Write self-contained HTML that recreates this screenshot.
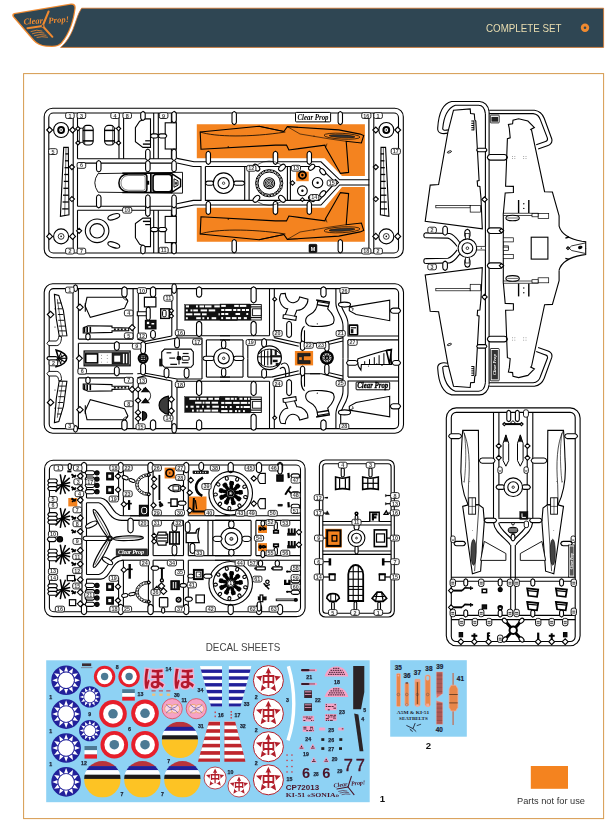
<!DOCTYPE html>
<html lang="en"><head><meta charset="utf-8"><title>Complete set</title>
<style>
html,body{margin:0;padding:0;background:#fff}
body{width:611px;height:834px;overflow:hidden}
svg{display:block;font-family:"Liberation Sans","Noto Sans CJK JP",sans-serif}
</style></head><body>
<svg width="611" height="834" viewBox="0 0 611 834">
<g opacity="0.999">
<g id="base">
<path d="M81.6 8.2 L603.6 8.2 L603.6 47.4 L60.6 47.4 C66.5 42.6 70.2 36 72.9 29.6 C75.6 23 77.6 14 81.6 8.2 Z" fill="#2f4653" stroke="#d9762a" stroke-width="0.8"/>
<path d="M14.2 13 L71 3.5 Q76 3 75.7 8 C74.2 20 70.4 33 62 43.2 Q58.6 47 52 47 L46 46.8 Q38 46.2 33 40.6 L12.8 17 Q11.2 13.8 14.2 13 Z" fill="#f08a30"/>
<path d="M15.4 14 L70.6 4.8 Q74.8 4.5 74.4 8.4 C73 19.6 69.4 32.4 61.2 42.2 Q58 45.8 52 45.7 L46.2 45.5 Q38.8 45 34.2 39.8 L14.2 16.4 Q13.2 14.5 15.4 14 Z" fill="#2f4653"/>
<g stroke="#f08a30" stroke-linecap="round" fill="none"><path d="M48.6 11.5 L42.6 26" stroke-width="2"/><path d="M42.6 26 L52.4 36.8" stroke-width="2"/><path d="M42.6 26 L27.4 28.2" stroke-width="1.9"/><circle cx="42.6" cy="26" r="1.4" fill="#2f4653" stroke-width="0.7"/><path d="M31 31.5 Q37 29 42 31 M32.5 33.6 Q38 31.2 44 33 M34.5 35.6 Q39.5 33.6 46 35.2 M37 37.4 Q41.5 36 47.5 37.2" stroke-width="0.8"/></g>
<text x="23.6" y="24.6" font-size="8.6" font-style="italic" font-weight="bold" fill="#f08a30" transform="rotate(-4 24 24)" font-family="'Liberation Serif',serif">Clear</text>
<text x="48.6" y="23.4" font-size="8.6" font-style="italic" font-weight="bold" fill="#f08a30" transform="rotate(-4 49 23)" font-family="'Liberation Serif',serif">Prop!</text>
<text x="561.5" y="31.6" font-size="11.2" text-anchor="end" fill="#e9ddb0" textLength="75.5" lengthAdjust="spacingAndGlyphs">COMPLETE SET</text>
<circle cx="585" cy="27.8" r="4.2" fill="#f08a30"/><circle cx="585" cy="27.8" r="1.3" fill="#2f4653"/>
<rect x="23.6" y="73.6" width="580" height="745" fill="none" stroke="#d69a4e" stroke-width="1"/>
<text x="243" y="651.4" font-size="11.4" text-anchor="middle" fill="#444" textLength="74.5" lengthAdjust="spacingAndGlyphs">DECAL SHEETS</text>
<rect x="530.8" y="766" width="37.2" height="22.8" fill="#f4831f"/>
<text x="551" y="803.5" font-size="9.4" text-anchor="middle" fill="#333" textLength="68" lengthAdjust="spacingAndGlyphs">Parts not for use</text>
<text x="382.5" y="802" font-size="9.6" text-anchor="middle" font-weight="bold" fill="#111">1</text>
<text x="428.5" y="749.4" font-size="9.6" text-anchor="middle" font-weight="bold" fill="#111">2</text>
</g>
<g id="decal1">
<rect x="46.2" y="660.3" width="323.5" height="141.9" fill="#8ed2f4"/>
<circle cx="66.1" cy="680.2" r="14.8" fill="#21209a" stroke="#000" stroke-width="0"/>
<polygon points="66.1,666.4 64.1,671.5 68.1,671.5" fill="#fff" stroke="#000" stroke-width="0"/>
<polygon points="73,668.3 68.7,671.7 72.2,673.7" fill="#fff" stroke="#000" stroke-width="0"/>
<polygon points="78,673.3 72.6,674.1 74.6,677.6" fill="#fff" stroke="#000" stroke-width="0"/>
<polygon points="79.9,680.2 74.8,678.2 74.8,682.2" fill="#fff" stroke="#000" stroke-width="0"/>
<polygon points="78,687.1 74.6,682.8 72.6,686.3" fill="#fff" stroke="#000" stroke-width="0"/>
<polygon points="73,692.1 72.2,686.7 68.7,688.7" fill="#fff" stroke="#000" stroke-width="0"/>
<polygon points="66.1,694 68.1,688.9 64.1,688.9" fill="#fff" stroke="#000" stroke-width="0"/>
<polygon points="59.2,692.1 63.5,688.7 60,686.7" fill="#fff" stroke="#000" stroke-width="0"/>
<polygon points="54.2,687.1 59.6,686.3 57.6,682.8" fill="#fff" stroke="#000" stroke-width="0"/>
<polygon points="52.3,680.2 57.4,682.2 57.4,678.2" fill="#fff" stroke="#000" stroke-width="0"/>
<polygon points="54.2,673.3 57.6,677.6 59.6,674.1" fill="#fff" stroke="#000" stroke-width="0"/>
<polygon points="59.2,668.3 60,673.7 63.5,671.7" fill="#fff" stroke="#000" stroke-width="0"/>
<circle cx="66.1" cy="680.2" r="7.8" fill="#fff" stroke="#000" stroke-width="0"/>
<circle cx="66.1" cy="714.1" r="14.8" fill="#21209a" stroke="#000" stroke-width="0"/>
<polygon points="66.1,700.3 64.1,705.4 68.1,705.4" fill="#fff" stroke="#000" stroke-width="0"/>
<polygon points="73,702.2 68.7,705.6 72.2,707.6" fill="#fff" stroke="#000" stroke-width="0"/>
<polygon points="78,707.2 72.6,708 74.6,711.5" fill="#fff" stroke="#000" stroke-width="0"/>
<polygon points="79.9,714.1 74.8,712.1 74.8,716.1" fill="#fff" stroke="#000" stroke-width="0"/>
<polygon points="78,721 74.6,716.7 72.6,720.2" fill="#fff" stroke="#000" stroke-width="0"/>
<polygon points="73,726 72.2,720.6 68.7,722.6" fill="#fff" stroke="#000" stroke-width="0"/>
<polygon points="66.1,727.9 68.1,722.8 64.1,722.8" fill="#fff" stroke="#000" stroke-width="0"/>
<polygon points="59.2,726 63.5,722.6 60,720.6" fill="#fff" stroke="#000" stroke-width="0"/>
<polygon points="54.2,721 59.6,720.2 57.6,716.7" fill="#fff" stroke="#000" stroke-width="0"/>
<polygon points="52.3,714.1 57.4,716.1 57.4,712.1" fill="#fff" stroke="#000" stroke-width="0"/>
<polygon points="54.2,707.2 57.6,711.5 59.6,708" fill="#fff" stroke="#000" stroke-width="0"/>
<polygon points="59.2,702.2 60,707.6 63.5,705.6" fill="#fff" stroke="#000" stroke-width="0"/>
<circle cx="66.1" cy="714.1" r="7.8" fill="#fff" stroke="#000" stroke-width="0"/>
<circle cx="66.1" cy="748" r="14.8" fill="#21209a" stroke="#000" stroke-width="0"/>
<polygon points="66.1,734.2 64.1,739.3 68.1,739.3" fill="#fff" stroke="#000" stroke-width="0"/>
<polygon points="73,736.1 68.7,739.5 72.2,741.5" fill="#fff" stroke="#000" stroke-width="0"/>
<polygon points="78,741.1 72.6,741.9 74.6,745.4" fill="#fff" stroke="#000" stroke-width="0"/>
<polygon points="79.9,748 74.8,746 74.8,750" fill="#fff" stroke="#000" stroke-width="0"/>
<polygon points="78,754.9 74.6,750.6 72.6,754.1" fill="#fff" stroke="#000" stroke-width="0"/>
<polygon points="73,759.9 72.2,754.5 68.7,756.5" fill="#fff" stroke="#000" stroke-width="0"/>
<polygon points="66.1,761.8 68.1,756.7 64.1,756.7" fill="#fff" stroke="#000" stroke-width="0"/>
<polygon points="59.2,759.9 63.5,756.5 60,754.5" fill="#fff" stroke="#000" stroke-width="0"/>
<polygon points="54.2,754.9 59.6,754.1 57.6,750.6" fill="#fff" stroke="#000" stroke-width="0"/>
<polygon points="52.3,748 57.4,750 57.4,746" fill="#fff" stroke="#000" stroke-width="0"/>
<polygon points="54.2,741.1 57.6,745.4 59.6,741.9" fill="#fff" stroke="#000" stroke-width="0"/>
<polygon points="59.2,736.1 60,741.5 63.5,739.5" fill="#fff" stroke="#000" stroke-width="0"/>
<circle cx="66.1" cy="748" r="7.8" fill="#fff" stroke="#000" stroke-width="0"/>
<circle cx="66.1" cy="781.9" r="14.8" fill="#21209a" stroke="#000" stroke-width="0"/>
<polygon points="66.1,768.1 64.1,773.2 68.1,773.2" fill="#fff" stroke="#000" stroke-width="0"/>
<polygon points="73,770 68.7,773.4 72.2,775.4" fill="#fff" stroke="#000" stroke-width="0"/>
<polygon points="78,775 72.6,775.8 74.6,779.3" fill="#fff" stroke="#000" stroke-width="0"/>
<polygon points="79.9,781.9 74.8,779.9 74.8,783.9" fill="#fff" stroke="#000" stroke-width="0"/>
<polygon points="78,788.8 74.6,784.5 72.6,788" fill="#fff" stroke="#000" stroke-width="0"/>
<polygon points="73,793.8 72.2,788.4 68.7,790.4" fill="#fff" stroke="#000" stroke-width="0"/>
<polygon points="66.1,795.7 68.1,790.6 64.1,790.6" fill="#fff" stroke="#000" stroke-width="0"/>
<polygon points="59.2,793.8 63.5,790.4 60,788.4" fill="#fff" stroke="#000" stroke-width="0"/>
<polygon points="54.2,788.8 59.6,788 57.6,784.5" fill="#fff" stroke="#000" stroke-width="0"/>
<polygon points="52.3,781.9 57.4,783.9 57.4,779.9" fill="#fff" stroke="#000" stroke-width="0"/>
<polygon points="54.2,775 57.6,779.3 59.6,775.8" fill="#fff" stroke="#000" stroke-width="0"/>
<polygon points="59.2,770 60,775.4 63.5,773.4" fill="#fff" stroke="#000" stroke-width="0"/>
<circle cx="66.1" cy="781.9" r="7.8" fill="#fff" stroke="#000" stroke-width="0"/>
<circle cx="89.8" cy="696.9" r="10.7" fill="#21209a" stroke="#000" stroke-width="0"/>
<polygon points="89.8,686.9 88.4,690.6 91.2,690.6" fill="#fff" stroke="#000" stroke-width="0"/>
<polygon points="94.8,688.3 91.7,690.8 94.2,692.2" fill="#fff" stroke="#000" stroke-width="0"/>
<polygon points="98.4,691.9 94.5,692.5 95.9,695" fill="#fff" stroke="#000" stroke-width="0"/>
<polygon points="99.8,696.9 96.1,695.5 96.1,698.3" fill="#fff" stroke="#000" stroke-width="0"/>
<polygon points="98.4,701.9 95.9,698.8 94.5,701.3" fill="#fff" stroke="#000" stroke-width="0"/>
<polygon points="94.8,705.5 94.2,701.6 91.7,703" fill="#fff" stroke="#000" stroke-width="0"/>
<polygon points="89.8,706.9 91.2,703.2 88.4,703.2" fill="#fff" stroke="#000" stroke-width="0"/>
<polygon points="84.8,705.5 87.9,703 85.4,701.6" fill="#fff" stroke="#000" stroke-width="0"/>
<polygon points="81.2,701.9 85.1,701.3 83.7,698.8" fill="#fff" stroke="#000" stroke-width="0"/>
<polygon points="79.8,696.9 83.5,698.3 83.5,695.5" fill="#fff" stroke="#000" stroke-width="0"/>
<polygon points="81.2,691.9 83.7,695 85.1,692.5" fill="#fff" stroke="#000" stroke-width="0"/>
<polygon points="84.8,688.3 85.4,692.2 87.9,690.8" fill="#fff" stroke="#000" stroke-width="0"/>
<circle cx="89.8" cy="696.9" r="5.6" fill="#fff" stroke="#000" stroke-width="0"/>
<circle cx="89.8" cy="730.6" r="10.7" fill="#21209a" stroke="#000" stroke-width="0"/>
<polygon points="89.8,720.6 88.4,724.3 91.2,724.3" fill="#fff" stroke="#000" stroke-width="0"/>
<polygon points="94.8,722 91.7,724.5 94.2,725.9" fill="#fff" stroke="#000" stroke-width="0"/>
<polygon points="98.4,725.6 94.5,726.2 95.9,728.7" fill="#fff" stroke="#000" stroke-width="0"/>
<polygon points="99.8,730.6 96.1,729.2 96.1,732" fill="#fff" stroke="#000" stroke-width="0"/>
<polygon points="98.4,735.6 95.9,732.5 94.5,735" fill="#fff" stroke="#000" stroke-width="0"/>
<polygon points="94.8,739.2 94.2,735.3 91.7,736.7" fill="#fff" stroke="#000" stroke-width="0"/>
<polygon points="89.8,740.6 91.2,736.9 88.4,736.9" fill="#fff" stroke="#000" stroke-width="0"/>
<polygon points="84.8,739.2 87.9,736.7 85.4,735.3" fill="#fff" stroke="#000" stroke-width="0"/>
<polygon points="81.2,735.6 85.1,735 83.7,732.5" fill="#fff" stroke="#000" stroke-width="0"/>
<polygon points="79.8,730.6 83.5,732 83.5,729.2" fill="#fff" stroke="#000" stroke-width="0"/>
<polygon points="81.2,725.6 83.7,728.7 85.1,726.2" fill="#fff" stroke="#000" stroke-width="0"/>
<polygon points="84.8,722 85.4,725.9 87.9,724.5" fill="#fff" stroke="#000" stroke-width="0"/>
<circle cx="89.8" cy="730.6" r="5.6" fill="#fff" stroke="#000" stroke-width="0"/>
<text x="50.6" y="699.1" font-size="5.2" text-anchor="middle" font-weight="bold" fill="#1c2233" stroke="#1c2233" stroke-width="0.25">1</text>
<text x="50.6" y="732.9" font-size="5.2" text-anchor="middle" font-weight="bold" fill="#1c2233" stroke="#1c2233" stroke-width="0.25">1</text>
<text x="50.6" y="766.4" font-size="5.2" text-anchor="middle" font-weight="bold" fill="#1c2233" stroke="#1c2233" stroke-width="0.25">1</text>
<text x="89.8" y="716.2" font-size="5.2" text-anchor="middle" font-weight="bold" fill="#1c2233" stroke="#1c2233" stroke-width="0.25">9</text>
<text x="84" y="765.2" font-size="5.2" text-anchor="middle" font-weight="bold" fill="#1c2233" stroke="#1c2233" stroke-width="0.25">12</text>
<rect x="82" y="663.4" width="9.2" height="2.7" fill="#3a2a30"/>
<rect x="81" y="667.4" width="11.4" height="0.7" fill="#7a6a78"/>
<circle cx="104.6" cy="676.5" r="10.7" fill="#e61f2b" stroke="#000" stroke-width="0"/>
<circle cx="104.6" cy="676.5" r="7.7" fill="#fff" stroke="#000" stroke-width="0"/>
<circle cx="104.6" cy="676.5" r="3.7" fill="#4c7a94" stroke="#000" stroke-width="0"/>
<circle cx="129.1" cy="676.5" r="10.7" fill="#e61f2b" stroke="#000" stroke-width="0"/>
<circle cx="129.1" cy="676.5" r="7.7" fill="#fff" stroke="#000" stroke-width="0"/>
<circle cx="129.1" cy="676.5" r="3.7" fill="#4c7a94" stroke="#000" stroke-width="0"/>
<circle cx="113" cy="713.8" r="13.8" fill="#e61f2b" stroke="#000" stroke-width="0"/>
<circle cx="113" cy="713.8" r="9.9" fill="#fff" stroke="#000" stroke-width="0"/>
<circle cx="113" cy="713.8" r="4.8" fill="#4c7a94" stroke="#000" stroke-width="0"/>
<circle cx="145" cy="713.3" r="13.8" fill="#e61f2b" stroke="#000" stroke-width="0"/>
<circle cx="145" cy="713.3" r="9.9" fill="#fff" stroke="#000" stroke-width="0"/>
<circle cx="145" cy="713.3" r="4.8" fill="#4c7a94" stroke="#000" stroke-width="0"/>
<circle cx="114.3" cy="744.7" r="13.8" fill="#e61f2b" stroke="#000" stroke-width="0"/>
<circle cx="114.3" cy="744.7" r="9.9" fill="#fff" stroke="#000" stroke-width="0"/>
<circle cx="114.3" cy="744.7" r="4.8" fill="#4c7a94" stroke="#000" stroke-width="0"/>
<circle cx="145" cy="744.7" r="13.8" fill="#e61f2b" stroke="#000" stroke-width="0"/>
<circle cx="145" cy="744.7" r="9.9" fill="#fff" stroke="#000" stroke-width="0"/>
<circle cx="145" cy="744.7" r="4.8" fill="#4c7a94" stroke="#000" stroke-width="0"/>
<text x="117.2" y="669.1" font-size="5.2" text-anchor="middle" font-weight="bold" fill="#1c2233" stroke="#1c2233" stroke-width="0.25">8</text>
<text x="129.4" y="731.2" font-size="5.4" text-anchor="middle" font-weight="bold" fill="#1c2233" stroke="#1c2233" stroke-width="0.25">6</text>
<text x="140.4" y="695.9" font-size="5.2" text-anchor="middle" font-weight="bold" fill="#1c2233" stroke="#1c2233" stroke-width="0.25">13</text>
<rect x="122.2" y="689.2" width="12.6" height="3.8" fill="#4c7a94"/>
<rect x="122.2" y="693" width="12.6" height="3.8" fill="#fff"/>
<rect x="122.2" y="696.8" width="12.6" height="3.8" fill="#e61f2b"/>
<rect x="84.5" y="746" width="12.5" height="4.2" fill="#4c7a94"/>
<rect x="84.5" y="750.2" width="12.5" height="4.2" fill="#fff"/>
<rect x="84.5" y="754.4" width="12.5" height="4.2" fill="#e61f2b"/>
<text x="153.8" y="686.6" font-size="22.4" text-anchor="middle" font-weight="bold" fill="#b3182c" stroke="#f7b2d0" stroke-width="2.6" paint-order="stroke" font-family="'Noto Sans CJK JP',sans-serif">ほ</text>
<text x="183.6" y="686.6" font-size="22.4" text-anchor="middle" font-weight="bold" fill="#b3182c" stroke="#f7b2d0" stroke-width="2.6" paint-order="stroke" font-family="'Noto Sans CJK JP',sans-serif">ほ</text>
<text x="168.5" y="671.1" font-size="5.2" text-anchor="middle" font-weight="bold" fill="#1c2233" stroke="#1c2233" stroke-width="0.25">14</text>
<text x="176.8" y="696.5" font-size="5.2" text-anchor="middle" font-weight="bold" fill="#1c2233" stroke="#1c2233" stroke-width="0.25">30</text>
<text x="184.2" y="701.9" font-size="5.2" text-anchor="middle" font-weight="bold" fill="#1c2233" stroke="#1c2233" stroke-width="0.25">11</text>
<text x="200.4" y="692.4" font-size="5.2" text-anchor="middle" font-weight="bold" fill="#1c2233" stroke="#1c2233" stroke-width="0.25">34</text>
<text x="200.8" y="727.6" font-size="5.2" text-anchor="middle" font-weight="bold" fill="#1c2233" stroke="#1c2233" stroke-width="0.25">31</text>
<rect x="151.5" y="690.4" width="4.2" height="1" fill="#c8343e"/>
<rect x="152.1" y="693.6" width="3.2" height="2.2" fill="#f1c07a"/>
<rect x="158.8" y="690.4" width="4.2" height="1" fill="#c8343e"/>
<rect x="159.4" y="693.6" width="3.2" height="2.2" fill="#f1c07a"/>
<rect x="166.2" y="690.4" width="4.2" height="1" fill="#c8343e"/>
<rect x="166.8" y="693.6" width="3.2" height="2.2" fill="#f1c07a"/>
<circle cx="172.2" cy="708.7" r="10.1" fill="#f5a3c6" stroke="#d93a45" stroke-width="0.7"/>
<circle cx="169" cy="708.7" r="4.3" fill="#fbd3e4" stroke="#e8a24a" stroke-width="0.7"/>
<circle cx="175.4" cy="708.7" r="4.3" fill="#fbd3e4" stroke="#e8a24a" stroke-width="0.7"/>
<path d="M 166.2 704.5 Q 172.2 712 178.2 704.5" fill="none" stroke="#3b3ba0" stroke-width="0.6"/>
<path d="M 166.2 713 Q 172.2 705.5 178.2 713" fill="none" stroke="#3b3ba0" stroke-width="0.6"/>
<circle cx="196.3" cy="708.7" r="10.1" fill="#f5a3c6" stroke="#d93a45" stroke-width="0.7"/>
<circle cx="193.1" cy="708.7" r="4.3" fill="#fbd3e4" stroke="#e8a24a" stroke-width="0.7"/>
<circle cx="199.5" cy="708.7" r="4.3" fill="#fbd3e4" stroke="#e8a24a" stroke-width="0.7"/>
<path d="M 190.3 704.5 Q 196.3 712 202.3 704.5" fill="none" stroke="#3b3ba0" stroke-width="0.6"/>
<path d="M 190.3 713 Q 196.3 705.5 202.3 713" fill="none" stroke="#3b3ba0" stroke-width="0.6"/>
<clipPath id="mc1"><circle cx="179.9" cy="739.9" r="18.2"/></clipPath>
<g clip-path="url(#mc1)">
<rect x="161.7" y="721.7" width="36.4" height="5.5" fill="#b9343c"/>
<rect x="161.7" y="726.8" width="36.4" height="4.4" fill="#21209a"/>
<rect x="161.7" y="730.8" width="36.4" height="4.7" fill="#fff"/>
<rect x="161.7" y="735.3" width="36.4" height="4.4" fill="#1d1a1a"/>
<rect x="161.7" y="739.5" width="36.4" height="18.6" fill="#fdc324"/>
</g>
<clipPath id="mc2"><circle cx="102.4" cy="779.3" r="18.3"/></clipPath>
<g clip-path="url(#mc2)">
<rect x="84.1" y="761" width="36.6" height="5.5" fill="#b9343c"/>
<rect x="84.1" y="766.1" width="36.6" height="4.4" fill="#21209a"/>
<rect x="84.1" y="770.1" width="36.6" height="4.8" fill="#fff"/>
<rect x="84.1" y="774.7" width="36.6" height="4.4" fill="#1d1a1a"/>
<rect x="84.1" y="778.9" width="36.6" height="18.7" fill="#fdc324"/>
</g>
<clipPath id="mc3"><circle cx="142.4" cy="779.3" r="18.3"/></clipPath>
<g clip-path="url(#mc3)">
<rect x="124.1" y="761" width="36.6" height="5.5" fill="#b9343c"/>
<rect x="124.1" y="766.1" width="36.6" height="4.4" fill="#21209a"/>
<rect x="124.1" y="770.1" width="36.6" height="4.8" fill="#fff"/>
<rect x="124.1" y="774.7" width="36.6" height="4.4" fill="#1d1a1a"/>
<rect x="124.1" y="778.9" width="36.6" height="18.7" fill="#fdc324"/>
</g>
<clipPath id="mc4"><circle cx="182.4" cy="779.3" r="18.3"/></clipPath>
<g clip-path="url(#mc4)">
<rect x="164.1" y="761" width="36.6" height="5.5" fill="#b9343c"/>
<rect x="164.1" y="766.1" width="36.6" height="4.4" fill="#21209a"/>
<rect x="164.1" y="770.1" width="36.6" height="4.8" fill="#fff"/>
<rect x="164.1" y="774.7" width="36.6" height="4.4" fill="#1d1a1a"/>
<rect x="164.1" y="778.9" width="36.6" height="18.7" fill="#fdc324"/>
</g>
<text x="168.6" y="762.7" font-size="5.2" text-anchor="middle" font-weight="bold" fill="#1c2233" stroke="#1c2233" stroke-width="0.25">7</text>
<text x="122" y="795.5" font-size="5.2" text-anchor="middle" font-weight="bold" fill="#1c2233" stroke="#1c2233" stroke-width="0.25">7</text>
<text x="162.4" y="795.5" font-size="5.2" text-anchor="middle" font-weight="bold" fill="#1c2233" stroke="#1c2233" stroke-width="0.25">7</text>
<clipPath id="st1"><polygon points="199.9,666.1 222,666.1 222,706.6 210.9,706.6"/></clipPath>
<g clip-path="url(#st1)">
<rect x="199.9" y="666.1" width="22.1" height="40.8" fill="#fff"/>
<rect x="199.9" y="669.5" width="22.1" height="3.4" fill="#21209a"/>
<rect x="199.9" y="676.3" width="22.1" height="3.4" fill="#21209a"/>
<rect x="199.9" y="683.1" width="22.1" height="3.4" fill="#21209a"/>
<rect x="199.9" y="689.9" width="22.1" height="3.4" fill="#21209a"/>
<rect x="199.9" y="696.7" width="22.1" height="3.4" fill="#21209a"/>
<rect x="199.9" y="703.5" width="22.1" height="3.4" fill="#21209a"/>
</g>
<clipPath id="st2"><polygon points="228.6,666.1 251.5,666.1 240.6,706.6 228.6,706.6"/></clipPath>
<g clip-path="url(#st2)">
<rect x="228.6" y="666.1" width="22.9" height="40.8" fill="#fff"/>
<rect x="228.6" y="669.5" width="22.9" height="3.4" fill="#21209a"/>
<rect x="228.6" y="676.3" width="22.9" height="3.4" fill="#21209a"/>
<rect x="228.6" y="683.1" width="22.9" height="3.4" fill="#21209a"/>
<rect x="228.6" y="689.9" width="22.9" height="3.4" fill="#21209a"/>
<rect x="228.6" y="696.7" width="22.9" height="3.4" fill="#21209a"/>
<rect x="228.6" y="703.5" width="22.9" height="3.4" fill="#21209a"/>
</g>
<clipPath id="st3"><polygon points="208.9,721.5 220,721.5 220,761.8 198,761.8"/></clipPath>
<g clip-path="url(#st3)">
<rect x="198" y="718.2" width="22" height="43.9" fill="#bf262d"/>
<rect x="198" y="718.2" width="22" height="3.7" fill="#fff"/>
<rect x="198" y="725.5" width="22" height="3.7" fill="#fff"/>
<rect x="198" y="732.8" width="22" height="3.7" fill="#fff"/>
<rect x="198" y="740.1" width="22" height="3.7" fill="#fff"/>
<rect x="198" y="747.4" width="22" height="3.7" fill="#fff"/>
<rect x="198" y="754.8" width="22" height="3.7" fill="#fff"/>
</g>
<clipPath id="st4"><polygon points="224.2,721.5 235.1,721.5 245.6,761.8 224.2,761.8"/></clipPath>
<g clip-path="url(#st4)">
<rect x="224.2" y="718.2" width="21.4" height="43.9" fill="#bf262d"/>
<rect x="224.2" y="718.2" width="21.4" height="3.7" fill="#fff"/>
<rect x="224.2" y="725.5" width="21.4" height="3.7" fill="#fff"/>
<rect x="224.2" y="732.8" width="21.4" height="3.7" fill="#fff"/>
<rect x="224.2" y="740.1" width="21.4" height="3.7" fill="#fff"/>
<rect x="224.2" y="747.4" width="21.4" height="3.7" fill="#fff"/>
<rect x="224.2" y="754.8" width="21.4" height="3.7" fill="#fff"/>
</g>
<text x="246.6" y="706.3" font-size="5.2" text-anchor="middle" font-weight="bold" fill="#1c2233" stroke="#1c2233" stroke-width="0.25">33</text>
<text x="220.8" y="716.5" font-size="5.2" text-anchor="middle" font-weight="bold" fill="#1c2233" stroke="#1c2233" stroke-width="0.25">16</text>
<text x="237.4" y="716.5" font-size="5.2" text-anchor="middle" font-weight="bold" fill="#1c2233" stroke="#1c2233" stroke-width="0.25">17</text>
<text x="242.8" y="727.9" font-size="5.2" text-anchor="middle" font-weight="bold" fill="#1c2233" stroke="#1c2233" stroke-width="0.25">32</text>
<rect x="214.6" y="711.5" width="1.2" height="1.6" fill="#d12a34"/>
<rect x="214.6" y="715.6" width="1.2" height="1.6" fill="#d12a34"/>
<rect x="230.6" y="711" width="1.2" height="1.6" fill="#d12a34"/>
<rect x="230.6" y="714" width="1.2" height="1.6" fill="#d12a34"/>
<rect x="230.6" y="717" width="1.2" height="1.6" fill="#d12a34"/>
<circle cx="268.4" cy="680.6" r="15" fill="#fff" stroke="#b21f2b" stroke-width="1"/>
<polygon points="268.4,667.6 272.1,675.5 280.8,676.6 274.4,682.5 276.1,691.2 268.4,686.9 260.7,691.2 262.4,682.5 256,676.6 264.7,675.5" fill="#b21f2b" stroke="#000" stroke-width="0"/>
<circle cx="268.4" cy="680.6" r="7.5" fill="#fff" stroke="#000" stroke-width="0"/>
<text x="0" y="0" font-size="16.2" text-anchor="middle" font-weight="bold" fill="#b21f2b" transform="translate(268.4 686.4) scale(0.86 1)" font-family="'Noto Sans CJK SC','Noto Sans CJK JP',sans-serif">中</text>
<circle cx="268.4" cy="713.7" r="15" fill="#fff" stroke="#b21f2b" stroke-width="1"/>
<polygon points="268.4,700.7 272.1,708.6 280.8,709.7 274.4,715.6 276.1,724.3 268.4,720 260.7,724.3 262.4,715.6 256,709.7 264.7,708.6" fill="#b21f2b" stroke="#000" stroke-width="0"/>
<circle cx="268.4" cy="713.7" r="7.5" fill="#fff" stroke="#000" stroke-width="0"/>
<text x="0" y="0" font-size="16.2" text-anchor="middle" font-weight="bold" fill="#b21f2b" transform="translate(268.4 719.5) scale(0.86 1)" font-family="'Noto Sans CJK SC','Noto Sans CJK JP',sans-serif">中</text>
<circle cx="268.4" cy="746.7" r="15" fill="#fff" stroke="#b21f2b" stroke-width="1"/>
<polygon points="268.4,733.7 272.1,741.6 280.8,742.7 274.4,748.6 276.1,757.3 268.4,753 260.7,757.3 262.4,748.6 256,742.7 264.7,741.6" fill="#b21f2b" stroke="#000" stroke-width="0"/>
<circle cx="268.4" cy="746.7" r="7.5" fill="#fff" stroke="#000" stroke-width="0"/>
<text x="0" y="0" font-size="16.2" text-anchor="middle" font-weight="bold" fill="#b21f2b" transform="translate(268.4 752.5) scale(0.86 1)" font-family="'Noto Sans CJK SC','Noto Sans CJK JP',sans-serif">中</text>
<circle cx="268.4" cy="779.8" r="15" fill="#fff" stroke="#b21f2b" stroke-width="1"/>
<polygon points="268.4,766.8 272.1,774.7 280.8,775.8 274.4,781.7 276.1,790.4 268.4,786.1 260.7,790.4 262.4,781.7 256,775.8 264.7,774.7" fill="#b21f2b" stroke="#000" stroke-width="0"/>
<circle cx="268.4" cy="779.8" r="7.5" fill="#fff" stroke="#000" stroke-width="0"/>
<text x="0" y="0" font-size="16.2" text-anchor="middle" font-weight="bold" fill="#b21f2b" transform="translate(268.4 785.6) scale(0.86 1)" font-family="'Noto Sans CJK SC','Noto Sans CJK JP',sans-serif">中</text>
<circle cx="215.1" cy="778" r="11" fill="#fff" stroke="#b21f2b" stroke-width="0.8"/>
<polygon points="215.1,768.4 217.8,774.3 224.2,775 219.5,779.4 220.7,785.7 215.1,782.6 209.5,785.7 210.7,779.4 206,775 212.4,774.3" fill="#b21f2b" stroke="#000" stroke-width="0"/>
<circle cx="215.1" cy="778" r="5.5" fill="#fff" stroke="#000" stroke-width="0"/>
<text x="0" y="0" font-size="11.9" text-anchor="middle" font-weight="bold" fill="#b21f2b" transform="translate(215.1 782.3) scale(0.86 1)" font-family="'Noto Sans CJK SC','Noto Sans CJK JP',sans-serif">中</text>
<circle cx="239" cy="786" r="11" fill="#fff" stroke="#b21f2b" stroke-width="0.8"/>
<polygon points="239,776.4 241.7,782.3 248.1,783 243.4,787.4 244.6,793.7 239,790.6 233.4,793.7 234.6,787.4 229.9,783 236.3,782.3" fill="#b21f2b" stroke="#000" stroke-width="0"/>
<circle cx="239" cy="786" r="5.5" fill="#fff" stroke="#000" stroke-width="0"/>
<text x="0" y="0" font-size="11.9" text-anchor="middle" font-weight="bold" fill="#b21f2b" transform="translate(239 790.3) scale(0.86 1)" font-family="'Noto Sans CJK SC','Noto Sans CJK JP',sans-serif">中</text>
<text x="256.2" y="698.9" font-size="5.2" text-anchor="middle" font-weight="bold" fill="#1c2233" stroke="#1c2233" stroke-width="0.25">2</text>
<text x="256.2" y="732.1" font-size="5.2" text-anchor="middle" font-weight="bold" fill="#1c2233" stroke="#1c2233" stroke-width="0.25">2</text>
<text x="256.2" y="765.3" font-size="5.2" text-anchor="middle" font-weight="bold" fill="#1c2233" stroke="#1c2233" stroke-width="0.25">2</text>
<text x="230.4" y="773.9" font-size="5.2" text-anchor="middle" font-weight="bold" fill="#1c2233" stroke="#1c2233" stroke-width="0.25">10</text>
<text x="289.5" y="780.7" font-size="5.2" text-anchor="middle" font-weight="bold" fill="#1c2233" stroke="#1c2233" stroke-width="0.25">15</text>
<text x="287.4" y="701.9" font-size="5.2" text-anchor="middle" font-weight="bold" fill="#1c2233" stroke="#1c2233" stroke-width="0.25">3</text>
<path d="M 288.4 666.2 C 295.5 690 295.8 718 288 740.4" fill="none" stroke="#fff" stroke-width="3.4"/>
<rect x="286.4" y="754.4" width="1.3" height="1.3" fill="#d12a34"/>
<rect x="291.3" y="754.4" width="1.3" height="1.3" fill="#d12a34"/>
<rect x="286.4" y="759.8" width="1.3" height="1.3" fill="#d12a34"/>
<rect x="291.3" y="759.8" width="1.3" height="1.3" fill="#d12a34"/>
<rect x="286.4" y="765.9" width="1.3" height="1.3" fill="#d12a34"/>
<rect x="291.3" y="765.9" width="1.3" height="1.3" fill="#d12a34"/>
<rect x="286.4" y="771.3" width="1.3" height="1.3" fill="#d12a34"/>
<rect x="291.3" y="771.3" width="1.3" height="1.3" fill="#d12a34"/>
<polygon points="353.2,666.1 364.3,666.1 364.3,692 361,709.2 353.2,709.2" fill="#2a2326" stroke="#000" stroke-width="0"/>
<polygon points="354.2,713.4 358.4,714.6 363.4,751.2 359.6,751.2" fill="#2a2326" stroke="#000" stroke-width="0"/>
<text x="364.6" y="712.1" font-size="5.2" text-anchor="middle" font-weight="bold" fill="#1c2233" stroke="#1c2233" stroke-width="0.25">5</text>
<text x="362.8" y="721.1" font-size="5.2" text-anchor="middle" font-weight="bold" fill="#1c2233" stroke="#1c2233" stroke-width="0.25">4</text>
<rect x="301" y="669" width="16" height="2.4" rx="1.2" fill="#f5a3c6" stroke="#000" stroke-width="0"/>
<rect x="301" y="669.1" width="8.5" height="2.2" rx="1.1" fill="#3a1a28" stroke="#000" stroke-width="0"/>
<rect x="309" y="669.8" width="6" height="0.7" fill="#5a2a3a"/>
<rect x="301" y="682.8" width="16" height="2.4" rx="1.2" fill="#f5a3c6" stroke="#000" stroke-width="0"/>
<rect x="301" y="682.9" width="8.5" height="2.2" rx="1.1" fill="#3a1a28" stroke="#000" stroke-width="0"/>
<rect x="309" y="683.6" width="6" height="0.7" fill="#5a2a3a"/>
<text x="309.2" y="678.9" font-size="5.2" text-anchor="middle" font-weight="bold" fill="#1c2233" stroke="#1c2233" stroke-width="0.25">21</text>
<path d="M 324.6 676.4 C 328 662.9 345 662.9 348.4 676.4 Z" fill="#f5a3c6" stroke="#000" stroke-width="0"/>
<rect x="333" y="667.8" width="1.6" height="1" fill="#3a1a28"/>
<rect x="335.3" y="667.8" width="1.6" height="1" fill="#3a1a28"/>
<rect x="337.6" y="667.8" width="1.6" height="1" fill="#3a1a28"/>
<rect x="339.9" y="667.8" width="0.1" height="1" fill="#3a1a28"/>
<rect x="330.5" y="669.8" width="1.6" height="1" fill="#3a1a28"/>
<rect x="332.8" y="669.8" width="1.6" height="1" fill="#3a1a28"/>
<rect x="335.1" y="669.8" width="1.6" height="1" fill="#3a1a28"/>
<rect x="337.4" y="669.8" width="1.6" height="1" fill="#3a1a28"/>
<rect x="339.7" y="669.8" width="1.6" height="1" fill="#3a1a28"/>
<rect x="342" y="669.8" width="0.5" height="1" fill="#3a1a28"/>
<rect x="329" y="671.8" width="1.6" height="1" fill="#3a1a28"/>
<rect x="331.3" y="671.8" width="1.6" height="1" fill="#3a1a28"/>
<rect x="333.6" y="671.8" width="1.6" height="1" fill="#3a1a28"/>
<rect x="335.9" y="671.8" width="1.6" height="1" fill="#3a1a28"/>
<rect x="338.2" y="671.8" width="1.6" height="1" fill="#3a1a28"/>
<rect x="340.5" y="671.8" width="1.6" height="1" fill="#3a1a28"/>
<rect x="342.8" y="671.8" width="1.2" height="1" fill="#3a1a28"/>
<rect x="328" y="673.8" width="1.6" height="1" fill="#3a1a28"/>
<rect x="330.3" y="673.8" width="1.6" height="1" fill="#3a1a28"/>
<rect x="332.6" y="673.8" width="1.6" height="1" fill="#3a1a28"/>
<rect x="334.9" y="673.8" width="1.6" height="1" fill="#3a1a28"/>
<rect x="337.2" y="673.8" width="1.6" height="1" fill="#3a1a28"/>
<rect x="339.5" y="673.8" width="1.6" height="1" fill="#3a1a28"/>
<rect x="341.8" y="673.8" width="1.6" height="1" fill="#3a1a28"/>
<rect x="344.1" y="673.8" width="0.9" height="1" fill="#3a1a28"/>
<path d="M 324.6 697 C 328 683.5 345 683.5 348.4 697 Z" fill="#f5a3c6" stroke="#000" stroke-width="0"/>
<rect x="333" y="688.4" width="1.6" height="1" fill="#3a1a28"/>
<rect x="335.3" y="688.4" width="1.6" height="1" fill="#3a1a28"/>
<rect x="337.6" y="688.4" width="1.6" height="1" fill="#3a1a28"/>
<rect x="339.9" y="688.4" width="0.1" height="1" fill="#3a1a28"/>
<rect x="330.5" y="690.4" width="1.6" height="1" fill="#3a1a28"/>
<rect x="332.8" y="690.4" width="1.6" height="1" fill="#3a1a28"/>
<rect x="335.1" y="690.4" width="1.6" height="1" fill="#3a1a28"/>
<rect x="337.4" y="690.4" width="1.6" height="1" fill="#3a1a28"/>
<rect x="339.7" y="690.4" width="1.6" height="1" fill="#3a1a28"/>
<rect x="342" y="690.4" width="0.5" height="1" fill="#3a1a28"/>
<rect x="329" y="692.4" width="1.6" height="1" fill="#3a1a28"/>
<rect x="331.3" y="692.4" width="1.6" height="1" fill="#3a1a28"/>
<rect x="333.6" y="692.4" width="1.6" height="1" fill="#3a1a28"/>
<rect x="335.9" y="692.4" width="1.6" height="1" fill="#3a1a28"/>
<rect x="338.2" y="692.4" width="1.6" height="1" fill="#3a1a28"/>
<rect x="340.5" y="692.4" width="1.6" height="1" fill="#3a1a28"/>
<rect x="342.8" y="692.4" width="1.2" height="1" fill="#3a1a28"/>
<rect x="328" y="694.4" width="1.6" height="1" fill="#3a1a28"/>
<rect x="330.3" y="694.4" width="1.6" height="1" fill="#3a1a28"/>
<rect x="332.6" y="694.4" width="1.6" height="1" fill="#3a1a28"/>
<rect x="334.9" y="694.4" width="1.6" height="1" fill="#3a1a28"/>
<rect x="337.2" y="694.4" width="1.6" height="1" fill="#3a1a28"/>
<rect x="339.5" y="694.4" width="1.6" height="1" fill="#3a1a28"/>
<rect x="341.8" y="694.4" width="1.6" height="1" fill="#3a1a28"/>
<rect x="344.1" y="694.4" width="0.9" height="1" fill="#3a1a28"/>
<text x="337" y="683.9" font-size="5.2" text-anchor="middle" font-weight="bold" fill="#1c2233" stroke="#1c2233" stroke-width="0.25">18</text>
<rect x="304.2" y="690.4" width="7.8" height="7.6" fill="#3a2430"/>
<rect x="304.8" y="691.4" width="6.6" height="0.9" fill="#f5a3c6"/>
<rect x="304.8" y="694" width="6.6" height="0.8" fill="#f5a3c6"/>
<rect x="304.2" y="703.4" width="7.8" height="7.6" fill="#3a2430"/>
<rect x="304.8" y="704.4" width="6.6" height="0.9" fill="#f5a3c6"/>
<rect x="304.8" y="707" width="6.6" height="0.8" fill="#f5a3c6"/>
<text x="317.8" y="702.1" font-size="5.2" text-anchor="middle" font-weight="bold" fill="#1c2233" stroke="#1c2233" stroke-width="0.25">22</text>
<rect x="325" y="703.5" width="11.6" height="6.7" rx="0.6" fill="#f5a3c6" stroke="#000" stroke-width="0"/>
<rect x="325.8" y="704.3" width="1.2" height="0.9" fill="#3a1a28"/>
<rect x="334.4" y="704.3" width="1.6" height="0.9" fill="#3a1a28"/>
<rect x="325.8" y="706" width="1.2" height="0.9" fill="#3a1a28"/>
<rect x="327.8" y="706" width="3" height="0.9" fill="#3a1a28"/>
<rect x="331.6" y="706" width="2" height="0.9" fill="#3a1a28"/>
<rect x="333.4" y="707.7" width="2.6" height="0.9" fill="#3a1a28"/>
<rect x="327.8" y="709.4" width="2" height="0.9" fill="#3a1a28"/>
<rect x="325" y="714" width="11.6" height="6.8" rx="0.6" fill="#f5a3c6" stroke="#000" stroke-width="0"/>
<rect x="325.8" y="714.8" width="1.2" height="0.9" fill="#3a1a28"/>
<rect x="327.8" y="714.8" width="1.2" height="0.9" fill="#3a1a28"/>
<rect x="329.8" y="714.8" width="3" height="0.9" fill="#3a1a28"/>
<rect x="333.6" y="714.8" width="2.4" height="0.9" fill="#3a1a28"/>
<rect x="327.8" y="716.5" width="2" height="0.9" fill="#3a1a28"/>
<rect x="330.6" y="716.5" width="1.2" height="0.9" fill="#3a1a28"/>
<rect x="332.6" y="716.5" width="3" height="0.9" fill="#3a1a28"/>
<rect x="325.8" y="718.2" width="3" height="0.9" fill="#3a1a28"/>
<rect x="333.4" y="718.2" width="1.2" height="0.9" fill="#3a1a28"/>
<rect x="335.4" y="718.2" width="0.6" height="0.9" fill="#3a1a28"/>
<rect x="325.8" y="719.9" width="1.2" height="0.9" fill="#3a1a28"/>
<rect x="327.8" y="719.9" width="1.2" height="0.9" fill="#3a1a28"/>
<rect x="329.8" y="719.9" width="3" height="0.9" fill="#3a1a28"/>
<text x="342" y="713.5" font-size="5.2" text-anchor="middle" font-weight="bold" fill="#1c2233" stroke="#1c2233" stroke-width="0.25">23</text>
<rect x="302.6" y="715.8" width="11.6" height="5.8" rx="0.6" fill="#f5a3c6" stroke="#000" stroke-width="0"/>
<rect x="303.4" y="716.6" width="1.2" height="0.9" fill="#3a1a28"/>
<rect x="305.4" y="716.6" width="3" height="0.9" fill="#3a1a28"/>
<rect x="309.2" y="716.6" width="1.2" height="0.9" fill="#3a1a28"/>
<rect x="311.2" y="716.6" width="1.2" height="0.9" fill="#3a1a28"/>
<rect x="306.2" y="718.3" width="1.2" height="0.9" fill="#3a1a28"/>
<rect x="308.2" y="718.3" width="3" height="0.9" fill="#3a1a28"/>
<rect x="303.4" y="720" width="2" height="0.9" fill="#3a1a28"/>
<rect x="311" y="720" width="1.2" height="0.9" fill="#3a1a28"/>
<rect x="313" y="720" width="0.6" height="0.9" fill="#3a1a28"/>
<rect x="302.6" y="726" width="11.6" height="5.8" rx="0.6" fill="#f5a3c6" stroke="#000" stroke-width="0"/>
<rect x="303.4" y="726.8" width="3" height="0.9" fill="#3a1a28"/>
<rect x="310" y="726.8" width="3" height="0.9" fill="#3a1a28"/>
<rect x="303.4" y="728.5" width="3" height="0.9" fill="#3a1a28"/>
<rect x="310" y="728.5" width="1.2" height="0.9" fill="#3a1a28"/>
<rect x="312" y="728.5" width="1.2" height="0.9" fill="#3a1a28"/>
<rect x="306.2" y="730.2" width="2" height="0.9" fill="#3a1a28"/>
<rect x="309" y="730.2" width="3" height="0.9" fill="#3a1a28"/>
<rect x="312.8" y="730.2" width="0.8" height="0.9" fill="#3a1a28"/>
<text x="308.2" y="740.5" font-size="5.2" text-anchor="middle" font-weight="bold" fill="#1c2233" stroke="#1c2233" stroke-width="0.25">24</text>
<rect x="319.2" y="727.6" width="6" height="3" rx="0.6" fill="#f5a3c6" stroke="#000" stroke-width="0"/>
<rect x="338.2" y="727.6" width="5.8" height="3" rx="0.6" fill="#f5a3c6" stroke="#000" stroke-width="0"/>
<rect x="341.8" y="728.4" width="1.6" height="0.9" fill="#3a1a28"/>
<text x="331.2" y="731.7" font-size="5.2" text-anchor="middle" font-weight="bold" fill="#1c2233" stroke="#1c2233" stroke-width="0.25">25</text>
<text x="331.2" y="742.1" font-size="5.2" text-anchor="middle" font-weight="bold" fill="#1c2233" stroke="#1c2233" stroke-width="0.25">26</text>
<text x="331.2" y="751.1" font-size="5.2" text-anchor="middle" font-weight="bold" fill="#1c2233" stroke="#1c2233" stroke-width="0.25">27</text>
<rect x="321.3" y="738.2" width="3" height="2.7" fill="#231f20"/>
<rect x="339.3" y="738.2" width="3" height="2.7" fill="#231f20"/>
<rect x="321.3" y="747.2" width="3" height="2.7" fill="#231f20"/>
<rect x="339" y="747.2" width="3" height="2.7" fill="#231f20"/>
<polygon points="301.5,743.6 304.7,749.2 298.3,749.2" fill="#f5a3c6" stroke="#000" stroke-width="0"/>
<rect x="300.9" y="745.8" width="1.2" height="1.4" fill="#3a1a28"/>
<rect x="299.7" y="747.7" width="3.6" height="0.8" fill="#3a1a28"/>
<polygon points="312.8,743.6 316,749.2 309.6,749.2" fill="#f5a3c6" stroke="#000" stroke-width="0"/>
<rect x="312.2" y="745.8" width="1.2" height="1.4" fill="#3a1a28"/>
<rect x="311" y="747.7" width="3.6" height="0.8" fill="#3a1a28"/>
<polygon points="313.8,757 317,762.6 310.6,762.6" fill="#f5a3c6" stroke="#000" stroke-width="0"/>
<rect x="313.2" y="759.2" width="1.2" height="1.4" fill="#3a1a28"/>
<rect x="312" y="761.1" width="3.6" height="0.8" fill="#3a1a28"/>
<polygon points="326.2,756.7 329.4,762.3 323,762.3" fill="#f5a3c6" stroke="#000" stroke-width="0"/>
<rect x="325.6" y="758.9" width="1.2" height="1.4" fill="#3a1a28"/>
<rect x="324.4" y="760.8" width="3.6" height="0.8" fill="#3a1a28"/>
<text x="306" y="755.9" font-size="5.2" text-anchor="middle" font-weight="bold" fill="#1c2233" stroke="#1c2233" stroke-width="0.25">19</text>
<text x="334.6" y="761.3" font-size="5.2" text-anchor="middle" font-weight="bold" fill="#1c2233" stroke="#1c2233" stroke-width="0.25">20</text>
<text x="306" y="778.4" font-size="14.6" text-anchor="middle" font-weight="bold" fill="#4a1428">6</text>
<text x="326.2" y="778.4" font-size="14.6" text-anchor="middle" font-weight="bold" fill="#4a1428">6</text>
<text x="348.4" y="771.4" font-size="16.4" text-anchor="middle" fill="#4a1428" stroke="#4a1428" stroke-width="0.4">7</text>
<text x="360.4" y="771.4" font-size="16.4" text-anchor="middle" fill="#4a1428" stroke="#4a1428" stroke-width="0.4">7</text>
<text x="316" y="775.5" font-size="4.6" text-anchor="middle" font-weight="bold" fill="#1c2233" stroke="#1c2233" stroke-width="0.25">28</text>
<text x="339.8" y="773.1" font-size="4.6" text-anchor="middle" font-weight="bold" fill="#1c2233" stroke="#1c2233" stroke-width="0.25">29</text>
<text x="285.8" y="789.6" font-size="7.6" font-weight="bold" fill="#4a1428" textLength="33.4" lengthAdjust="spacingAndGlyphs">CP72013</text>
<text x="285.8" y="797" font-size="6.2" font-weight="bold" fill="#4a1428" font-family="'Liberation Serif',serif" textLength="53.6" lengthAdjust="spacingAndGlyphs">KI-51 «SONIA»</text>
<g transform="rotate(-6 348 788)"><text x="334" y="786" font-size="6" font-style="italic" font-weight="bold" fill="#4a1428" font-family="'Liberation Serif',serif">Clear</text><text x="351.4" y="786" font-size="6" font-style="italic" font-weight="bold" fill="#4a1428" font-family="'Liberation Serif',serif">Prop!</text></g>
<g stroke="#4a1428" stroke-linecap="round" fill="none"><path d="M351.4 776.4 L348 787" stroke-width="1.1"/><path d="M348 787 L354 794.6" stroke-width="1.1"/><path d="M348 787 L337 789" stroke-width="1"/><path d="M338.6 791.4 Q343 789.6 347 791 M340 793 Q344 791.4 348.6 792.6 M342 794.6 Q345.6 793.4 350 794.2" stroke-width="0.6"/></g>
</g>
<g id="decal2">
<rect x="390.2" y="660.2" width="76.6" height="76.5" fill="#8ed2f4"/>
<rect x="396.5" y="673.4" width="4" height="33.1" rx="1.2" fill="#e8874a" stroke="#f3ab9c" stroke-width="0.7"/>
<circle cx="398.4" cy="694.5" r="1.3" fill="#e8874a" stroke="#7a5a50" stroke-width="0.6"/>
<circle cx="398.4" cy="675.6" r="0.9" fill="#f3ab9c" stroke="#000" stroke-width="0"/>
<rect x="404.9" y="683" width="4" height="22.8" rx="0.9" fill="#e8874a" stroke="#f3ab9c" stroke-width="0.7"/>
<circle cx="406.8" cy="694.5" r="1.3" fill="#e8874a" stroke="#7a5a50" stroke-width="0.6"/>
<rect x="405.6" y="682.2" width="2.5" height="1.6" fill="#6a4a40"/>
<circle cx="406.8" cy="704.8" r="1.2" fill="#f3ab9c" stroke="#7a5a50" stroke-width="0.5"/>
<rect x="414.9" y="679.3" width="5.2" height="26.5" rx="0.7" fill="#e8874a" stroke="#f3ab9c" stroke-width="0.7"/>
<rect x="415.2" y="680.3" width="4.6" height="1.2" fill="#f3ab9c"/>
<circle cx="417.4" cy="694.5" r="1.2" fill="#e8874a" stroke="#7a5a50" stroke-width="0.6"/>
<polyline points="417.4,682.2 417.4,704.3" fill="none" stroke="#000" stroke-width="0.5"/>
<rect x="416.2" y="704.5" width="2.4" height="2.4" fill="#f3ab9c"/>
<rect x="425.1" y="674.9" width="5.3" height="31.7" rx="2.1" fill="#e8874a" stroke="#f3ab9c" stroke-width="0.7"/>
<rect x="426.2" y="675.9" width="2.9" height="4.4" rx="1.3" fill="#8ed2f4" stroke="#f3ab9c" stroke-width="0.6"/>
<circle cx="427.7" cy="694.5" r="1.3" fill="#e8874a" stroke="#7a5a50" stroke-width="0.6"/>
<rect x="426.2" y="703.6" width="2.9" height="3.2" fill="#f3ab9c"/>
<polygon points="436.3,671.9 442.7,671.9 442.7,693.6 436.8,698 436.3,694.8" fill="#d8706a" stroke="#f3ab9c" stroke-width="0.5"/>
<polygon points="436.3,700.7 442.7,702.4 442.7,724.2 436.3,724.2" fill="#d8706a" stroke="#f3ab9c" stroke-width="0.5"/>
<polyline points="436.6,673 442.4,673" fill="none" stroke="#000" stroke-width="0.3"/>
<polyline points="436.6,674.3 442.4,674.3" fill="none" stroke="#000" stroke-width="0.3"/>
<polyline points="436.6,675.6 442.4,675.6" fill="none" stroke="#000" stroke-width="0.3"/>
<polyline points="436.6,676.9 442.4,676.9" fill="none" stroke="#000" stroke-width="0.3"/>
<polyline points="436.6,678.3 442.4,678.3" fill="none" stroke="#000" stroke-width="0.3"/>
<polyline points="436.6,679.6 442.4,679.6" fill="none" stroke="#000" stroke-width="0.3"/>
<polyline points="436.6,680.9 442.4,680.9" fill="none" stroke="#000" stroke-width="0.3"/>
<polyline points="436.6,682.2 442.4,682.2" fill="none" stroke="#000" stroke-width="0.3"/>
<polyline points="436.6,683.6 442.4,683.6" fill="none" stroke="#000" stroke-width="0.3"/>
<polyline points="436.6,684.9 442.4,684.9" fill="none" stroke="#000" stroke-width="0.3"/>
<polyline points="436.6,686.2 442.4,686.2" fill="none" stroke="#000" stroke-width="0.3"/>
<polyline points="436.6,687.6 442.4,687.6" fill="none" stroke="#000" stroke-width="0.3"/>
<polyline points="436.6,688.9 442.4,688.9" fill="none" stroke="#000" stroke-width="0.3"/>
<polyline points="436.6,690.2 442.4,690.2" fill="none" stroke="#000" stroke-width="0.3"/>
<polyline points="436.6,691.5 442.4,691.5" fill="none" stroke="#000" stroke-width="0.3"/>
<polyline points="436.6,692.9 442.4,692.9" fill="none" stroke="#000" stroke-width="0.3"/>
<polyline points="436.6,703.3 442.4,703.3" fill="none" stroke="#000" stroke-width="0.3"/>
<polyline points="436.6,704.6 442.4,704.6" fill="none" stroke="#000" stroke-width="0.3"/>
<polyline points="436.6,706 442.4,706" fill="none" stroke="#000" stroke-width="0.3"/>
<polyline points="436.6,707.3 442.4,707.3" fill="none" stroke="#000" stroke-width="0.3"/>
<polyline points="436.6,708.6 442.4,708.6" fill="none" stroke="#000" stroke-width="0.3"/>
<polyline points="436.6,709.9 442.4,709.9" fill="none" stroke="#000" stroke-width="0.3"/>
<polyline points="436.6,711.3 442.4,711.3" fill="none" stroke="#000" stroke-width="0.3"/>
<polyline points="436.6,712.6 442.4,712.6" fill="none" stroke="#000" stroke-width="0.3"/>
<polyline points="436.6,713.9 442.4,713.9" fill="none" stroke="#000" stroke-width="0.3"/>
<polyline points="436.6,715.2 442.4,715.2" fill="none" stroke="#000" stroke-width="0.3"/>
<polyline points="436.6,716.6 442.4,716.6" fill="none" stroke="#000" stroke-width="0.3"/>
<polyline points="436.6,717.9 442.4,717.9" fill="none" stroke="#000" stroke-width="0.3"/>
<polyline points="436.6,719.2 442.4,719.2" fill="none" stroke="#000" stroke-width="0.3"/>
<polyline points="436.6,720.5 442.4,720.5" fill="none" stroke="#000" stroke-width="0.3"/>
<polyline points="436.6,721.9 442.4,721.9" fill="none" stroke="#000" stroke-width="0.3"/>
<polyline points="436.6,723.2 442.4,723.2" fill="none" stroke="#000" stroke-width="0.3"/>
<polyline points="453.1,673 453.1,685.9" fill="none" stroke="#c0705a" stroke-width="1.3"/>
<polyline points="453.1,710.2 453.1,725" fill="none" stroke="#c0705a" stroke-width="1.3"/>
<polygon points="451,685.2 455.7,685.2 457.9,688.9 457.9,707.3 455.7,711 451,711 449.1,707.3 449.1,688.9" fill="#e8874a" stroke="#f3ab9c" stroke-width="0.7"/>
<polyline points="449.2,694.5 457.8,694.5" fill="none" stroke="#000" stroke-width="0.5"/>
<polyline points="449.2,702.9 457.8,702.9" fill="none" stroke="#000" stroke-width="0.5"/>
<text x="398.3" y="670" font-size="6.4" text-anchor="middle" font-weight="bold" fill="#1c2233" stroke="#1c2233" stroke-width="0.2">35</text>
<text x="407.1" y="677.9" font-size="6.4" text-anchor="middle" font-weight="bold" fill="#1c2233" stroke="#1c2233" stroke-width="0.2">36</text>
<text x="417.4" y="675.4" font-size="6.4" text-anchor="middle" font-weight="bold" fill="#1c2233" stroke="#1c2233" stroke-width="0.2">37</text>
<text x="428.9" y="670.6" font-size="6.4" text-anchor="middle" font-weight="bold" fill="#1c2233" stroke="#1c2233" stroke-width="0.2">38</text>
<text x="439.8" y="668.5" font-size="6.4" text-anchor="middle" font-weight="bold" fill="#1c2233" stroke="#1c2233" stroke-width="0.2">39</text>
<text x="460.4" y="680.9" font-size="6.4" text-anchor="middle" font-weight="bold" fill="#1c2233" stroke="#1c2233" stroke-width="0.2">41</text>
<text x="439.2" y="732.4" font-size="6.4" text-anchor="middle" font-weight="bold" fill="#1c2233" stroke="#1c2233" stroke-width="0.2">40</text>
<text x="413" y="713.6" font-size="4.4" font-weight="bold" text-anchor="middle" fill="#1c2233" font-family="'Liberation Serif',serif" textLength="32.4" lengthAdjust="spacingAndGlyphs">A5M &amp; KI-51</text>
<text x="413.4" y="719.8" font-size="4.4" font-weight="bold" text-anchor="middle" fill="#1c2233" font-family="'Liberation Serif',serif" textLength="28.6" lengthAdjust="spacingAndGlyphs">SEATBELTS</text>
<polyline points="415.2,723.1 413,728.6" fill="none" stroke="#1c2233" stroke-width="0.9"/>
<polyline points="413,728.6 416.2,731.6" fill="none" stroke="#1c2233" stroke-width="0.9"/>
<polyline points="413,728.6 406.4,725.4" fill="none" stroke="#1c2233" stroke-width="0.9"/>
<polyline points="416.7,725.7 421.1,724.2" fill="none" stroke="#1c2233" stroke-width="0.8"/>
<polyline points="409.7,728.9 411.8,730.4" fill="none" stroke="#1c2233" stroke-width="0.7"/>
<polyline points="410.3,730.1 413,731.6" fill="none" stroke="#1c2233" stroke-width="0.7"/>
</g>
<g id="sprueA">
<polygon points="196.8,124.2 364.9,124.2 364.9,176 342,176 324.6,158.2 196.8,158.2" fill="#f4831f" stroke="#000" stroke-width="0"/>
<polygon points="196.8,241.8 364.9,241.8 364.9,187 342,187 324.6,207.8 196.8,207.8" fill="#f4831f" stroke="#000" stroke-width="0"/>
<rect x="44.2" y="108.2" width="359.1" height="149.5" rx="8.5" fill="none" stroke="#000" stroke-width="1.1"/>
<rect x="48.8" y="113" width="349.7" height="140" rx="4.5" fill="none" stroke="#000" stroke-width="1.1"/>
<polyline points="73.2,113 73.2,253.1" fill="none" stroke="#000" stroke-width="1.1"/>
<polyline points="77.5,113 77.5,158.8" fill="none" stroke="#000" stroke-width="1.1"/>
<polyline points="77.5,163.1 77.5,206.3" fill="none" stroke="#000" stroke-width="1.1"/>
<polyline points="77.5,210.2 77.5,253.1" fill="none" stroke="#000" stroke-width="1.1"/>
<polyline points="119,113 119,158.8" fill="none" stroke="#000" stroke-width="1.1"/>
<polyline points="123.6,113 123.6,158.8" fill="none" stroke="#000" stroke-width="1.1"/>
<polyline points="153.7,113 153.7,158.8" fill="none" stroke="#000" stroke-width="1.1"/>
<polyline points="158.3,113 158.3,158.8" fill="none" stroke="#000" stroke-width="1.1"/>
<polyline points="171.4,113 171.4,158.8" fill="none" stroke="#000" stroke-width="1.1"/>
<polyline points="176,113 176,158.8" fill="none" stroke="#000" stroke-width="1.1"/>
<polyline points="153.7,210.2 153.7,253.1" fill="none" stroke="#000" stroke-width="1.1"/>
<polyline points="158.3,210.2 158.3,253.1" fill="none" stroke="#000" stroke-width="1.1"/>
<polyline points="171.4,210.2 171.4,253.1" fill="none" stroke="#000" stroke-width="1.1"/>
<polyline points="176,210.2 176,253.1" fill="none" stroke="#000" stroke-width="1.1"/>
<polyline points="77.5,158.8 176,158.8" fill="none" stroke="#000" stroke-width="1.1"/>
<polyline points="77.5,163.1 176,163.1" fill="none" stroke="#000" stroke-width="1.1"/>
<polyline points="77.5,206.3 176,206.3" fill="none" stroke="#000" stroke-width="1.1"/>
<polyline points="77.5,210.2 176,210.2" fill="none" stroke="#000" stroke-width="1.1"/>
<polyline points="177,158.4 194,161.8 321,161.8 339.6,179.8 369.3,179.8" fill="none" stroke="#000" stroke-width="1.1"/>
<polyline points="177,163 193.2,166.5 201,166.5 201,200.4 193.2,200.4 177,203.8" fill="none" stroke="#000" stroke-width="1.1"/>
<polyline points="177,208.4 194,205 321,205 339.6,185 369.3,185" fill="none" stroke="#000" stroke-width="1.1"/>
<polyline points="205.4,166.5 319,166.5 335.5,182.4 319,200.4 205.4,200.4 205.4,166.5" fill="none" stroke="#000" stroke-width="1.1"/>
<polyline points="244.7,166.5 244.7,200.4" fill="none" stroke="#000" stroke-width="1.1"/>
<polyline points="249.1,166.5 249.1,200.4" fill="none" stroke="#000" stroke-width="1.1"/>
<polyline points="287.4,166.5 287.4,200.4" fill="none" stroke="#000" stroke-width="1.1"/>
<polyline points="290.4,166.5 290.4,200.4" fill="none" stroke="#000" stroke-width="1.1"/>
<polyline points="368.9,113 368.9,253.1" fill="none" stroke="#000" stroke-width="1.1"/>
<polyline points="373.8,113 373.8,253.1" fill="none" stroke="#000" stroke-width="1.1"/>
<path d="M 234.2 111.5 Q 236.4 112.2 236.4 113.9 L 236.4 122.3 Q 236.4 124 234.2 124.7 Q 232 124 232 122.3 L 232 113.9 Q 232 112.2 234.2 111.5 Z" fill="#fff" stroke="#000" stroke-width="1.1"/>
<path d="M 234.2 239.6 Q 236.4 240.4 236.4 242.1 L 236.4 250.5 Q 236.4 252.2 234.2 252.9 Q 232 252.2 232 250.5 L 232 242.1 Q 232 240.4 234.2 239.6 Z" fill="#fff" stroke="#000" stroke-width="1.1"/>
<path d="M 340.3 111.5 Q 342.5 112.2 342.5 113.9 L 342.5 122.3 Q 342.5 124 340.3 124.7 Q 338.1 124 338.1 122.3 L 338.1 113.9 Q 338.1 112.2 340.3 111.5 Z" fill="#fff" stroke="#000" stroke-width="1.1"/>
<path d="M 340.3 239.6 Q 342.5 240.4 342.5 242.1 L 342.5 250.5 Q 342.5 252.2 340.3 252.9 Q 338.1 252.2 338.1 250.5 L 338.1 242.1 Q 338.1 240.4 340.3 239.6 Z" fill="#fff" stroke="#000" stroke-width="1.1"/>
<path d="M 208.3 151.2 Q 210.5 152 210.5 153.7 L 210.5 162.1 Q 210.5 163.8 208.3 164.5 Q 206.1 163.8 206.1 162.1 L 206.1 153.7 Q 206.1 152 208.3 151.2 Z" fill="#fff" stroke="#000" stroke-width="1.1"/>
<path d="M 208.3 201.3 Q 210.5 202.1 210.5 203.8 L 210.5 212.2 Q 210.5 213.9 208.3 214.6 Q 206.1 213.9 206.1 212.2 L 206.1 203.8 Q 206.1 202.1 208.3 201.3 Z" fill="#fff" stroke="#000" stroke-width="1.1"/>
<path d="M 275.4 151.2 Q 277.7 152 277.7 153.7 L 277.7 162.1 Q 277.7 163.8 275.4 164.5 Q 273.2 163.8 273.2 162.1 L 273.2 153.7 Q 273.2 152 275.4 151.2 Z" fill="#fff" stroke="#000" stroke-width="1.1"/>
<path d="M 275.4 201.3 Q 277.7 202.1 277.7 203.8 L 277.7 212.2 Q 277.7 213.9 275.4 214.6 Q 273.2 213.9 273.2 212.2 L 273.2 203.8 Q 273.2 202.1 275.4 201.3 Z" fill="#fff" stroke="#000" stroke-width="1.1"/>
<path d="M 309.3 151.2 Q 311.5 152 311.5 153.7 L 311.5 162.1 Q 311.5 163.8 309.3 164.5 Q 307.1 163.8 307.1 162.1 L 307.1 153.7 Q 307.1 152 309.3 151.2 Z" fill="#fff" stroke="#000" stroke-width="1.1"/>
<path d="M 309.3 201.3 Q 311.5 202.1 311.5 203.8 L 311.5 212.2 Q 311.5 213.9 309.3 214.6 Q 307.1 213.9 307.1 212.2 L 307.1 203.8 Q 307.1 202.1 309.3 201.3 Z" fill="#fff" stroke="#000" stroke-width="1.1"/>
<polygon points="200.2,132 259.1,126.3 283.9,131.5 287.3,126.6 338.8,129.9 360.1,134.1 363.7,135.6 361.4,143 346.2,141.3 348.6,172.4 340.5,173.4 325.7,147.4 324.9,145.1 288.9,150 286.5,145.1 275.5,145.1 201,149.2" fill="none" stroke="#000" stroke-width="1.1"/>
<path d="M 200.2 132 C 215 137 250 137.5 285.4 132" fill="none" stroke="#000" stroke-width="0.8"/>
<polyline points="259.1,126.3 283.9,131.5" fill="none" stroke="#000" stroke-width="0.8"/>
<polyline points="287.3,126.6 300,134 330,139 346.2,141.3" fill="none" stroke="#000" stroke-width="0.6"/>
<polyline points="325.7,147.4 327,143.6" fill="none" stroke="#000" stroke-width="0.6"/>
<ellipse cx="342" cy="136.2" rx="18" ry="2.9" fill="none" stroke="#000" stroke-width="0.7" transform="rotate(3 342 136.2)"/>
<ellipse cx="342" cy="136.2" rx="13" ry="1.4" fill="#333" stroke="#000" stroke-width="0.5" transform="rotate(3 342 136.2)"/>
<circle cx="228.3" cy="147" r="0.8" fill="#000"/>
<circle cx="314" cy="136" r="0.5" fill="#000"/>
<polygon points="200.2,234 259.1,239.7 283.9,234.5 287.3,239.4 338.8,236.1 360.1,231.9 363.7,230.4 361.4,223 346.2,224.7 348.6,193.6 340.5,192.6 325.7,218.6 324.9,220.9 288.9,216 286.5,220.9 275.5,220.9 201,216.8" fill="none" stroke="#000" stroke-width="1.1"/>
<path d="M 200.2 234 C 215 229 250 228.5 285.4 234" fill="none" stroke="#000" stroke-width="0.8"/>
<polyline points="259.1,239.7 283.9,234.5" fill="none" stroke="#000" stroke-width="0.8"/>
<polyline points="287.3,239.4 300,232 330,227 346.2,224.7" fill="none" stroke="#000" stroke-width="0.6"/>
<polyline points="325.7,218.6 327,222.4" fill="none" stroke="#000" stroke-width="0.6"/>
<ellipse cx="342" cy="229.8" rx="18" ry="2.9" fill="none" stroke="#000" stroke-width="0.7" transform="rotate(-3 342 229.8)"/>
<ellipse cx="342" cy="229.8" rx="13" ry="1.4" fill="#333" stroke="#000" stroke-width="0.5" transform="rotate(-3 342 229.8)"/>
<circle cx="228.3" cy="219" r="0.8" fill="#000"/>
<circle cx="314" cy="230" r="0.5" fill="#000"/>
<path d="M 205.4 183.2 Q 206.1 181.1 207.7 181.1 L 211.7 181.1 Q 213.3 181.1 214 183.2 Q 213.3 185.3 211.7 185.3 L 207.7 185.3 Q 206.1 185.3 205.4 183.2 Z" fill="#fff" stroke="#000" stroke-width="1.1"/>
<path d="M 233.4 183.2 Q 234.1 181.1 235.7 181.1 L 242.4 181.1 Q 244 181.1 244.7 183.2 Q 244 185.3 242.4 185.3 L 235.7 185.3 Q 234.1 185.3 233.4 183.2 Z" fill="#fff" stroke="#000" stroke-width="1.1"/>
<circle cx="223.6" cy="183.2" r="10.3" fill="#fff" stroke="#000" stroke-width="1.1"/>
<circle cx="223.6" cy="183.2" r="5.6" fill="#fff" stroke="#000" stroke-width="1.1"/>
<circle cx="223.6" cy="183.2" r="1.2" fill="#fff" stroke="#000" stroke-width="0.7"/>
<path d="M 257.5 164.6 A 21 21 0 0 1 280.9 164.6" fill="none" stroke="#000" stroke-width="0.6"/>
<path d="M 257.5 201.8 A 21 21 0 0 0 280.9 201.8" fill="none" stroke="#000" stroke-width="0.6"/>
<circle cx="269.2" cy="183.2" r="13.6" fill="#fff" stroke="#000" stroke-width="1"/>
<circle cx="269.2" cy="183.2" r="12.5" fill="none" stroke="#111" stroke-width="1.3"/>
<circle cx="269.2" cy="183.2" r="12.5" fill="none" stroke="#fff" stroke-width="1" stroke-dasharray="1.6 1.6"/>
<circle cx="269.2" cy="183.2" r="11.2" fill="#fff" stroke="#000" stroke-width="1"/>
<circle cx="269.2" cy="183.2" r="5.4" fill="#fff" stroke="#000" stroke-width="1.1"/>
<circle cx="269.2" cy="183.2" r="3.9" fill="#fff" stroke="#000" stroke-width="0.9"/>
<circle cx="269.2" cy="183.2" r="2.5" fill="#fff" stroke="#000" stroke-width="0.9"/>
<circle cx="269.2" cy="183.2" r="1" fill="#fff" stroke="#000" stroke-width="0.8"/>
<ellipse cx="256.4" cy="167.6" rx="4" ry="2.5" fill="#fff" stroke="#000" stroke-width="1.1" transform="rotate(45 256.4 167.6)"/>
<ellipse cx="282" cy="167.6" rx="4" ry="2.5" fill="#fff" stroke="#000" stroke-width="1.1" transform="rotate(-45 282 167.6)"/>
<ellipse cx="256.4" cy="198.8" rx="4" ry="2.5" fill="#fff" stroke="#000" stroke-width="1.1" transform="rotate(-45 256.4 198.8)"/>
<ellipse cx="282" cy="198.8" rx="4" ry="2.5" fill="#fff" stroke="#000" stroke-width="1.1" transform="rotate(45 282 198.8)"/>
<rect x="296.2" y="171.7" width="12.5" height="9.5" fill="#f4831f"/>
<circle cx="302.4" cy="175.1" r="3.6" fill="#f4831f" stroke="#000" stroke-width="1.9"/>
<circle cx="302.4" cy="175.1" r="1.3" fill="#000"/>
<circle cx="317.6" cy="182.7" r="5.2" fill="#fff" stroke="#000" stroke-width="1.1"/>
<circle cx="317.6" cy="182.7" r="1.2" fill="#000"/>
<circle cx="302.4" cy="190.8" r="4.9" fill="#fff" stroke="#000" stroke-width="1.1"/>
<circle cx="302.4" cy="190.8" r="1.2" fill="#000"/>
<ellipse cx="311.7" cy="167.3" rx="3.6" ry="2.2" fill="#fff" stroke="#000" stroke-width="1.1" transform="rotate(-40 311.7 167.3)"/>
<ellipse cx="322.7" cy="171.7" rx="3.6" ry="2.2" fill="#fff" stroke="#000" stroke-width="1.1" transform="rotate(50 322.7 171.7)"/>
<ellipse cx="322.7" cy="193.8" rx="3.6" ry="2.2" fill="#fff" stroke="#000" stroke-width="1.1" transform="rotate(-50 322.7 193.8)"/>
<ellipse cx="311.7" cy="198.6" rx="3.6" ry="2.2" fill="#fff" stroke="#000" stroke-width="1.1" transform="rotate(40 311.7 198.6)"/>
<polygon points="290.2,183 292.5,180.7 294.8,183 292.5,185.3" fill="#fff" stroke="#000" stroke-width="1.1"/>
<polygon points="300.4,199.6 302.4,197.7 304.3,199.6 302.4,201.5" fill="#fff" stroke="#000" stroke-width="1.1"/>
<polygon points="332.7,182.4 335.6,179.5 338.5,182.4 335.6,185.3" fill="#fff" stroke="#000" stroke-width="1.1"/>
<rect x="246.7" y="165.4" width="9.2" height="5.8" rx="1.7" fill="#fff" stroke="#111" stroke-width="0.9"/>
<text x="251.3" y="170.2" font-size="5.4" text-anchor="middle" fill="#444" font-weight="bold">12</text>
<rect x="291.3" y="165.3" width="9.2" height="5.8" rx="1.7" fill="#fff" stroke="#111" stroke-width="0.9"/>
<text x="295.9" y="170.1" font-size="5.4" text-anchor="middle" fill="#444" font-weight="bold">13</text>
<rect x="309.6" y="194.5" width="9.2" height="5.8" rx="1.7" fill="#fff" stroke="#111" stroke-width="0.9"/>
<text x="314.2" y="199.3" font-size="5.4" text-anchor="middle" fill="#444" font-weight="bold">14</text>
<rect x="327.2" y="180.1" width="9.2" height="5.8" rx="1.7" fill="#fff" stroke="#111" stroke-width="0.9"/>
<text x="331.8" y="184.9" font-size="5.4" text-anchor="middle" fill="#444" font-weight="bold">15</text>
<rect x="295.5" y="112.4" width="35.1" height="9.5" rx="1" fill="#fff" stroke="#000" stroke-width="1"/>
<text x="313" y="120" font-size="7.4" text-anchor="middle" fill="#000" font-weight="bold" font-style="italic" font-family="'Liberation Serif',serif" textLength="31" lengthAdjust="spacingAndGlyphs">Clear Prop</text>
<rect x="309" y="244.3" width="7.9" height="8.2" rx="1" fill="#111" stroke="#000" stroke-width="0.6"/>
<text x="313" y="250.8" font-size="5.4" text-anchor="middle" fill="#fff" font-weight="bold">M</text>
<rect x="65.6" y="112.7" width="8.6" height="5.8" rx="1.7" fill="#fff" stroke="#111" stroke-width="0.9"/>
<text x="69.9" y="117.6" font-size="5.4" text-anchor="middle" fill="#444" font-weight="bold">1</text>
<rect x="77.1" y="112.7" width="8.6" height="5.8" rx="1.7" fill="#fff" stroke="#111" stroke-width="0.9"/>
<text x="81.4" y="117.6" font-size="5.4" text-anchor="middle" fill="#444" font-weight="bold">3</text>
<rect x="110.8" y="112.7" width="8.6" height="5.8" rx="1.7" fill="#fff" stroke="#111" stroke-width="0.9"/>
<text x="115.1" y="117.6" font-size="5.4" text-anchor="middle" fill="#444" font-weight="bold">4</text>
<rect x="122.9" y="112.7" width="8.6" height="5.8" rx="1.7" fill="#fff" stroke="#111" stroke-width="0.9"/>
<text x="127.2" y="117.6" font-size="5.4" text-anchor="middle" fill="#444" font-weight="bold">8</text>
<rect x="159.3" y="112.7" width="8.6" height="5.8" rx="1.7" fill="#fff" stroke="#111" stroke-width="0.9"/>
<text x="163.6" y="117.6" font-size="5.4" text-anchor="middle" fill="#444" font-weight="bold">9</text>
<rect x="48.6" y="148.7" width="8.6" height="5.8" rx="1.7" fill="#fff" stroke="#111" stroke-width="0.9"/>
<text x="52.9" y="153.6" font-size="5.4" text-anchor="middle" fill="#444" font-weight="bold">5</text>
<rect x="77.1" y="162.5" width="8.6" height="5.8" rx="1.7" fill="#fff" stroke="#111" stroke-width="0.9"/>
<text x="81.4" y="167.3" font-size="5.4" text-anchor="middle" fill="#444" font-weight="bold">6</text>
<rect x="122.6" y="207.3" width="9.2" height="5.8" rx="1.7" fill="#fff" stroke="#111" stroke-width="0.9"/>
<text x="127.2" y="212.2" font-size="5.4" text-anchor="middle" fill="#444" font-weight="bold">10</text>
<rect x="65.6" y="248.2" width="8.6" height="5.8" rx="1.7" fill="#fff" stroke="#111" stroke-width="0.9"/>
<text x="69.9" y="253.1" font-size="5.4" text-anchor="middle" fill="#444" font-weight="bold">2</text>
<rect x="77.1" y="248.2" width="8.6" height="5.8" rx="1.7" fill="#fff" stroke="#111" stroke-width="0.9"/>
<text x="81.4" y="253.1" font-size="5.4" text-anchor="middle" fill="#444" font-weight="bold">7</text>
<rect x="159" y="247.3" width="9.2" height="5.8" rx="1.7" fill="#fff" stroke="#111" stroke-width="0.9"/>
<text x="163.6" y="252.1" font-size="5.4" text-anchor="middle" fill="#444" font-weight="bold">11</text>
<circle cx="61.1" cy="130" r="7.5" fill="#fff" stroke="#000" stroke-width="1.1"/>
<circle cx="61.1" cy="130" r="2.9" fill="#fff" stroke="#000" stroke-width="2"/>
<circle cx="61.1" cy="130" r="0.8" fill="#000"/>
<polygon points="46.7,130 49.6,127 52.6,130 49.6,133" fill="#fff" stroke="#000" stroke-width="1.1"/>
<polygon points="69.6,130 72.6,127 75.5,130 72.6,133" fill="#fff" stroke="#000" stroke-width="1.1"/>
<circle cx="61.1" cy="236.4" r="7.5" fill="#fff" stroke="#000" stroke-width="1.1"/>
<circle cx="61.1" cy="236.4" r="2.9" fill="#fff" stroke="#000" stroke-width="0.8"/>
<circle cx="61.1" cy="236.4" r="0.8" fill="#000"/>
<polygon points="46.7,236.4 49.6,233.4 52.6,236.4 49.6,239.4" fill="#fff" stroke="#000" stroke-width="1.1"/>
<polygon points="69.6,236.4 72.6,233.4 75.5,236.4 72.6,239.4" fill="#fff" stroke="#000" stroke-width="1.1"/>
<polygon points="63.7,147.4 68.3,147.4 69,214.8 60.4,216.4" fill="#fff" stroke="#000" stroke-width="1.1"/>
<polyline points="66,147.4 64.7,215.5" fill="none" stroke="#000" stroke-width="0.6"/>
<polyline points="65.4,153.9 68.6,153.9" fill="none" stroke="#000" stroke-width="1.3"/>
<polyline points="65,160.8 68.6,160.8" fill="none" stroke="#000" stroke-width="1.3"/>
<polyline points="64.6,167.7 68.6,167.7" fill="none" stroke="#000" stroke-width="1.3"/>
<polyline points="64.2,174.5 68.6,174.5" fill="none" stroke="#000" stroke-width="1.3"/>
<polyline points="63.8,181.4 68.6,181.4" fill="none" stroke="#000" stroke-width="1.3"/>
<polyline points="63.4,188.3 68.6,188.3" fill="none" stroke="#000" stroke-width="1.3"/>
<polyline points="63,195.2 68.6,195.2" fill="none" stroke="#000" stroke-width="1.3"/>
<polyline points="62.6,202 68.6,202" fill="none" stroke="#000" stroke-width="1.3"/>
<polyline points="62.2,208.9 68.6,208.9" fill="none" stroke="#000" stroke-width="1.3"/>
<polygon points="69.3,167 71.9,164.5 74.5,167 71.9,169.6" fill="#fff" stroke="#000" stroke-width="1.1"/>
<polygon points="69.3,199.1 71.9,196.5 74.5,199.1 71.9,201.6" fill="#fff" stroke="#000" stroke-width="1.1"/>
<rect x="82.9" y="125.4" width="10.3" height="19.6" rx="3.9" fill="#fff" stroke="#000" stroke-width="1.1"/>
<polyline points="84.7,126.2 84.7,144.2" fill="none" stroke="#000" stroke-width="0.8"/>
<rect x="79.3" y="128.2" width="3.6" height="14.1" rx="0" fill="#fff" stroke="#000" stroke-width="0.8"/>
<polyline points="82.9,130.4 93.2,130.4" fill="none" stroke="#000" stroke-width="1.5"/>
<polyline points="82.9,140.9 93.2,140.9" fill="none" stroke="#000" stroke-width="1.5"/>
<rect x="104.6" y="125.4" width="10" height="19.6" rx="3.9" fill="#fff" stroke="#000" stroke-width="1.1"/>
<polyline points="112.8,126.2 112.8,144.2" fill="none" stroke="#000" stroke-width="0.8"/>
<rect x="114.6" y="128.2" width="3.6" height="14.1" rx="0" fill="#fff" stroke="#000" stroke-width="0.8"/>
<polyline points="104.6,130.4 114.6,130.4" fill="none" stroke="#000" stroke-width="1.5"/>
<polyline points="104.6,140.9 114.6,140.9" fill="none" stroke="#000" stroke-width="1.5"/>
<polygon points="75.8,128.6 78,126.5 80.1,128.6 78,130.8" fill="#fff" stroke="#000" stroke-width="1.1"/>
<polygon points="75.8,142.9 78,140.8 80.1,142.9 78,145" fill="#fff" stroke="#000" stroke-width="1.1"/>
<polygon points="116.4,128.6 118.6,126.5 120.7,128.6 118.6,130.8" fill="#fff" stroke="#000" stroke-width="1.1"/>
<polygon points="116.4,142.9 118.6,140.8 120.7,142.9 118.6,145" fill="#fff" stroke="#000" stroke-width="1.1"/>
<polygon points="139.7,121.2 144.6,118.9 150.5,118.9 150.5,147.4 142.9,147.4 135.4,141.8 135.4,127.7" fill="#fff" stroke="#000" stroke-width="1.1"/>
<polyline points="142.9,144.1 150.5,144.1" fill="none" stroke="#000" stroke-width="1.4"/>
<polyline points="145.2,140.8 150.5,140.8" fill="none" stroke="#000" stroke-width="1.2"/>
<rect x="165.2" y="122.8" width="11.1" height="26.2" rx="0" fill="#fff" stroke="#000" stroke-width="1.1"/>
<path d="M 142.9 111.4 Q 145.2 112.1 145.2 113.8 L 145.2 118.1 Q 145.2 119.8 142.9 120.5 Q 140.7 119.8 140.7 118.1 L 140.7 113.8 Q 140.7 112.1 142.9 111.4 Z" fill="#fff" stroke="#000" stroke-width="1.1"/>
<path d="M 174 111.4 Q 176.3 112.1 176.3 113.8 L 176.3 120.3 Q 176.3 122.1 174 122.8 Q 171.8 122.1 171.8 120.3 L 171.8 113.8 Q 171.8 112.1 174 111.4 Z" fill="#fff" stroke="#000" stroke-width="1.1"/>
<path d="M 174 149 Q 176.3 149.8 176.3 151.5 L 176.3 158 Q 176.3 159.7 174 160.5 Q 171.8 159.7 171.8 158 L 171.8 151.5 Q 171.8 149.8 174 149 Z" fill="#fff" stroke="#000" stroke-width="1.1"/>
<path d="M 147.8 149 Q 150.1 149.8 150.1 151.5 L 150.1 158 Q 150.1 159.7 147.8 160.5 Q 145.6 159.7 145.6 158 L 145.6 151.5 Q 145.6 149.8 147.8 149 Z" fill="#fff" stroke="#000" stroke-width="1.1"/>
<path d="M 150.5 135.9 Q 151.1 133.9 152.7 133.9 L 156.1 133.9 Q 157.6 133.9 158.3 135.9 Q 157.6 138 156.1 138 L 152.7 138 Q 151.1 138 150.5 135.9 Z" fill="#fff" stroke="#000" stroke-width="1.1"/>
<path d="M 158.3 135.9 Q 159 133.9 160.6 133.9 L 164.6 133.9 Q 166.1 133.9 166.8 135.9 Q 166.1 138 164.6 138 L 160.6 138 Q 159 138 158.3 135.9 Z" fill="#fff" stroke="#000" stroke-width="1.1"/>
<polygon points="139.7,244.3 144.6,246.6 150.5,246.6 150.5,218.1 142.9,218.1 135.4,223.6 135.4,237.7" fill="#fff" stroke="#000" stroke-width="1.1"/>
<polyline points="142.9,221.4 150.5,221.4" fill="none" stroke="#000" stroke-width="1.4"/>
<polyline points="145.2,224.6 150.5,224.6" fill="none" stroke="#000" stroke-width="1.2"/>
<rect x="165.2" y="216.4" width="11.1" height="26.2" rx="0" fill="#fff" stroke="#000" stroke-width="1.1"/>
<path d="M 142.9 244.9 Q 145.2 245.7 145.2 247.4 L 145.2 251.6 Q 145.2 253.3 142.9 254.1 Q 140.7 253.3 140.7 251.6 L 140.7 247.4 Q 140.7 245.7 142.9 244.9 Z" fill="#fff" stroke="#000" stroke-width="1.1"/>
<path d="M 174 242.6 Q 176.3 243.4 176.3 245.1 L 176.3 251.6 Q 176.3 253.3 174 254.1 Q 171.8 253.3 171.8 251.6 L 171.8 245.1 Q 171.8 243.4 174 242.6 Z" fill="#fff" stroke="#000" stroke-width="1.1"/>
<path d="M 174 205 Q 176.3 205.7 176.3 207.5 L 176.3 214 Q 176.3 215.7 174 216.4 Q 171.8 215.7 171.8 214 L 171.8 207.5 Q 171.8 205.7 174 205 Z" fill="#fff" stroke="#000" stroke-width="1.1"/>
<path d="M 147.8 205 Q 150.1 205.7 150.1 207.5 L 150.1 214 Q 150.1 215.7 147.8 216.4 Q 145.6 215.7 145.6 214 L 145.6 207.5 Q 145.6 205.7 147.8 205 Z" fill="#fff" stroke="#000" stroke-width="1.1"/>
<path d="M 150.5 229.5 Q 151.1 227.5 152.7 227.5 L 156.1 227.5 Q 157.6 227.5 158.3 229.5 Q 157.6 231.6 156.1 231.6 L 152.7 231.6 Q 151.1 231.6 150.5 229.5 Z" fill="#fff" stroke="#000" stroke-width="1.1"/>
<path d="M 158.3 229.5 Q 159 227.5 160.6 227.5 L 164.6 227.5 Q 166.1 227.5 166.8 229.5 Q 166.1 231.6 164.6 231.6 L 160.6 231.6 Q 159 231.6 158.3 229.5 Z" fill="#fff" stroke="#000" stroke-width="1.1"/>
<path d="M 98.7 160.5 Q 101 161.2 101 162.9 L 101 169.4 Q 101 171.2 98.7 171.9 Q 96.5 171.2 96.5 169.4 L 96.5 162.9 Q 96.5 161.2 98.7 160.5 Z" fill="#fff" stroke="#000" stroke-width="1.1"/>
<path d="M 98.7 194.8 Q 101 195.6 101 197.3 L 101 205.5 Q 101 207.2 98.7 207.9 Q 96.5 207.2 96.5 205.5 L 96.5 197.3 Q 96.5 195.6 98.7 194.8 Z" fill="#fff" stroke="#000" stroke-width="1.1"/>
<path d="M 147.8 160.5 Q 150.1 161.2 150.1 162.9 L 150.1 169.4 Q 150.1 171.2 147.8 171.9 Q 145.6 171.2 145.6 169.4 L 145.6 162.9 Q 145.6 161.2 147.8 160.5 Z" fill="#fff" stroke="#000" stroke-width="1.1"/>
<path d="M 147.8 194.8 Q 150.1 195.6 150.1 197.3 L 150.1 205.5 Q 150.1 207.2 147.8 207.9 Q 145.6 207.2 145.6 205.5 L 145.6 197.3 Q 145.6 195.6 147.8 194.8 Z" fill="#fff" stroke="#000" stroke-width="1.1"/>
<path d="M 174 160.5 Q 176.3 161.2 176.3 162.9 L 176.3 169.4 Q 176.3 171.2 174 171.9 Q 171.8 171.2 171.8 169.4 L 171.8 162.9 Q 171.8 161.2 174 160.5 Z" fill="#fff" stroke="#000" stroke-width="1.1"/>
<path d="M 174 194.8 Q 176.3 195.6 176.3 197.3 L 176.3 205.5 Q 176.3 207.2 174 207.9 Q 171.8 207.2 171.8 205.5 L 171.8 197.3 Q 171.8 195.6 174 194.8 Z" fill="#fff" stroke="#000" stroke-width="1.1"/>
<path d="M 98.1 173.6 L 182.5 172.3 L 182.5 193.2 L 98.1 192.2 Q 91.5 182.7 98.1 173.6 Z" fill="#fff" stroke="#000" stroke-width="0.9"/>
<polyline points="122.3,173.2 172.1,173.2" fill="none" stroke="#000" stroke-width="1.5"/>
<polyline points="122.3,192.5 172.1,192.5" fill="none" stroke="#000" stroke-width="1.5"/>
<path d="M 128.2 173.9 L 143.9 173.9 Q 146.9 173.9 146.9 176.8 L 146.9 188.9 Q 146.9 191.9 143.9 191.9 L 128.2 191.9 C 115.8 191.9 115.8 173.9 128.2 173.9 Z" fill="#fff" stroke="#000" stroke-width="1.5"/>
<path d="M 128.9 175.5 L 143.3 175.5 Q 145.2 175.5 145.2 177.5 L 145.2 188.3 Q 145.2 190.3 143.3 190.3 L 128.9 190.3 C 118.4 190.3 118.4 175.5 128.9 175.5 Z" fill="none" stroke="#000" stroke-width="0.5"/>
<rect x="146.9" y="180.8" width="2.3" height="3.9" fill="#000"/>
<rect x="153.1" y="174.5" width="18.7" height="17.3" rx="2.9" fill="#fff" stroke="#000" stroke-width="1.5"/>
<polyline points="150.5,173.6 150.5,192.2" fill="none" stroke="#000" stroke-width="1"/>
<polyline points="151.8,173.6 151.8,192.2" fill="none" stroke="#000" stroke-width="1"/>
<polygon points="172.1,173.9 180.6,179.5 180.6,186.7 172.1,192.2" fill="#fff" stroke="#000" stroke-width="1.4"/>
<polygon points="174,178.8 178,180.8 178,185.3 174,187.3" fill="#fff" stroke="#000" stroke-width="0.9"/>
<polyline points="174.7,183.1 177.3,183.1" fill="none" stroke="#000" stroke-width="1"/>
<polyline points="176,181.7 176,185.3" fill="none" stroke="#000" stroke-width="1"/>
<circle cx="97.1" cy="230.8" r="11.8" fill="#fff" stroke="#000" stroke-width="1.1"/>
<circle cx="97.1" cy="230.8" r="7.2" fill="#fff" stroke="#000" stroke-width="1.1"/>
<ellipse cx="113.8" cy="216.8" rx="6.2" ry="2.6" fill="#fff" stroke="#000" stroke-width="1.1" transform="rotate(-18 113.8 216.8)"/>
<ellipse cx="113.8" cy="244.9" rx="6.2" ry="2.6" fill="#fff" stroke="#000" stroke-width="1.1" transform="rotate(18 113.8 244.9)"/>
<polygon points="76.5,230.8 79.1,228.3 81.7,230.8 79.1,233.4" fill="#fff" stroke="#000" stroke-width="1.1"/>
<rect x="361.7" y="112.7" width="9.2" height="5.8" rx="1.7" fill="#fff" stroke="#111" stroke-width="0.9"/>
<text x="366.3" y="117.6" font-size="5.4" text-anchor="middle" fill="#444" font-weight="bold">16</text>
<rect x="373.8" y="112.7" width="8.6" height="5.8" rx="1.7" fill="#fff" stroke="#111" stroke-width="0.9"/>
<text x="378.1" y="117.6" font-size="5.4" text-anchor="middle" fill="#444" font-weight="bold">1</text>
<rect x="391.2" y="148.4" width="9.2" height="5.8" rx="1.7" fill="#fff" stroke="#111" stroke-width="0.9"/>
<text x="395.8" y="153.2" font-size="5.4" text-anchor="middle" fill="#444" font-weight="bold">17</text>
<rect x="361.7" y="248.2" width="9.2" height="5.8" rx="1.7" fill="#fff" stroke="#111" stroke-width="0.9"/>
<text x="366.3" y="253.1" font-size="5.4" text-anchor="middle" fill="#444" font-weight="bold">18</text>
<rect x="373.8" y="248.2" width="8.6" height="5.8" rx="1.7" fill="#fff" stroke="#111" stroke-width="0.9"/>
<text x="378.1" y="253.1" font-size="5.4" text-anchor="middle" fill="#444" font-weight="bold">2</text>
<circle cx="386.3" cy="130" r="7.5" fill="#fff" stroke="#000" stroke-width="1.1"/>
<circle cx="386.3" cy="130" r="2.9" fill="#fff" stroke="#000" stroke-width="2"/>
<circle cx="386.3" cy="130" r="0.8" fill="#000"/>
<polygon points="372.8,130 375.8,127 378.8,130 375.8,133" fill="#fff" stroke="#000" stroke-width="1.1"/>
<polygon points="394.8,130 397.7,127 400.7,130 397.7,133" fill="#fff" stroke="#000" stroke-width="1.1"/>
<circle cx="386.3" cy="236.4" r="7.5" fill="#fff" stroke="#000" stroke-width="1.1"/>
<circle cx="386.3" cy="236.4" r="2.9" fill="#fff" stroke="#000" stroke-width="0.8"/>
<circle cx="386.3" cy="236.4" r="0.8" fill="#000"/>
<polygon points="372.8,236.4 375.8,233.4 378.8,236.4 375.8,239.4" fill="#fff" stroke="#000" stroke-width="1.1"/>
<polygon points="394.8,236.4 397.7,233.4 400.7,236.4 397.7,239.4" fill="#fff" stroke="#000" stroke-width="1.1"/>
<polygon points="381,147.4 385.6,147.4 388.9,216.4 380.4,214.8" fill="#fff" stroke="#000" stroke-width="1.1"/>
<polyline points="383.3,147.4 384.6,215.5" fill="none" stroke="#000" stroke-width="0.6"/>
<polyline points="380.7,153.9 384,153.9" fill="none" stroke="#000" stroke-width="1.3"/>
<polyline points="380.7,160.8 384.4,160.8" fill="none" stroke="#000" stroke-width="1.3"/>
<polyline points="380.7,167.7 384.8,167.7" fill="none" stroke="#000" stroke-width="1.3"/>
<polyline points="380.7,174.5 385.2,174.5" fill="none" stroke="#000" stroke-width="1.3"/>
<polyline points="380.7,181.4 385.6,181.4" fill="none" stroke="#000" stroke-width="1.3"/>
<polyline points="380.7,188.3 386,188.3" fill="none" stroke="#000" stroke-width="1.3"/>
<polyline points="380.7,195.2 386.4,195.2" fill="none" stroke="#000" stroke-width="1.3"/>
<polyline points="380.7,202 386.7,202" fill="none" stroke="#000" stroke-width="1.3"/>
<polyline points="380.7,208.9 387.1,208.9" fill="none" stroke="#000" stroke-width="1.3"/>
<polygon points="373.3,167 375.8,164.5 378.4,167 375.8,169.6" fill="#fff" stroke="#000" stroke-width="1.1"/>
<polygon points="373.3,199.1 375.8,196.5 378.4,199.1 375.8,201.6" fill="#fff" stroke="#000" stroke-width="1.1"/>
</g>
<g id="sprueB">
<rect x="294.9" y="351" width="18.2" height="14.4" fill="#f4831f"/>
<rect x="44.2" y="283.8" width="359.3" height="149.4" rx="8.5" fill="none" stroke="#000" stroke-width="1.1"/>
<rect x="49.2" y="288.6" width="349.4" height="140" rx="4.5" fill="none" stroke="#000" stroke-width="1.1"/>
<polyline points="73,288.6 73,358.5" fill="none" stroke="#000" stroke-width="1.1"/>
<polyline points="78.4,288.6 78.4,339.1" fill="none" stroke="#000" stroke-width="1.1"/>
<polyline points="78.4,343.3 78.4,358.5" fill="none" stroke="#000" stroke-width="1.1"/>
<polyline points="78.4,339.1 133.1,339.1" fill="none" stroke="#000" stroke-width="1.1"/>
<polyline points="78.4,343.3 133.1,343.3" fill="none" stroke="#000" stroke-width="1.1"/>
<polyline points="133.1,288.6 133.1,339.1" fill="none" stroke="#000" stroke-width="1.1"/>
<polyline points="138.3,288.6 138.3,339.1" fill="none" stroke="#000" stroke-width="1.1"/>
<polyline points="137.3,339.1 145.4,341.4 171.8,336" fill="none" stroke="#000" stroke-width="1.1"/>
<polyline points="137.3,343.3 145.4,343.7 177,338 202,338" fill="none" stroke="#000" stroke-width="1.1"/>
<polyline points="171.8,288.6 171.8,336" fill="none" stroke="#000" stroke-width="1.1"/>
<polyline points="177,288.6 177,337.6" fill="none" stroke="#000" stroke-width="1.1"/>
<polyline points="177,335.7 230,335.7" fill="none" stroke="#000" stroke-width="1.1"/>
<polyline points="202,338 202,358.5" fill="none" stroke="#000" stroke-width="1.1"/>
<polyline points="206.4,339.9 206.4,358.5" fill="none" stroke="#000" stroke-width="1.1"/>
<polyline points="206.4,339.9 230,339.9" fill="none" stroke="#000" stroke-width="1.1"/>
<polyline points="220,335.7 269.5,335.7" fill="none" stroke="#000" stroke-width="1.1"/>
<polyline points="220,339.9 243,339.9" fill="none" stroke="#000" stroke-width="1.1"/>
<polyline points="247.8,339.9 271.8,339.9" fill="none" stroke="#000" stroke-width="1.1"/>
<polyline points="243,339.9 243,358.5" fill="none" stroke="#000" stroke-width="1.1"/>
<polyline points="247.8,339.9 247.8,358.5" fill="none" stroke="#000" stroke-width="1.1"/>
<polyline points="269.5,288.6 269.5,335.7" fill="none" stroke="#000" stroke-width="1.1"/>
<polyline points="274.3,288.6 274.3,337.6" fill="none" stroke="#000" stroke-width="1.1"/>
<polyline points="274.3,337.6 300.6,343.3 320,343.3" fill="none" stroke="#000" stroke-width="1.1"/>
<polyline points="271.8,339.9 298.7,346.2" fill="none" stroke="#000" stroke-width="1.1"/>
<path d="M 335.9 288.6 L 335.9 303 C 335.9 312.6 343 316.5 343 326.1 L 343 358.5" fill="none" stroke="#000" stroke-width="1.1"/>
<path d="M 340.7 288.6 L 340.7 301.5 C 340.7 310.7 348 314.5 348 324.1 L 348 336 L 398.7 336" fill="none" stroke="#000" stroke-width="1.1"/>
<polyline points="348,339.9 398.7,339.9" fill="none" stroke="#000" stroke-width="1.1"/>
<polyline points="348,339.9 348,358.5" fill="none" stroke="#000" stroke-width="1.1"/>
<polyline points="310,343.3 321.5,343.3 343,337.6" fill="none" stroke="#000" stroke-width="1.1"/>
<polyline points="329.2,344.3 343,341" fill="none" stroke="#000" stroke-width="1.1"/>
<path d="M 124.5 286.7 Q 127.1 287.6 127.1 289.6 L 127.1 294.4 Q 127.1 296.4 124.5 297.3 Q 121.8 296.4 121.8 294.4 L 121.8 289.6 Q 121.8 287.6 124.5 286.7 Z" fill="#fff" stroke="#000" stroke-width="1.1"/>
<path d="M 153 286.7 Q 155.7 287.6 155.7 289.6 L 155.7 294.4 Q 155.7 296.4 153 297.3 Q 150.4 296.4 150.4 294.4 L 150.4 289.6 Q 150.4 287.6 153 286.7 Z" fill="#fff" stroke="#000" stroke-width="1.1"/>
<path d="M 199.1 286.7 Q 201.7 287.6 201.7 289.6 L 201.7 294.4 Q 201.7 296.4 199.1 297.3 Q 196.5 296.4 196.5 294.4 L 196.5 289.6 Q 196.5 287.6 199.1 286.7 Z" fill="#fff" stroke="#000" stroke-width="1.1"/>
<path d="M 253.6 286.7 Q 256.2 287.6 256.2 289.6 L 256.2 300.1 Q 256.2 302.2 253.6 303 Q 251 302.2 251 300.1 L 251 289.6 Q 251 287.6 253.6 286.7 Z" fill="#fff" stroke="#000" stroke-width="1.1"/>
<path d="M 323.4 286.7 Q 326.1 287.6 326.1 289.6 L 326.1 294.4 Q 326.1 296.4 323.4 297.3 Q 320.8 296.4 320.8 294.4 L 320.8 289.6 Q 320.8 287.6 323.4 286.7 Z" fill="#fff" stroke="#000" stroke-width="1.1"/>
<path d="M 199.1 321.3 Q 201.7 322.1 201.7 324.2 L 201.7 333.7 Q 201.7 335.8 199.1 336.6 Q 196.5 335.8 196.5 333.7 L 196.5 324.2 Q 196.5 322.1 199.1 321.3 Z" fill="#fff" stroke="#000" stroke-width="1.1"/>
<path d="M 253.6 321.3 Q 256.2 322.1 256.2 324.2 L 256.2 332.8 Q 256.2 334.8 253.6 335.7 Q 251 334.8 251 332.8 L 251 324.2 Q 251 322.1 253.6 321.3 Z" fill="#fff" stroke="#000" stroke-width="1.1"/>
<path d="M 289.1 321.3 Q 291.5 322.1 291.5 323.9 L 291.5 334.9 Q 291.5 336.8 289.1 337.6 Q 286.7 336.8 286.7 334.9 L 286.7 323.9 Q 286.7 322.1 289.1 321.3 Z" fill="#fff" stroke="#000" stroke-width="1.1"/>
<path d="M 174.1 283.8 Q 176.3 284.6 176.3 286.2 L 176.3 291.1 Q 176.3 292.7 174.1 293.4 Q 172 292.7 172 291.1 L 172 286.2 Q 172 284.6 174.1 283.8 Z" fill="#fff" stroke="#000" stroke-width="1.1"/>
<path d="M 75.5 284.8 Q 77.4 285.4 77.4 286.9 L 77.4 289.4 Q 77.4 290.9 75.5 291.5 Q 73.6 290.9 73.6 289.4 L 73.6 286.9 Q 73.6 285.4 75.5 284.8 Z" fill="#fff" stroke="#000" stroke-width="1.1"/>
<polygon points="54.4,294.4 58.8,295.4 63.4,310.7 66.9,335.7 59.2,336 56.3,318.4" fill="#fff" stroke="#000" stroke-width="1.1"/>
<polyline points="57.3,299.2 62.6,335.7" fill="none" stroke="#000" stroke-width="0.6"/>
<polyline points="57.1,303 61.5,303" fill="none" stroke="#000" stroke-width="0.9"/>
<polyline points="57.5,308.8 62.4,308.8" fill="none" stroke="#000" stroke-width="0.9"/>
<polyline points="57.9,314.5 63.3,314.5" fill="none" stroke="#000" stroke-width="0.9"/>
<polyline points="58.3,320.3 64.3,320.3" fill="none" stroke="#000" stroke-width="0.9"/>
<polyline points="58.7,326.1 65.2,326.1" fill="none" stroke="#000" stroke-width="0.9"/>
<polyline points="59.1,330.9 66,330.9" fill="none" stroke="#000" stroke-width="0.9"/>
<circle cx="55" cy="308.8" r="0.6" fill="#000"/>
<circle cx="55" cy="327" r="0.6" fill="#000"/>
<polygon points="47.3,314.5 50.6,311.3 53.8,314.5 50.6,317.8" fill="#fff" stroke="#000" stroke-width="1.1"/>
<path d="M 46.9 343.3 L 48.8 341 L 56.1 341 C 58.4 340.7 58.4 337.6 58.8 336.2 L 61.5 336.8 C 61.5 341.4 60 345.3 56.9 345.6 L 48.8 345.6 Z" fill="#fff" stroke="#000" stroke-width="0.9"/>
<polygon points="87,297.3 125.4,297.3 127.9,301.1 124.5,308.4 90.3,317.4 85.1,305.9" fill="#fff" stroke="#000" stroke-width="1.1"/>
<polyline points="122.9,297.7 125.4,299.8 127.9,299.8" fill="none" stroke="#000" stroke-width="0.8"/>
<polygon points="76.7,307.3 79.9,304 83.2,307.3 79.9,310.5" fill="#fff" stroke="#000" stroke-width="1.1"/>
<polyline points="85.3,303 85.3,311.7" fill="none" stroke="#000" stroke-width="1.1"/>
<polygon points="83.2,328 88,325.7 112,326.1 112,327.6 128.7,328 128.7,330.7 112,330.9 112,332.4 88,333 83.2,333" fill="#fff" stroke="#000" stroke-width="1.1"/>
<polyline points="84.5,326.8 84.5,332.6" fill="none" stroke="#000" stroke-width="1.6"/>
<polyline points="87.2,326.8 87.2,332.6" fill="none" stroke="#000" stroke-width="1.6"/>
<polyline points="90.3,326.8 90.3,332.6" fill="none" stroke="#000" stroke-width="1.6"/>
<rect x="113.9" y="328.4" width="1.9" height="1.9" fill="#111"/>
<rect x="117.4" y="328.4" width="1.9" height="1.9" fill="#111"/>
<rect x="120.8" y="328.4" width="1.9" height="1.9" fill="#111"/>
<rect x="124.3" y="328.4" width="1.9" height="1.9" fill="#111"/>
<polygon points="129.1,327.6 132.1,324.6 135.1,327.6 132.1,330.6" fill="#fff" stroke="#000" stroke-width="1.1"/>
<path d="M 88 333.4 Q 90.1 334 90.1 335.5 L 90.1 337.7 Q 90.1 339.2 88 339.9 Q 85.8 339.2 85.8 337.7 L 85.8 335.5 Q 85.8 334 88 333.4 Z" fill="#fff" stroke="#000" stroke-width="1.1"/>
<rect x="184.7" y="304.6" width="52.8" height="15.7" rx="0" fill="#111" stroke="#000" stroke-width="0.4"/>
<rect x="185.9" y="305.4" width="3.1" height="2" fill="#fff"/>
<rect x="196" y="305.4" width="1.9" height="2" fill="#fff"/>
<rect x="199.5" y="305.4" width="4.6" height="2" fill="#fff"/>
<rect x="205" y="305.4" width="6.5" height="2" fill="#fff"/>
<rect x="214.3" y="305.4" width="6.5" height="2" fill="#fff"/>
<rect x="221.7" y="305.4" width="3.1" height="2" fill="#fff"/>
<rect x="227.5" y="305.4" width="6.5" height="2" fill="#fff"/>
<rect x="185.9" y="309.4" width="1.9" height="2" fill="#fff"/>
<rect x="190.5" y="309.4" width="1.9" height="2" fill="#fff"/>
<rect x="193.3" y="309.4" width="4.6" height="2" fill="#fff"/>
<rect x="200.6" y="309.4" width="6.5" height="2" fill="#fff"/>
<rect x="208.7" y="309.4" width="6.5" height="2" fill="#fff"/>
<rect x="225.4" y="309.4" width="4.6" height="2" fill="#fff"/>
<rect x="231" y="309.4" width="5.8" height="2" fill="#fff"/>
<rect x="185.9" y="313.3" width="6.5" height="2" fill="#fff"/>
<rect x="193.9" y="313.3" width="6.5" height="2" fill="#fff"/>
<rect x="202" y="313.3" width="4.6" height="2" fill="#fff"/>
<rect x="218.5" y="313.3" width="3.1" height="2" fill="#fff"/>
<rect x="223.1" y="313.3" width="1.9" height="2" fill="#fff"/>
<rect x="226" y="313.3" width="4.6" height="2" fill="#fff"/>
<rect x="185.9" y="317.2" width="1.9" height="2" fill="#fff"/>
<rect x="196.2" y="317.2" width="4.6" height="2" fill="#fff"/>
<rect x="202.4" y="317.2" width="1.9" height="2" fill="#fff"/>
<rect x="207" y="317.2" width="1.9" height="2" fill="#fff"/>
<rect x="211.6" y="317.2" width="4.6" height="2" fill="#fff"/>
<rect x="222.3" y="317.2" width="1.9" height="2" fill="#fff"/>
<rect x="230.4" y="317.2" width="4.6" height="2" fill="#fff"/>
<rect x="220" y="304" width="30.7" height="16.3" rx="0" fill="#111" stroke="#000" stroke-width="0.4"/>
<rect x="221.2" y="304.9" width="4.6" height="2" fill="#fff"/>
<rect x="234.2" y="304.9" width="4.6" height="2" fill="#fff"/>
<rect x="239.8" y="304.9" width="6.5" height="2" fill="#fff"/>
<rect x="221.2" y="309" width="3.1" height="2" fill="#fff"/>
<rect x="225.2" y="309" width="6.5" height="2" fill="#fff"/>
<rect x="233.2" y="309" width="3.1" height="2" fill="#fff"/>
<rect x="237.3" y="309" width="3.1" height="2" fill="#fff"/>
<rect x="241.9" y="309" width="3.1" height="2" fill="#fff"/>
<rect x="245.9" y="309" width="3.1" height="2" fill="#fff"/>
<rect x="221.2" y="313" width="3.1" height="2" fill="#fff"/>
<rect x="225.2" y="313" width="3.1" height="2" fill="#fff"/>
<rect x="235.5" y="313" width="4.6" height="2" fill="#fff"/>
<rect x="246.3" y="313" width="1.9" height="2" fill="#fff"/>
<rect x="221.2" y="317.1" width="1.9" height="2" fill="#fff"/>
<rect x="225.8" y="317.1" width="4.6" height="2" fill="#fff"/>
<rect x="231.9" y="317.1" width="4.6" height="2" fill="#fff"/>
<rect x="238" y="317.1" width="3.1" height="2" fill="#fff"/>
<rect x="243.8" y="317.1" width="3.1" height="2" fill="#fff"/>
<rect x="250.7" y="304.6" width="10.6" height="15.4" rx="0" fill="#fff" stroke="#000" stroke-width="0.9"/>
<rect x="252.6" y="308.8" width="8.6" height="6.9" rx="0" fill="#fff" stroke="#000" stroke-width="0.9"/>
<polyline points="250.7,306.9 261.3,306.9" fill="none" stroke="#000" stroke-width="1.1"/>
<polyline points="250.7,317.6 261.3,317.6" fill="none" stroke="#000" stroke-width="1.1"/>
<path d="M 281 293.8 C 276.6 301.1 283.3 308.8 287.6 308.8 L 285.3 314.5 L 283.3 314.9 L 283 318.4 L 295.8 320.3 L 296.4 316.5 L 294.5 316.1 L 296.8 310.3 C 302.5 310.7 308.3 305 307.9 299.2 L 299.7 296.9 C 298.7 303 291 305 287.2 299.2 C 285.6 296.9 285.3 295 285.3 293.4 Z" fill="#fff" stroke="#000" stroke-width="1.1"/>
<polyline points="285.3,314.5 294.5,316.1" fill="none" stroke="#000" stroke-width="0.8"/>
<polygon points="272.7,299.2 274.7,297.2 276.7,299.2 274.7,301.2" fill="#fff" stroke="#000" stroke-width="1.1"/>
<path d="M 317.7 301.5 L 329.2 303.4 L 327.7 308.8 C 332.6 313.6 335.9 318.4 333.4 323.2 C 330.2 327 313.8 327 309 325.7 C 304.2 323.2 304.6 317.4 310 314.5 C 314.8 312.2 317.3 308.8 317.7 301.5 Z" fill="#fff" stroke="#000" stroke-width="1.1"/>
<polyline points="316.9,304.6 328.8,306.5" fill="none" stroke="#000" stroke-width="1.3"/>
<polyline points="316.1,300 330,302.3" fill="none" stroke="#000" stroke-width="1.4"/>
<circle cx="317.3" cy="323.8" r="0.6" fill="#000"/>
<path d="M 304.5 326.1 C 301.6 328 300.6 331.8 301.6 343.3" fill="none" stroke="#000" stroke-width="1.1"/>
<path d="M 304.5 330.3 C 304.5 333.7 304.5 337.6 304.5 343.3" fill="none" stroke="#000" stroke-width="1.1"/>
<polygon points="349.3,306.9 389.7,300.2 389.7,320.7 356.1,314.5 349.3,310.7" fill="#fff" stroke="#000" stroke-width="1.1"/>
<ellipse cx="344.5" cy="304.6" rx="6.1" ry="2.5" fill="#fff" stroke="#000" stroke-width="1.1"/>
<polyline points="349.3,306.9 353.2,308.4 352.6,310.7" fill="none" stroke="#000" stroke-width="0.8"/>
<path d="M 390.2 310.7 Q 391.1 308.1 393.1 308.1 L 397.7 308.1 Q 399.7 308.1 400.6 310.7 Q 399.7 313.3 397.7 313.3 L 393.1 313.3 Q 391.1 313.3 390.2 310.7 Z" fill="#fff" stroke="#000" stroke-width="1.1"/>
<polyline points="73,428.4 73,358.5" fill="none" stroke="#000" stroke-width="1.1"/>
<polyline points="78.4,428.4 78.4,377.9" fill="none" stroke="#000" stroke-width="1.1"/>
<polyline points="78.4,373.7 78.4,358.5" fill="none" stroke="#000" stroke-width="1.1"/>
<polyline points="78.4,377.9 133.1,377.9" fill="none" stroke="#000" stroke-width="1.1"/>
<polyline points="78.4,373.7 133.1,373.7" fill="none" stroke="#000" stroke-width="1.1"/>
<polyline points="133.1,428.4 133.1,377.9" fill="none" stroke="#000" stroke-width="1.1"/>
<polyline points="138.3,428.4 138.3,377.9" fill="none" stroke="#000" stroke-width="1.1"/>
<polyline points="137.3,377.9 145.4,375.6 171.8,381" fill="none" stroke="#000" stroke-width="1.1"/>
<polyline points="137.3,373.7 145.4,373.3 177,379 202,379" fill="none" stroke="#000" stroke-width="1.1"/>
<polyline points="171.8,428.4 171.8,381" fill="none" stroke="#000" stroke-width="1.1"/>
<polyline points="177,428.4 177,379.4" fill="none" stroke="#000" stroke-width="1.1"/>
<polyline points="177,381.3 230,381.3" fill="none" stroke="#000" stroke-width="1.1"/>
<polyline points="202,379 202,358.5" fill="none" stroke="#000" stroke-width="1.1"/>
<polyline points="206.4,377.1 206.4,358.5" fill="none" stroke="#000" stroke-width="1.1"/>
<polyline points="206.4,377.1 230,377.1" fill="none" stroke="#000" stroke-width="1.1"/>
<polyline points="220,381.3 269.5,381.3" fill="none" stroke="#000" stroke-width="1.1"/>
<polyline points="220,377.1 243,377.1" fill="none" stroke="#000" stroke-width="1.1"/>
<polyline points="247.8,377.1 271.8,377.1" fill="none" stroke="#000" stroke-width="1.1"/>
<polyline points="243,377.1 243,358.5" fill="none" stroke="#000" stroke-width="1.1"/>
<polyline points="247.8,377.1 247.8,358.5" fill="none" stroke="#000" stroke-width="1.1"/>
<polyline points="269.5,428.4 269.5,381.3" fill="none" stroke="#000" stroke-width="1.1"/>
<polyline points="274.3,428.4 274.3,379.4" fill="none" stroke="#000" stroke-width="1.1"/>
<polyline points="274.3,379.4 300.6,373.7 320,373.7" fill="none" stroke="#000" stroke-width="1.1"/>
<polyline points="271.8,377.1 298.7,370.8" fill="none" stroke="#000" stroke-width="1.1"/>
<path d="M 335.9 428.4 L 335.9 414 C 335.9 404.4 343 400.5 343 390.9 L 343 358.5" fill="none" stroke="#000" stroke-width="1.1"/>
<path d="M 340.7 428.4 L 340.7 415.5 C 340.7 406.3 348 402.5 348 392.9 L 348 381 L 398.7 381" fill="none" stroke="#000" stroke-width="1.1"/>
<polyline points="348,377.1 398.7,377.1" fill="none" stroke="#000" stroke-width="1.1"/>
<polyline points="348,377.1 348,358.5" fill="none" stroke="#000" stroke-width="1.1"/>
<polyline points="310,373.7 321.5,373.7 343,379.4" fill="none" stroke="#000" stroke-width="1.1"/>
<polyline points="329.2,372.7 343,376" fill="none" stroke="#000" stroke-width="1.1"/>
<path d="M 124.5 430.3 Q 127.1 429.4 127.1 427.4 L 127.1 422.6 Q 127.1 420.6 124.5 419.7 Q 121.8 420.6 121.8 422.6 L 121.8 427.4 Q 121.8 429.4 124.5 430.3 Z" fill="#fff" stroke="#000" stroke-width="1.1"/>
<path d="M 153 430.3 Q 155.7 429.4 155.7 427.4 L 155.7 422.6 Q 155.7 420.6 153 419.7 Q 150.4 420.6 150.4 422.6 L 150.4 427.4 Q 150.4 429.4 153 430.3 Z" fill="#fff" stroke="#000" stroke-width="1.1"/>
<path d="M 199.1 430.3 Q 201.7 429.4 201.7 427.4 L 201.7 422.6 Q 201.7 420.6 199.1 419.7 Q 196.5 420.6 196.5 422.6 L 196.5 427.4 Q 196.5 429.4 199.1 430.3 Z" fill="#fff" stroke="#000" stroke-width="1.1"/>
<path d="M 253.6 430.3 Q 256.2 429.4 256.2 427.4 L 256.2 416.9 Q 256.2 414.8 253.6 414 Q 251 414.8 251 416.9 L 251 427.4 Q 251 429.4 253.6 430.3 Z" fill="#fff" stroke="#000" stroke-width="1.1"/>
<path d="M 323.4 430.3 Q 326.1 429.4 326.1 427.4 L 326.1 422.6 Q 326.1 420.6 323.4 419.7 Q 320.8 420.6 320.8 422.6 L 320.8 427.4 Q 320.8 429.4 323.4 430.3 Z" fill="#fff" stroke="#000" stroke-width="1.1"/>
<path d="M 199.1 395.7 Q 201.7 394.9 201.7 392.8 L 201.7 383.3 Q 201.7 381.2 199.1 380.4 Q 196.5 381.2 196.5 383.3 L 196.5 392.8 Q 196.5 394.9 199.1 395.7 Z" fill="#fff" stroke="#000" stroke-width="1.1"/>
<path d="M 253.6 395.7 Q 256.2 394.9 256.2 392.8 L 256.2 384.2 Q 256.2 382.2 253.6 381.3 Q 251 382.2 251 384.2 L 251 392.8 Q 251 394.9 253.6 395.7 Z" fill="#fff" stroke="#000" stroke-width="1.1"/>
<path d="M 289.1 395.7 Q 291.5 394.9 291.5 393.1 L 291.5 382.1 Q 291.5 380.2 289.1 379.4 Q 286.7 380.2 286.7 382.1 L 286.7 393.1 Q 286.7 394.9 289.1 395.7 Z" fill="#fff" stroke="#000" stroke-width="1.1"/>
<path d="M 174.1 433.2 Q 176.3 432.4 176.3 430.8 L 176.3 425.9 Q 176.3 424.3 174.1 423.6 Q 172 424.3 172 425.9 L 172 430.8 Q 172 432.4 174.1 433.2 Z" fill="#fff" stroke="#000" stroke-width="1.1"/>
<path d="M 75.5 432.2 Q 77.4 431.6 77.4 430.1 L 77.4 427.6 Q 77.4 426.1 75.5 425.5 Q 73.6 426.1 73.6 427.6 L 73.6 430.1 Q 73.6 431.6 75.5 432.2 Z" fill="#fff" stroke="#000" stroke-width="1.1"/>
<polygon points="54.4,422.6 58.8,421.6 63.4,406.3 66.9,381.3 59.2,381 56.3,398.6" fill="#fff" stroke="#000" stroke-width="1.1"/>
<polyline points="57.3,417.8 62.6,381.3" fill="none" stroke="#000" stroke-width="0.6"/>
<polyline points="57.1,414 61.5,414" fill="none" stroke="#000" stroke-width="0.9"/>
<polyline points="57.5,408.2 62.4,408.2" fill="none" stroke="#000" stroke-width="0.9"/>
<polyline points="57.9,402.5 63.3,402.5" fill="none" stroke="#000" stroke-width="0.9"/>
<polyline points="58.3,396.7 64.3,396.7" fill="none" stroke="#000" stroke-width="0.9"/>
<polyline points="58.7,390.9 65.2,390.9" fill="none" stroke="#000" stroke-width="0.9"/>
<polyline points="59.1,386.1 66,386.1" fill="none" stroke="#000" stroke-width="0.9"/>
<circle cx="55" cy="408.2" r="0.6" fill="#000"/>
<circle cx="55" cy="390" r="0.6" fill="#000"/>
<polygon points="47.3,402.5 50.6,405.7 53.8,402.5 50.6,399.2" fill="#fff" stroke="#000" stroke-width="1.1"/>
<path d="M 46.9 373.7 L 48.8 376 L 56.1 376 C 58.4 376.3 58.4 379.4 58.8 380.8 L 61.5 380.2 C 61.5 375.6 60 371.7 56.9 371.4 L 48.8 371.4 Z" fill="#fff" stroke="#000" stroke-width="0.9"/>
<polygon points="87,419.7 125.4,419.7 127.9,415.9 124.5,408.6 90.3,399.6 85.1,411.1" fill="#fff" stroke="#000" stroke-width="1.1"/>
<polyline points="122.9,419.3 125.4,417.2 127.9,417.2" fill="none" stroke="#000" stroke-width="0.8"/>
<polygon points="76.7,409.7 79.9,413 83.2,409.7 79.9,406.5" fill="#fff" stroke="#000" stroke-width="1.1"/>
<polyline points="85.3,414 85.3,405.3" fill="none" stroke="#000" stroke-width="1.1"/>
<polygon points="83.2,389 88,391.3 112,390.9 112,389.4 128.7,389 128.7,386.3 112,386.1 112,384.6 88,384 83.2,384" fill="#fff" stroke="#000" stroke-width="1.1"/>
<polyline points="84.5,390.2 84.5,384.4" fill="none" stroke="#000" stroke-width="1.6"/>
<polyline points="87.2,390.2 87.2,384.4" fill="none" stroke="#000" stroke-width="1.6"/>
<polyline points="90.3,390.2 90.3,384.4" fill="none" stroke="#000" stroke-width="1.6"/>
<rect x="113.9" y="386.7" width="1.9" height="1.9" fill="#111"/>
<rect x="117.4" y="386.7" width="1.9" height="1.9" fill="#111"/>
<rect x="120.8" y="386.7" width="1.9" height="1.9" fill="#111"/>
<rect x="124.3" y="386.7" width="1.9" height="1.9" fill="#111"/>
<polygon points="129.1,389.4 132.1,392.4 135.1,389.4 132.1,386.4" fill="#fff" stroke="#000" stroke-width="1.1"/>
<path d="M 88 383.6 Q 90.1 383 90.1 381.5 L 90.1 379.3 Q 90.1 377.8 88 377.1 Q 85.8 377.8 85.8 379.3 L 85.8 381.5 Q 85.8 383 88 383.6 Z" fill="#fff" stroke="#000" stroke-width="1.1"/>
<rect x="184.7" y="396.7" width="52.8" height="15.7" rx="0" fill="#111" stroke="#000" stroke-width="0.4"/>
<rect x="192" y="409.6" width="1.9" height="2" fill="#fff"/>
<rect x="196.6" y="409.6" width="1.9" height="2" fill="#fff"/>
<rect x="199.5" y="409.6" width="3.1" height="2" fill="#fff"/>
<rect x="204.1" y="409.6" width="6.5" height="2" fill="#fff"/>
<rect x="211.6" y="409.6" width="6.5" height="2" fill="#fff"/>
<rect x="225.4" y="409.6" width="1.9" height="2" fill="#fff"/>
<rect x="231.7" y="409.6" width="3.1" height="2" fill="#fff"/>
<rect x="185.9" y="405.7" width="1.9" height="2" fill="#fff"/>
<rect x="190.5" y="405.7" width="3.1" height="2" fill="#fff"/>
<rect x="196.2" y="405.7" width="3.1" height="2" fill="#fff"/>
<rect x="202" y="405.7" width="1.9" height="2" fill="#fff"/>
<rect x="206.6" y="405.7" width="3.1" height="2" fill="#fff"/>
<rect x="212.3" y="405.7" width="6.5" height="2" fill="#fff"/>
<rect x="220.4" y="405.7" width="6.5" height="2" fill="#fff"/>
<rect x="227.9" y="405.7" width="3.1" height="2" fill="#fff"/>
<rect x="231.9" y="405.7" width="1.9" height="2" fill="#fff"/>
<rect x="195.1" y="401.7" width="6.5" height="2" fill="#fff"/>
<rect x="202.6" y="401.7" width="1.9" height="2" fill="#fff"/>
<rect x="205.4" y="401.7" width="4.6" height="2" fill="#fff"/>
<rect x="211.6" y="401.7" width="6.5" height="2" fill="#fff"/>
<rect x="220.8" y="401.7" width="1.9" height="2" fill="#fff"/>
<rect x="225.4" y="401.7" width="4.6" height="2" fill="#fff"/>
<rect x="231.5" y="401.7" width="5.2" height="2" fill="#fff"/>
<rect x="189.3" y="397.8" width="6.5" height="2" fill="#fff"/>
<rect x="196.8" y="397.8" width="1.9" height="2" fill="#fff"/>
<rect x="200.2" y="397.8" width="6.5" height="2" fill="#fff"/>
<rect x="208.3" y="397.8" width="4.6" height="2" fill="#fff"/>
<rect x="214.5" y="397.8" width="4.6" height="2" fill="#fff"/>
<rect x="220" y="397.8" width="6.5" height="2" fill="#fff"/>
<rect x="228.1" y="397.8" width="3.1" height="2" fill="#fff"/>
<rect x="220" y="396.7" width="30.7" height="16.3" rx="0" fill="#111" stroke="#000" stroke-width="0.4"/>
<rect x="221.2" y="410.1" width="6.5" height="2" fill="#fff"/>
<rect x="229.2" y="410.1" width="3.1" height="2" fill="#fff"/>
<rect x="235" y="410.1" width="1.9" height="2" fill="#fff"/>
<rect x="238.4" y="410.1" width="1.9" height="2" fill="#fff"/>
<rect x="243" y="410.1" width="1.9" height="2" fill="#fff"/>
<rect x="221.2" y="406" width="3.1" height="2" fill="#fff"/>
<rect x="225.2" y="406" width="1.9" height="2" fill="#fff"/>
<rect x="229.8" y="406" width="1.9" height="2" fill="#fff"/>
<rect x="236.1" y="406" width="3.1" height="2" fill="#fff"/>
<rect x="240.7" y="406" width="1.9" height="2" fill="#fff"/>
<rect x="243.6" y="406" width="6.3" height="2" fill="#fff"/>
<rect x="221.2" y="401.9" width="3.1" height="2" fill="#fff"/>
<rect x="225.2" y="401.9" width="6.5" height="2" fill="#fff"/>
<rect x="233.2" y="401.9" width="6.5" height="2" fill="#fff"/>
<rect x="240.7" y="401.9" width="6.5" height="2" fill="#fff"/>
<rect x="248.2" y="401.9" width="1.7" height="2" fill="#fff"/>
<rect x="225.2" y="397.8" width="4.6" height="2" fill="#fff"/>
<rect x="230.7" y="397.8" width="3.1" height="2" fill="#fff"/>
<rect x="234.8" y="397.8" width="1.9" height="2" fill="#fff"/>
<rect x="239.4" y="397.8" width="3.1" height="2" fill="#fff"/>
<rect x="244" y="397.8" width="3.1" height="2" fill="#fff"/>
<rect x="248" y="397.8" width="1.9" height="2" fill="#fff"/>
<rect x="250.7" y="397.1" width="10.6" height="15.4" rx="0" fill="#fff" stroke="#000" stroke-width="0.9"/>
<rect x="252.6" y="401.3" width="8.6" height="6.9" rx="0" fill="#fff" stroke="#000" stroke-width="0.9"/>
<polyline points="250.7,410.1 261.3,410.1" fill="none" stroke="#000" stroke-width="1.1"/>
<polyline points="250.7,399.4 261.3,399.4" fill="none" stroke="#000" stroke-width="1.1"/>
<path d="M 281 423.2 C 276.6 415.9 283.3 408.2 287.6 408.2 L 285.3 402.5 L 283.3 402.1 L 283 398.6 L 295.8 396.7 L 296.4 400.5 L 294.5 400.9 L 296.8 406.7 C 302.5 406.3 308.3 412 307.9 417.8 L 299.7 420.1 C 298.7 414 291 412 287.2 417.8 C 285.6 420.1 285.3 422 285.3 423.6 Z" fill="#fff" stroke="#000" stroke-width="1.1"/>
<polyline points="285.3,402.5 294.5,400.9" fill="none" stroke="#000" stroke-width="0.8"/>
<polygon points="272.7,417.8 274.7,419.8 276.7,417.8 274.7,415.8" fill="#fff" stroke="#000" stroke-width="1.1"/>
<path d="M 317.7 415.5 L 329.2 413.6 L 327.7 408.2 C 332.6 403.4 335.9 398.6 333.4 393.8 C 330.2 390 313.8 390 309 391.3 C 304.2 393.8 304.6 399.6 310 402.5 C 314.8 404.8 317.3 408.2 317.7 415.5 Z" fill="#fff" stroke="#000" stroke-width="1.1"/>
<polyline points="316.9,412.4 328.8,410.5" fill="none" stroke="#000" stroke-width="1.3"/>
<polyline points="316.1,417 330,414.7" fill="none" stroke="#000" stroke-width="1.4"/>
<circle cx="317.3" cy="393.2" r="0.6" fill="#000"/>
<path d="M 304.5 390.9 C 301.6 389 300.6 385.2 301.6 373.7" fill="none" stroke="#000" stroke-width="1.1"/>
<path d="M 304.5 386.7 C 304.5 383.3 304.5 379.4 304.5 373.7" fill="none" stroke="#000" stroke-width="1.1"/>
<polygon points="349.3,410.1 389.7,416.8 389.7,396.3 356.1,402.5 349.3,406.3" fill="#fff" stroke="#000" stroke-width="1.1"/>
<ellipse cx="344.5" cy="412.4" rx="6.1" ry="2.5" fill="#fff" stroke="#000" stroke-width="1.1"/>
<polyline points="349.3,410.1 353.2,408.6 352.6,406.3" fill="none" stroke="#000" stroke-width="0.8"/>
<path d="M 390.2 406.3 Q 391.1 408.9 393.1 408.9 L 397.7 408.9 Q 399.7 408.9 400.6 406.3 Q 399.7 403.7 397.7 403.7 L 393.1 403.7 Q 391.1 403.7 390.2 406.3 Z" fill="#fff" stroke="#000" stroke-width="1.1"/>
<path d="M 46.9 358.3 Q 47.5 356.6 48.8 356.6 L 55.8 356.6 Q 57.1 356.6 57.7 358.3 Q 57.1 360 55.8 360 L 48.8 360 Q 47.5 360 46.9 358.3 Z" fill="#fff" stroke="#000" stroke-width="1.1"/>
<path d="M 56.1 350.1 C 63 351.4 66.7 355.2 66.7 358.3 C 66.7 361.6 63 365.4 56.1 366.6 L 58.6 358.3 Z" fill="#fff" stroke="#000" stroke-width="1.6"/>
<polyline points="58.4,358.3 61.5,351.8" fill="none" stroke="#000" stroke-width="1.1"/>
<polyline points="58.4,358.3 65.1,354.9" fill="none" stroke="#000" stroke-width="1.1"/>
<polyline points="58.4,358.3 66.7,358.3" fill="none" stroke="#000" stroke-width="1.1"/>
<polyline points="58.4,358.3 65.1,362" fill="none" stroke="#000" stroke-width="1.1"/>
<polyline points="58.4,358.3 61.5,365" fill="none" stroke="#000" stroke-width="1.1"/>
<path d="M 60 352.9 C 62.6 355.8 62.6 361 60 363.9" fill="none" stroke="#000" stroke-width="0.8"/>
<rect x="84.1" y="351" width="46.1" height="14.8" rx="0" fill="#fff" stroke="#000" stroke-width="1.2"/>
<rect x="85.7" y="353.9" width="11.9" height="9" rx="0" fill="#fff" stroke="#000" stroke-width="1.6"/>
<polyline points="84.5,352.6 129.8,352.6" fill="none" stroke="#000" stroke-width="0.7"/>
<polyline points="84.5,364.5 129.8,364.5" fill="none" stroke="#000" stroke-width="0.7"/>
<rect x="112" y="352.9" width="16.7" height="11.1" rx="0" fill="#222" stroke="#000" stroke-width="0.5"/>
<rect x="113.9" y="355.2" width="6.7" height="6.9" rx="0" fill="#fff" stroke="#000" stroke-width="0.6"/>
<rect x="122.9" y="353.9" width="1.5" height="9.4" fill="#fff"/>
<rect x="126" y="353.9" width="1.2" height="9.4" fill="#fff"/>
<circle cx="101.4" cy="355.2" r="0.4" fill="#000"/>
<circle cx="101.4" cy="358.7" r="0.4" fill="#000"/>
<circle cx="101.4" cy="362.1" r="0.4" fill="#000"/>
<circle cx="107.2" cy="355.2" r="0.4" fill="#000"/>
<circle cx="107.2" cy="358.7" r="0.4" fill="#000"/>
<circle cx="107.2" cy="362.1" r="0.4" fill="#000"/>
<polygon points="76.4,358.3 79.3,355.3 82.3,358.3 79.3,361.3" fill="#fff" stroke="#000" stroke-width="1.1"/>
<path d="M 116.8 341.4 Q 119.2 342.2 119.2 344.1 L 119.2 348 Q 119.2 349.8 116.8 350.6 Q 114.4 349.8 114.4 348 L 114.4 344.1 Q 114.4 342.2 116.8 341.4 Z" fill="#fff" stroke="#000" stroke-width="1.1"/>
<path d="M 116.8 366.4 Q 119.2 367.2 119.2 369 L 119.2 373.3 Q 119.2 375.2 116.8 376 Q 114.4 375.2 114.4 373.3 L 114.4 369 Q 114.4 367.2 116.8 366.4 Z" fill="#fff" stroke="#000" stroke-width="1.1"/>
<circle cx="143.1" cy="358.3" r="4.4" fill="#fff" stroke="#000" stroke-width="2.2"/>
<rect x="140.7" y="356" width="4.6" height="4.6" rx="0" fill="#fff" stroke="#000" stroke-width="1.2"/>
<polyline points="143.1,356 143.1,360.6" fill="none" stroke="#000" stroke-width="1.1"/>
<polyline points="140.7,358.3 145.4,358.3" fill="none" stroke="#000" stroke-width="1.1"/>
<path d="M 143.1 341.4 Q 145.5 342.2 145.5 344.1 L 145.5 351.3 Q 145.5 353.1 143.1 353.9 Q 140.7 353.1 140.7 351.3 L 140.7 344.1 Q 140.7 342.2 143.1 341.4 Z" fill="#fff" stroke="#000" stroke-width="1.1"/>
<path d="M 143.1 362.9 Q 145.5 363.7 145.5 365.6 L 145.5 372.4 Q 145.5 374.2 143.1 375 Q 140.7 374.2 140.7 372.4 L 140.7 365.6 Q 140.7 363.7 143.1 362.9 Z" fill="#fff" stroke="#000" stroke-width="1.1"/>
<rect x="144.4" y="297.3" width="11.5" height="9.6" rx="0" fill="#fff" stroke="#000" stroke-width="1.2"/>
<rect x="145.4" y="320.3" width="10.6" height="8.6" rx="0" fill="#111" stroke="#000" stroke-width="1.1"/>
<rect x="146.9" y="321.8" width="2.3" height="2.3" fill="#fff"/>
<rect x="151.5" y="323" width="2.7" height="1.5" fill="#fff"/>
<rect x="148.4" y="326.1" width="2.3" height="1.5" fill="#fff"/>
<polygon points="137.3,311.7 146.3,311.7 149.2,313.6 146.3,315.7 137.3,315.7" fill="#fff" stroke="#000" stroke-width="1.1"/>
<path d="M 148.2 306.9 Q 150.2 307.5 150.2 309 L 150.2 318.2 Q 150.2 319.7 148.2 320.3 Q 146.3 319.7 146.3 318.2 L 146.3 309 Q 146.3 307.5 148.2 306.9 Z" fill="#fff" stroke="#000" stroke-width="1.1"/>
<rect x="160.7" y="308.8" width="8.6" height="9.6" rx="0" fill="#fff" stroke="#000" stroke-width="1.4"/>
<rect x="162.6" y="310.3" width="3.5" height="6.5" rx="1.2" fill="#fff" stroke="#000" stroke-width="1"/>
<polygon points="169,310.7 171.3,308.5 173.5,310.7 171.3,313" fill="#fff" stroke="#000" stroke-width="1.1"/>
<polygon points="169,316.1 171.3,313.8 173.5,316.1 171.3,318.3" fill="#fff" stroke="#000" stroke-width="1.1"/>
<path d="M 153 330.3 Q 155.4 331.1 155.4 332.9 L 155.4 335.9 Q 155.4 337.7 153 338.5 Q 150.6 337.7 150.6 335.9 L 150.6 332.9 Q 150.6 331.1 153 330.3 Z" fill="#fff" stroke="#000" stroke-width="1.1"/>
<polygon points="161.7,352 164.5,349.1 191,349.1 193.3,352 193.3,364.5 191,367.3 164.5,367.3 161.7,364.5" fill="#fff" stroke="#000" stroke-width="1.1"/>
<rect x="159.2" y="358.7" width="3.1" height="7.7" fill="#111"/>
<rect x="166.5" y="352.2" width="4.8" height="1.2" fill="#111"/>
<rect x="169.3" y="357.5" width="5.8" height="1.2" fill="#111"/>
<rect x="170.3" y="363.7" width="6.7" height="1.3" fill="#111"/>
<rect x="182.8" y="352.9" width="5.8" height="1.2" fill="#111"/>
<rect x="181.8" y="362.1" width="6.7" height="1.2" fill="#111"/>
<rect x="177.6" y="351.4" width="1.2" height="4.4" fill="#111"/>
<rect x="178.4" y="361" width="1.2" height="3.5" fill="#111"/>
<circle cx="178.9" cy="358.3" r="1.9" fill="#111" stroke="#000" stroke-width="1.1"/>
<rect x="182.2" y="356.4" width="6.9" height="3.8" rx="0.8" fill="#fff" stroke="#000" stroke-width="1"/>
<path d="M 177 337.6 Q 179.4 338.4 179.4 340.2 L 179.4 345.5 Q 179.4 347.3 177 348.1 Q 174.6 347.3 174.6 345.5 L 174.6 340.2 Q 174.6 338.4 177 337.6 Z" fill="#fff" stroke="#000" stroke-width="1.1"/>
<path d="M 166.5 367.9 Q 168.9 368.7 168.9 370.5 L 168.9 375.2 Q 168.9 377.1 166.5 377.9 Q 164.1 377.1 164.1 375.2 L 164.1 370.5 Q 164.1 368.7 166.5 367.9 Z" fill="#fff" stroke="#000" stroke-width="1.1"/>
<path d="M 186.6 367.9 Q 189 368.7 189 370.5 L 189 375.6 Q 189 377.5 186.6 378.3 Q 184.2 377.5 184.2 375.6 L 184.2 370.5 Q 184.2 368.7 186.6 367.9 Z" fill="#fff" stroke="#000" stroke-width="1.1"/>
<polyline points="206.4,358.3 214.5,358.3" fill="none" stroke="#000" stroke-width="1.1"/>
<path d="M 202.9 358.3 Q 203.6 356.2 205.3 356.2 L 212.1 356.2 Q 213.7 356.2 214.5 358.3 Q 213.7 360.5 212.1 360.5 L 205.3 360.5 Q 203.6 360.5 202.9 358.3 Z" fill="#fff" stroke="#000" stroke-width="1.1"/>
<circle cx="223.7" cy="358.3" r="10" fill="#fff" stroke="#000" stroke-width="1.1"/>
<circle cx="223.7" cy="358.3" r="5.6" fill="#fff" stroke="#000" stroke-width="1.1"/>
<circle cx="223.7" cy="358.3" r="1.2" fill="#fff" stroke="#000" stroke-width="0.8"/>
<path d="M 223.7 339.9 Q 225.8 340.6 225.8 342.3 L 225.8 346.3 Q 225.8 348 223.7 348.7 Q 221.5 348 221.5 346.3 L 221.5 342.3 Q 221.5 340.6 223.7 339.9 Z" fill="#fff" stroke="#000" stroke-width="1.1"/>
<path d="M 223.7 367.9 Q 225.8 368.6 225.8 370.3 L 225.8 374.6 Q 225.8 376.2 223.7 376.9 Q 221.5 376.2 221.5 374.6 L 221.5 370.3 Q 221.5 368.6 223.7 367.9 Z" fill="#fff" stroke="#000" stroke-width="1.1"/>
<path d="M 233.4 358.3 Q 234.1 356.2 235.8 356.2 L 241.6 356.2 Q 243.3 356.2 244 358.3 Q 243.3 360.5 241.6 360.5 L 235.8 360.5 Q 234.1 360.5 233.4 358.3 Z" fill="#fff" stroke="#000" stroke-width="1.1"/>
<path d="M 143.4 388.4 C 153 390.4 153 400.9 143.4 402.8" fill="none" stroke="#000" stroke-width="0.9"/>
<polygon points="141.9,391.7 145.4,387.5 148.8,391.7" fill="#111" stroke="#000" stroke-width="1.1"/>
<polygon points="141.9,402.8 145.4,398.6 148.8,402.8" fill="#111" stroke="#000" stroke-width="1.1"/>
<polygon points="135.3,389.4 138.1,386.7 140.8,389.4 138.1,392.1" fill="#fff" stroke="#000" stroke-width="1.1"/>
<polygon points="135.3,400.5 138.1,397.8 140.8,400.5 138.1,403.3" fill="#fff" stroke="#000" stroke-width="1.1"/>
<polygon points="135.3,412.4 138.1,409.7 140.8,412.4 138.1,415.2" fill="#fff" stroke="#000" stroke-width="1.1"/>
<polygon points="135.3,418.6 138.1,415.8 140.8,418.6 138.1,421.3" fill="#fff" stroke="#000" stroke-width="1.1"/>
<path d="M 168.4 396.1 C 155.9 398 155.9 412.4 168.4 414.4 Z" fill="#3a3a3a" stroke="#000" stroke-width="1.1"/>
<polygon points="168.3,399.4 171.3,396.4 174.3,399.4 171.3,402.4" fill="#fff" stroke="#000" stroke-width="1.1"/>
<polygon points="168.3,410.9 171.3,407.9 174.3,410.9 171.3,413.9" fill="#fff" stroke="#000" stroke-width="1.1"/>
<path d="M 142.5 411.5 C 148.2 412.4 148.2 419.2 142.5 420.5 Z" fill="#222" stroke="#000" stroke-width="1.1"/>
<circle cx="269.5" cy="357.7" r="11.9" fill="#fff" stroke="#000" stroke-width="1.2"/>
<path d="M 259 353.9 C 263.2 347.6 275.7 347.6 280.3 353.9" fill="none" stroke="#000" stroke-width="1"/>
<path d="M 259 362.1 C 263.2 368.7 275.7 368.7 280.3 362.1" fill="none" stroke="#000" stroke-width="1"/>
<polyline points="261.3,350.6 261.3,365.4" fill="none" stroke="#000" stroke-width="1"/>
<polyline points="264.5,350.6 264.5,365.4" fill="none" stroke="#000" stroke-width="1"/>
<polyline points="267.8,350.6 267.8,365.4" fill="none" stroke="#000" stroke-width="1"/>
<polyline points="258,356.8 281,356.8" fill="none" stroke="#000" stroke-width="1"/>
<rect x="270.3" y="349.1" width="1.9" height="15.4" fill="#111"/>
<rect x="270.3" y="355.2" width="10.7" height="1.9" fill="#111"/>
<rect x="274.7" y="349.5" width="2.1" height="5.8" fill="#111"/>
<rect x="272.8" y="359.7" width="4.8" height="2.5" fill="#111"/>
<rect x="275.7" y="362.9" width="3.1" height="3.1" fill="#111"/>
<path d="M 264.1 338.5 Q 266.5 339.3 266.5 341.2 L 266.5 344.5 Q 266.5 346.4 264.1 347.2 Q 261.7 346.4 261.7 344.5 L 261.7 341.2 Q 261.7 339.3 264.1 338.5 Z" fill="#fff" stroke="#000" stroke-width="1.1"/>
<path d="M 264.1 368.7 Q 266.5 369.5 266.5 371.3 L 266.5 375.6 Q 266.5 377.5 264.1 378.3 Q 261.7 377.5 261.7 375.6 L 261.7 371.3 Q 261.7 369.5 264.1 368.7 Z" fill="#fff" stroke="#000" stroke-width="1.1"/>
<path d="M 281 364.5 C 286.2 360.6 290.1 364.5 289.1 376" fill="none" stroke="#000" stroke-width="1.1"/>
<path d="M 279.9 368.7 C 284.3 365.4 286.2 368.3 285.6 376.9" fill="none" stroke="#000" stroke-width="1.1"/>
<path d="M 297.7 353.3 L 310.2 353.3 L 310.2 356 L 303.5 356 L 303.5 360.6 L 310.2 360.6 L 310.2 363.7 L 297.7 363.7 Z" fill="#222" stroke="#000" stroke-width="0.5"/>
<rect x="299.1" y="357.2" width="2.7" height="2.7" fill="#f4831f"/>
<path d="M 302.5 341 Q 304.7 341.7 304.7 343.4 L 304.7 348.3 Q 304.7 349.9 302.5 350.6 Q 300.4 349.9 300.4 348.3 L 300.4 343.4 Q 300.4 341.7 302.5 341 Z" fill="#fff" stroke="#000" stroke-width="1.1"/>
<path d="M 302.5 366 Q 304.7 366.7 304.7 368.4 L 304.7 373.6 Q 304.7 375.3 302.5 376 Q 300.4 375.3 300.4 373.6 L 300.4 368.4 Q 300.4 366.7 302.5 366 Z" fill="#fff" stroke="#000" stroke-width="1.1"/>
<circle cx="326.9" cy="357.7" r="5.8" fill="#fff" stroke="#000" stroke-width="2.4"/>
<circle cx="326.9" cy="357.7" r="3.6" fill="none" stroke="#111" stroke-width="2.6" stroke-dasharray="0.9 0.8"/>
<circle cx="326.9" cy="357.7" r="1.7" fill="#fff" stroke="#000" stroke-width="1.4"/>
<circle cx="326.9" cy="357.7" r="0.6" fill="#000"/>
<path d="M 326.9 341.4 Q 329 342.1 329 343.8 L 329 349 Q 329 350.7 326.9 351.4 Q 324.7 350.7 324.7 349 L 324.7 343.8 Q 324.7 342.1 326.9 341.4 Z" fill="#fff" stroke="#000" stroke-width="1.1"/>
<path d="M 326.9 364.1 Q 329 364.8 329 366.4 L 329 372.6 Q 329 374.3 326.9 375 Q 324.7 374.3 324.7 372.6 L 324.7 366.4 Q 324.7 364.8 326.9 364.1 Z" fill="#fff" stroke="#000" stroke-width="1.1"/>
<rect x="349.3" y="325.1" width="8.3" height="9.6" rx="0.4" fill="#fff" stroke="#000" stroke-width="1.6"/>
<rect x="350.9" y="327.2" width="5.2" height="1.2" fill="#111"/>
<rect x="350.9" y="329.1" width="2.5" height="4.2" fill="#111"/>
<path d="M 358 358.7 C 367.6 355.8 381 351 390.6 349.5 L 391.6 364.5 L 361.4 364.5 L 360.9 370.2 C 358 366.4 357 361.6 358 358.7 Z" fill="#fff" stroke="#000" stroke-width="1.1"/>
<polyline points="364.7,361.2 364.7,364.5" fill="none" stroke="#000" stroke-width="1"/>
<polyline points="369.5,359.2 369.5,364.5" fill="none" stroke="#000" stroke-width="1"/>
<polyline points="374.3,357.2 374.3,364.5" fill="none" stroke="#000" stroke-width="1"/>
<polyline points="379.1,355.2 379.1,364.5" fill="none" stroke="#000" stroke-width="1"/>
<polyline points="383.9,353.2 383.9,364.5" fill="none" stroke="#000" stroke-width="1"/>
<polygon points="386.4,350.6 391.4,349.5 389.7,364.5" fill="#fff" stroke="#000" stroke-width="1.6"/>
<path d="M 346.5 362.9 Q 347.3 360.5 349.1 360.5 L 355.3 360.5 Q 357.2 360.5 358 362.9 Q 357.2 365.3 355.3 365.3 L 349.1 365.3 Q 347.3 365.3 346.5 362.9 Z" fill="#fff" stroke="#000" stroke-width="1.1"/>
<path d="M 392.1 362.9 Q 392.9 360.5 394.8 360.5 L 398 360.5 Q 399.8 360.5 400.6 362.9 Q 399.8 365.3 398 365.3 L 394.8 365.3 Q 392.9 365.3 392.1 362.9 Z" fill="#fff" stroke="#000" stroke-width="1.1"/>
<circle cx="368.5" cy="366" r="0.6" fill="#000"/>
<circle cx="376.8" cy="363.9" r="0.6" fill="#000"/>
<circle cx="382" cy="365.4" r="0.6" fill="#000"/>
<rect x="356.1" y="382.1" width="33.6" height="7.7" rx="0.8" fill="#fff" stroke="#000" stroke-width="1"/>
<text x="372.8" y="388.3" font-size="7.2" text-anchor="middle" fill="#000" font-weight="bold" font-style="italic" font-family="'Liberation Serif',serif" textLength="31" lengthAdjust="spacingAndGlyphs" stroke="#000" stroke-width="0.3">Clear Prop</text>
<rect x="65.5" y="287.1" width="8.6" height="5.8" rx="1.7" fill="#fff" stroke="#111" stroke-width="0.9"/>
<text x="69.8" y="291.9" font-size="5.4" text-anchor="middle" fill="#444" font-weight="bold">1</text>
<rect x="65.5" y="423.4" width="8.6" height="5.8" rx="1.7" fill="#fff" stroke="#111" stroke-width="0.9"/>
<text x="69.8" y="428.2" font-size="5.4" text-anchor="middle" fill="#444" font-weight="bold">3</text>
<rect x="49.1" y="360" width="8.6" height="5.8" rx="1.7" fill="#fff" stroke="#111" stroke-width="0.9"/>
<text x="53.4" y="364.9" font-size="5.4" text-anchor="middle" fill="#444" font-weight="bold">2</text>
<rect x="124.4" y="310.1" width="8.6" height="5.8" rx="1.7" fill="#fff" stroke="#111" stroke-width="0.9"/>
<text x="128.7" y="315" font-size="5.4" text-anchor="middle" fill="#444" font-weight="bold">4</text>
<rect x="124.4" y="332.8" width="8.6" height="5.8" rx="1.7" fill="#fff" stroke="#111" stroke-width="0.9"/>
<text x="128.7" y="337.6" font-size="5.4" text-anchor="middle" fill="#444" font-weight="bold">5</text>
<rect x="77.9" y="368.3" width="8.6" height="5.8" rx="1.7" fill="#fff" stroke="#111" stroke-width="0.9"/>
<text x="82.2" y="373.1" font-size="5.4" text-anchor="middle" fill="#444" font-weight="bold">6</text>
<rect x="124.4" y="377.3" width="8.6" height="5.8" rx="1.7" fill="#fff" stroke="#111" stroke-width="0.9"/>
<text x="128.7" y="382.1" font-size="5.4" text-anchor="middle" fill="#444" font-weight="bold">7</text>
<rect x="124.4" y="400.9" width="8.6" height="5.8" rx="1.7" fill="#fff" stroke="#111" stroke-width="0.9"/>
<text x="128.7" y="405.7" font-size="5.4" text-anchor="middle" fill="#444" font-weight="bold">8</text>
<rect x="132.4" y="343.3" width="8.6" height="5.8" rx="1.7" fill="#fff" stroke="#111" stroke-width="0.9"/>
<text x="136.7" y="348.2" font-size="5.4" text-anchor="middle" fill="#444" font-weight="bold">9</text>
<rect x="137.3" y="287.7" width="9.2" height="5.8" rx="1.7" fill="#fff" stroke="#111" stroke-width="0.9"/>
<text x="141.9" y="292.5" font-size="5.4" text-anchor="middle" fill="#444" font-weight="bold">10</text>
<rect x="163.8" y="295.3" width="9.2" height="5.8" rx="1.7" fill="#fff" stroke="#111" stroke-width="0.9"/>
<text x="168.4" y="300.2" font-size="5.4" text-anchor="middle" fill="#444" font-weight="bold">11</text>
<rect x="137.3" y="333.1" width="9.2" height="5.8" rx="1.7" fill="#fff" stroke="#111" stroke-width="0.9"/>
<text x="141.9" y="338" font-size="5.4" text-anchor="middle" fill="#444" font-weight="bold">12</text>
<rect x="175.3" y="329.9" width="9.2" height="5.8" rx="1.7" fill="#fff" stroke="#111" stroke-width="0.9"/>
<text x="179.9" y="334.7" font-size="5.4" text-anchor="middle" fill="#444" font-weight="bold">16</text>
<rect x="192.6" y="338.9" width="9.2" height="5.8" rx="1.7" fill="#fff" stroke="#111" stroke-width="0.9"/>
<text x="197.2" y="343.7" font-size="5.4" text-anchor="middle" fill="#444" font-weight="bold">17</text>
<rect x="137.3" y="377.9" width="9.2" height="5.8" rx="1.7" fill="#fff" stroke="#111" stroke-width="0.9"/>
<text x="141.9" y="382.7" font-size="5.4" text-anchor="middle" fill="#444" font-weight="bold">13</text>
<rect x="175.3" y="381.7" width="9.2" height="5.8" rx="1.7" fill="#fff" stroke="#111" stroke-width="0.9"/>
<text x="179.9" y="386.6" font-size="5.4" text-anchor="middle" fill="#444" font-weight="bold">18</text>
<rect x="163.8" y="415.3" width="9.2" height="5.8" rx="1.7" fill="#fff" stroke="#111" stroke-width="0.9"/>
<text x="168.4" y="420.1" font-size="5.4" text-anchor="middle" fill="#444" font-weight="bold">14</text>
<rect x="136" y="423.9" width="9.2" height="5.8" rx="1.7" fill="#fff" stroke="#111" stroke-width="0.9"/>
<text x="140.6" y="428.8" font-size="5.4" text-anchor="middle" fill="#444" font-weight="bold">15</text>
<rect x="246.1" y="339.5" width="9.2" height="5.8" rx="1.7" fill="#fff" stroke="#111" stroke-width="0.9"/>
<text x="250.7" y="344.3" font-size="5.4" text-anchor="middle" fill="#444" font-weight="bold">19</text>
<rect x="273" y="330.5" width="9.2" height="5.8" rx="1.7" fill="#fff" stroke="#111" stroke-width="0.9"/>
<text x="277.6" y="335.3" font-size="5.4" text-anchor="middle" fill="#444" font-weight="bold">20</text>
<rect x="304.1" y="342.4" width="9.2" height="5.8" rx="1.7" fill="#fff" stroke="#111" stroke-width="0.9"/>
<text x="308.7" y="347.2" font-size="5.4" text-anchor="middle" fill="#444" font-weight="bold">22</text>
<rect x="273" y="380.7" width="9.2" height="5.8" rx="1.7" fill="#fff" stroke="#111" stroke-width="0.9"/>
<text x="277.6" y="385.6" font-size="5.4" text-anchor="middle" fill="#444" font-weight="bold">24</text>
<rect x="339.9" y="287.7" width="9.2" height="5.8" rx="1.7" fill="#fff" stroke="#111" stroke-width="0.9"/>
<text x="344.5" y="292.5" font-size="5.4" text-anchor="middle" fill="#444" font-weight="bold">26</text>
<rect x="336.1" y="330.5" width="9.2" height="5.8" rx="1.7" fill="#fff" stroke="#111" stroke-width="0.9"/>
<text x="340.7" y="335.3" font-size="5.4" text-anchor="middle" fill="#444" font-weight="bold">21</text>
<rect x="348" y="339.5" width="9.2" height="5.8" rx="1.7" fill="#fff" stroke="#111" stroke-width="0.9"/>
<text x="352.6" y="344.3" font-size="5.4" text-anchor="middle" fill="#444" font-weight="bold">27</text>
<rect x="316.5" y="342.4" width="9.2" height="5.8" rx="1.7" fill="#fff" stroke="#111" stroke-width="0.9"/>
<text x="321.1" y="347.2" font-size="5.4" text-anchor="middle" fill="#444" font-weight="bold">23</text>
<rect x="336.1" y="380.4" width="9.2" height="5.8" rx="1.7" fill="#fff" stroke="#111" stroke-width="0.9"/>
<text x="340.7" y="385.2" font-size="5.4" text-anchor="middle" fill="#444" font-weight="bold">25</text>
<rect x="339.6" y="423.4" width="9.2" height="5.8" rx="1.7" fill="#fff" stroke="#111" stroke-width="0.9"/>
<text x="344.2" y="428.2" font-size="5.4" text-anchor="middle" fill="#444" font-weight="bold">28</text>
</g>
<g id="sprueC">
<rect x="68.3" y="498" width="9" height="8.4" fill="#f4831f"/>
<rect x="164.6" y="467.6" width="10.5" height="10.9" fill="#f4831f"/>
<rect x="188.7" y="496.5" width="17.8" height="18.2" fill="#f4831f"/>
<rect x="258" y="525.2" width="9" height="7.8" fill="#f4831f"/>
<rect x="258" y="543.1" width="9" height="8" fill="#f4831f"/>
<rect x="44.6" y="460.2" width="260.5" height="156.4" rx="8.5" fill="none" stroke="#000" stroke-width="1.1"/>
<rect x="49.4" y="465" width="251.1" height="146.8" rx="4.5" fill="none" stroke="#000" stroke-width="1.1"/>
<polyline points="81.9,465.1 81.9,611.8" fill="none" stroke="#000" stroke-width="1.1"/>
<polyline points="86.5,465.1 86.5,498" fill="none" stroke="#000" stroke-width="1.1"/>
<polyline points="86.5,502.8 86.5,574.5" fill="none" stroke="#000" stroke-width="1.1"/>
<polyline points="86.5,579.1 86.5,611.8" fill="none" stroke="#000" stroke-width="1.1"/>
<polyline points="118.6,465.1 118.6,500.1" fill="none" stroke="#000" stroke-width="1.1"/>
<polyline points="123.4,465.1 123.4,515.8" fill="none" stroke="#000" stroke-width="1.1"/>
<polyline points="118.6,577.6 118.6,611.8" fill="none" stroke="#000" stroke-width="1.1"/>
<polyline points="123.4,560.2 123.4,611.8" fill="none" stroke="#000" stroke-width="1.1"/>
<path d="M 86.5 498 L 100.8 498 C 111.3 499 111.3 515.8 123.4 515.8 L 140 515.8" fill="none" stroke="#000" stroke-width="1.1"/>
<path d="M 86.5 502.8 L 98.7 502.8 C 107.1 504.3 107.1 520.4 121.8 520.4 L 140 520.4" fill="none" stroke="#000" stroke-width="1.1"/>
<path d="M 86.5 579.1 L 100.8 579.1 C 111.3 578.3 111.3 560.2 123.4 560.2" fill="none" stroke="#000" stroke-width="1.1"/>
<path d="M 86.5 574.5 L 98.7 574.5 C 107.1 573.4 107.1 556.7 120.7 555.6" fill="none" stroke="#000" stroke-width="1.1"/>
<polyline points="130,515.8 148.4,515.8" fill="none" stroke="#000" stroke-width="1.1"/>
<polyline points="130,520.4 148.4,520.4" fill="none" stroke="#000" stroke-width="1.1"/>
<polyline points="153.1,515.8 183.5,515.8" fill="none" stroke="#000" stroke-width="1.1"/>
<polyline points="153.1,520.4 183.5,520.4" fill="none" stroke="#000" stroke-width="1.1"/>
<polyline points="188.3,515.8 230,515.8" fill="none" stroke="#000" stroke-width="1.1"/>
<polyline points="188.3,520.4 230,520.4" fill="none" stroke="#000" stroke-width="1.1"/>
<polyline points="121.6,555.6 148.4,555.6" fill="none" stroke="#000" stroke-width="1.1"/>
<polyline points="121.6,560.2 148.4,560.2" fill="none" stroke="#000" stroke-width="1.1"/>
<polyline points="153.1,555.6 183.5,555.6" fill="none" stroke="#000" stroke-width="1.1"/>
<polyline points="153.1,560.2 183.5,560.2" fill="none" stroke="#000" stroke-width="1.1"/>
<polyline points="188.3,555.6 230,555.6" fill="none" stroke="#000" stroke-width="1.1"/>
<polyline points="188.3,560.2 230,560.2" fill="none" stroke="#000" stroke-width="1.1"/>
<polyline points="148.4,465.1 148.4,515.8" fill="none" stroke="#000" stroke-width="1.1"/>
<polyline points="153.1,465.1 153.1,515.8" fill="none" stroke="#000" stroke-width="1.1"/>
<polyline points="148.4,520.4 148.4,555.6" fill="none" stroke="#000" stroke-width="1.1"/>
<polyline points="153.1,520.4 153.1,555.6" fill="none" stroke="#000" stroke-width="1.1"/>
<polyline points="148.4,560.2 148.4,611.8" fill="none" stroke="#000" stroke-width="1.1"/>
<polyline points="153.1,560.2 153.1,611.8" fill="none" stroke="#000" stroke-width="1.1"/>
<polyline points="183.5,465.1 183.5,515.8" fill="none" stroke="#000" stroke-width="1.1"/>
<polyline points="188.3,465.1 188.3,515.8" fill="none" stroke="#000" stroke-width="1.1"/>
<polyline points="183.5,520.4 183.5,555.6" fill="none" stroke="#000" stroke-width="1.1"/>
<polyline points="188.3,520.4 188.3,555.6" fill="none" stroke="#000" stroke-width="1.1"/>
<polyline points="183.5,560.2 183.5,611.8" fill="none" stroke="#000" stroke-width="1.1"/>
<polyline points="188.3,560.2 188.3,611.8" fill="none" stroke="#000" stroke-width="1.1"/>
<polyline points="208,520.4 208,555.6" fill="none" stroke="#000" stroke-width="1.1"/>
<polyline points="212.8,520.4 212.8,555.6" fill="none" stroke="#000" stroke-width="1.1"/>
<polyline points="215,515.8 251.1,515.8" fill="none" stroke="#000" stroke-width="1.1"/>
<polyline points="215,520.4 251.1,520.4" fill="none" stroke="#000" stroke-width="1.1"/>
<polyline points="255.9,515.8 300.5,515.8" fill="none" stroke="#000" stroke-width="1.1"/>
<polyline points="255.9,520.4 300.5,520.4" fill="none" stroke="#000" stroke-width="1.1"/>
<polyline points="215,555.6 251.1,555.6" fill="none" stroke="#000" stroke-width="1.1"/>
<polyline points="215,560.2 251.1,560.2" fill="none" stroke="#000" stroke-width="1.1"/>
<polyline points="255.9,555.6 300.5,555.6" fill="none" stroke="#000" stroke-width="1.1"/>
<polyline points="255.9,560.2 300.5,560.2" fill="none" stroke="#000" stroke-width="1.1"/>
<polyline points="251.1,520.4 251.1,555.6" fill="none" stroke="#000" stroke-width="1.1"/>
<polyline points="255.9,520.4 255.9,555.6" fill="none" stroke="#000" stroke-width="1.1"/>
<path d="M 84 462.3 Q 86.6 463.2 86.6 465.2 L 86.6 469.9 Q 86.6 472 84 472.8 Q 81.4 472 81.4 469.9 L 81.4 465.2 Q 81.4 463.2 84 462.3 Z" fill="#fff" stroke="#000" stroke-width="1.1"/>
<path d="M 84 604.3 Q 86.6 605.1 86.6 607.1 L 86.6 611.9 Q 86.6 613.9 84 614.7 Q 81.4 613.9 81.4 611.9 L 81.4 607.1 Q 81.4 605.1 84 604.3 Z" fill="#fff" stroke="#000" stroke-width="1.1"/>
<path d="M 120.7 462.3 Q 123.3 463.2 123.3 465.2 L 123.3 469.9 Q 123.3 472 120.7 472.8 Q 118.1 472 118.1 469.9 L 118.1 465.2 Q 118.1 463.2 120.7 462.3 Z" fill="#fff" stroke="#000" stroke-width="1.1"/>
<path d="M 120.7 604.3 Q 123.3 605.1 123.3 607.1 L 123.3 611.9 Q 123.3 613.9 120.7 614.7 Q 118.1 613.9 118.1 611.9 L 118.1 607.1 Q 118.1 605.1 120.7 604.3 Z" fill="#fff" stroke="#000" stroke-width="1.1"/>
<path d="M 150.5 462.3 Q 153.2 463.2 153.2 465.2 L 153.2 469.9 Q 153.2 472 150.5 472.8 Q 147.9 472 147.9 469.9 L 147.9 465.2 Q 147.9 463.2 150.5 462.3 Z" fill="#fff" stroke="#000" stroke-width="1.1"/>
<path d="M 150.5 604.3 Q 153.2 605.1 153.2 607.1 L 153.2 611.9 Q 153.2 613.9 150.5 614.7 Q 147.9 613.9 147.9 611.9 L 147.9 607.1 Q 147.9 605.1 150.5 604.3 Z" fill="#fff" stroke="#000" stroke-width="1.1"/>
<path d="M 186.2 462.3 Q 188.8 463.2 188.8 465.2 L 188.8 469.9 Q 188.8 472 186.2 472.8 Q 183.6 472 183.6 469.9 L 183.6 465.2 Q 183.6 463.2 186.2 462.3 Z" fill="#fff" stroke="#000" stroke-width="1.1"/>
<path d="M 186.2 604.3 Q 188.8 605.1 188.8 607.1 L 188.8 611.9 Q 188.8 613.9 186.2 614.7 Q 183.6 613.9 183.6 611.9 L 183.6 607.1 Q 183.6 605.1 186.2 604.3 Z" fill="#fff" stroke="#000" stroke-width="1.1"/>
<path d="M 230.7 462.3 Q 233.3 463.2 233.3 465.2 L 233.3 469.9 Q 233.3 472 230.7 472.8 Q 228.1 472 228.1 469.9 L 228.1 465.2 Q 228.1 463.2 230.7 462.3 Z" fill="#fff" stroke="#000" stroke-width="1.1"/>
<path d="M 230.7 604.3 Q 233.3 605.1 233.3 607.1 L 233.3 611.9 Q 233.3 613.9 230.7 614.7 Q 228.1 613.9 228.1 611.9 L 228.1 607.1 Q 228.1 605.1 230.7 604.3 Z" fill="#fff" stroke="#000" stroke-width="1.1"/>
<path d="M 259 462.3 Q 261.6 463.2 261.6 465.2 L 261.6 469.9 Q 261.6 472 259 472.8 Q 256.4 472 256.4 469.9 L 256.4 465.2 Q 256.4 463.2 259 462.3 Z" fill="#fff" stroke="#000" stroke-width="1.1"/>
<path d="M 259 604.3 Q 261.6 605.1 261.6 607.1 L 261.6 611.9 Q 261.6 613.9 259 614.7 Q 256.4 613.9 256.4 611.9 L 256.4 607.1 Q 256.4 605.1 259 604.3 Z" fill="#fff" stroke="#000" stroke-width="1.1"/>
<path d="M 280 462.3 Q 282.6 463.2 282.6 465.2 L 282.6 469.9 Q 282.6 472 280 472.8 Q 277.4 472 277.4 469.9 L 277.4 465.2 Q 277.4 463.2 280 462.3 Z" fill="#fff" stroke="#000" stroke-width="1.1"/>
<path d="M 280 604.3 Q 282.6 605.1 282.6 607.1 L 282.6 611.9 Q 282.6 613.9 280 614.7 Q 277.4 613.9 277.4 611.9 L 277.4 607.1 Q 277.4 605.1 280 604.3 Z" fill="#fff" stroke="#000" stroke-width="1.1"/>
<path d="M 201.3 462.3 Q 203.6 463.1 203.6 464.9 L 203.6 468.1 Q 203.6 469.9 201.3 470.7 Q 198.9 469.9 198.9 468.1 L 198.9 464.9 Q 198.9 463.1 201.3 462.3 Z" fill="#fff" stroke="#000" stroke-width="1.1"/>
<polyline points="62,484.4 60.3,474.4" fill="none" stroke="#000" stroke-width="1.5"/>
<polyline points="62,484.4 65.5,474.9" fill="none" stroke="#000" stroke-width="1.5"/>
<polyline points="62,484.4 69.7,477.9" fill="none" stroke="#000" stroke-width="1.5"/>
<polyline points="62,484.4 70.2,482.6" fill="none" stroke="#000" stroke-width="1.5"/>
<polyline points="62,484.4 70.1,486.5" fill="none" stroke="#000" stroke-width="1.5"/>
<polyline points="62,484.4 69.5,491.1" fill="none" stroke="#000" stroke-width="1.5"/>
<polyline points="62,484.4 65.5,493.8" fill="none" stroke="#000" stroke-width="1.5"/>
<polyline points="62,484.4 60.3,494.3" fill="none" stroke="#000" stroke-width="1.5"/>
<polyline points="62,484.4 55.5,492.1" fill="none" stroke="#000" stroke-width="1.5"/>
<polyline points="62,484.4 56.1,486" fill="none" stroke="#000" stroke-width="1.3"/>
<path d="M 47.8 481 Q 48.4 479 49.9 479 L 55.2 479 Q 56.8 479 57.4 481 Q 56.8 483 55.2 483 L 49.9 483 Q 48.4 483 47.8 481 Z" fill="#fff" stroke="#000" stroke-width="1.1"/>
<path d="M 47.8 484.8 Q 48.4 482.8 49.9 482.8 L 55.2 482.8 Q 56.8 482.8 57.4 484.8 Q 56.8 486.7 55.2 486.7 L 49.9 486.7 Q 48.4 486.7 47.8 484.8 Z" fill="#fff" stroke="#000" stroke-width="1.1"/>
<path d="M 47.8 488.5 Q 48.4 486.6 49.9 486.6 L 55.2 486.6 Q 56.8 486.6 57.4 488.5 Q 56.8 490.5 55.2 490.5 L 49.9 490.5 Q 48.4 490.5 47.8 488.5 Z" fill="#fff" stroke="#000" stroke-width="1.1"/>
<polyline points="62,517.9 60.3,508" fill="none" stroke="#000" stroke-width="1.5"/>
<polyline points="62,517.9 65.5,508.4" fill="none" stroke="#000" stroke-width="1.5"/>
<polyline points="62,517.9 69.7,511.4" fill="none" stroke="#000" stroke-width="1.5"/>
<polyline points="62,517.9 70.2,516.1" fill="none" stroke="#000" stroke-width="1.5"/>
<polyline points="62,517.9 70.1,520.1" fill="none" stroke="#000" stroke-width="1.5"/>
<polyline points="62,517.9 69.5,524.6" fill="none" stroke="#000" stroke-width="1.5"/>
<polyline points="62,517.9 65.5,527.3" fill="none" stroke="#000" stroke-width="1.5"/>
<polyline points="62,517.9 60.3,527.8" fill="none" stroke="#000" stroke-width="1.5"/>
<polyline points="62,517.9 55.5,525.6" fill="none" stroke="#000" stroke-width="1.5"/>
<polyline points="62,517.9 56.1,519.6" fill="none" stroke="#000" stroke-width="1.3"/>
<path d="M 47.8 514.5 Q 48.4 512.6 49.9 512.6 L 55.2 512.6 Q 56.8 512.6 57.4 514.5 Q 56.8 516.5 55.2 516.5 L 49.9 516.5 Q 48.4 516.5 47.8 514.5 Z" fill="#fff" stroke="#000" stroke-width="1.1"/>
<path d="M 47.8 518.3 Q 48.4 516.3 49.9 516.3 L 55.2 516.3 Q 56.8 516.3 57.4 518.3 Q 56.8 520.3 55.2 520.3 L 49.9 520.3 Q 48.4 520.3 47.8 518.3 Z" fill="#fff" stroke="#000" stroke-width="1.1"/>
<path d="M 47.8 522.1 Q 48.4 520.1 49.9 520.1 L 55.2 520.1 Q 56.8 520.1 57.4 522.1 Q 56.8 524.1 55.2 524.1 L 49.9 524.1 Q 48.4 524.1 47.8 522.1 Z" fill="#fff" stroke="#000" stroke-width="1.1"/>
<polyline points="62,554.6 60.3,544.7" fill="none" stroke="#000" stroke-width="1.5"/>
<polyline points="62,554.6 65.5,545.1" fill="none" stroke="#000" stroke-width="1.5"/>
<polyline points="62,554.6 69.7,548.1" fill="none" stroke="#000" stroke-width="1.5"/>
<polyline points="62,554.6 70.2,552.8" fill="none" stroke="#000" stroke-width="1.5"/>
<polyline points="62,554.6 70.1,556.8" fill="none" stroke="#000" stroke-width="1.5"/>
<polyline points="62,554.6 69.5,561.3" fill="none" stroke="#000" stroke-width="1.5"/>
<polyline points="62,554.6 65.5,564" fill="none" stroke="#000" stroke-width="1.5"/>
<polyline points="62,554.6 60.3,564.5" fill="none" stroke="#000" stroke-width="1.5"/>
<polyline points="62,554.6 55.5,562.3" fill="none" stroke="#000" stroke-width="1.5"/>
<polyline points="62,554.6 56.1,556.3" fill="none" stroke="#000" stroke-width="1.3"/>
<path d="M 47.8 551.2 Q 48.4 549.3 49.9 549.3 L 55.2 549.3 Q 56.8 549.3 57.4 551.2 Q 56.8 553.2 55.2 553.2 L 49.9 553.2 Q 48.4 553.2 47.8 551.2 Z" fill="#fff" stroke="#000" stroke-width="1.1"/>
<path d="M 47.8 555 Q 48.4 553 49.9 553 L 55.2 553 Q 56.8 553 57.4 555 Q 56.8 557 55.2 557 L 49.9 557 Q 48.4 557 47.8 555 Z" fill="#fff" stroke="#000" stroke-width="1.1"/>
<path d="M 47.8 558.8 Q 48.4 556.8 49.9 556.8 L 55.2 556.8 Q 56.8 556.8 57.4 558.8 Q 56.8 560.7 55.2 560.7 L 49.9 560.7 Q 48.4 560.7 47.8 558.8 Z" fill="#fff" stroke="#000" stroke-width="1.1"/>
<polyline points="62,589.2 60.3,579.3" fill="none" stroke="#000" stroke-width="1.5"/>
<polyline points="62,589.2 65.5,579.7" fill="none" stroke="#000" stroke-width="1.5"/>
<polyline points="62,589.2 69.7,582.7" fill="none" stroke="#000" stroke-width="1.5"/>
<polyline points="62,589.2 70.2,587.4" fill="none" stroke="#000" stroke-width="1.5"/>
<polyline points="62,589.2 70.1,591.3" fill="none" stroke="#000" stroke-width="1.5"/>
<polyline points="62,589.2 69.5,595.9" fill="none" stroke="#000" stroke-width="1.5"/>
<polyline points="62,589.2 65.5,598.6" fill="none" stroke="#000" stroke-width="1.5"/>
<polyline points="62,589.2 60.3,599.1" fill="none" stroke="#000" stroke-width="1.5"/>
<polyline points="62,589.2 55.5,596.9" fill="none" stroke="#000" stroke-width="1.5"/>
<polyline points="62,589.2 56.1,590.8" fill="none" stroke="#000" stroke-width="1.3"/>
<path d="M 47.8 585.8 Q 48.4 583.9 49.9 583.9 L 55.2 583.9 Q 56.8 583.9 57.4 585.8 Q 56.8 587.8 55.2 587.8 L 49.9 587.8 Q 48.4 587.8 47.8 585.8 Z" fill="#fff" stroke="#000" stroke-width="1.1"/>
<path d="M 47.8 589.6 Q 48.4 587.6 49.9 587.6 L 55.2 587.6 Q 56.8 587.6 57.4 589.6 Q 56.8 591.6 55.2 591.6 L 49.9 591.6 Q 48.4 591.6 47.8 589.6 Z" fill="#fff" stroke="#000" stroke-width="1.1"/>
<path d="M 47.8 593.4 Q 48.4 591.4 49.9 591.4 L 55.2 591.4 Q 56.8 591.4 57.4 593.4 Q 56.8 595.3 55.2 595.3 L 49.9 595.3 Q 48.4 595.3 47.8 593.4 Z" fill="#fff" stroke="#000" stroke-width="1.1"/>
<polygon points="77.3,476 80.3,473 83.2,476 80.3,479" fill="#fff" stroke="#000" stroke-width="1.1"/>
<polyline points="71.4,474.3 75.6,477.2" fill="none" stroke="#000" stroke-width="2"/>
<polyline points="71.9,477.6 76.1,475.1" fill="none" stroke="#000" stroke-width="1.4"/>
<polygon points="77.3,488.5 80.3,485.5 83.2,488.5 80.3,491.5" fill="#fff" stroke="#000" stroke-width="1.1"/>
<polyline points="71.4,486.9 75.6,489.8" fill="none" stroke="#000" stroke-width="2"/>
<polyline points="71.9,490.2 76.1,487.7" fill="none" stroke="#000" stroke-width="1.4"/>
<polygon points="77.3,500.1 80.3,497.1 83.2,500.1 80.3,503.1" fill="#fff" stroke="#000" stroke-width="1.1"/>
<polyline points="71.4,498.4 75.6,501.3" fill="none" stroke="#000" stroke-width="2"/>
<polyline points="71.9,501.8 76.1,499.2" fill="none" stroke="#000" stroke-width="1.4"/>
<polygon points="77.3,517.9 80.3,514.9 83.2,517.9 80.3,520.9" fill="#fff" stroke="#000" stroke-width="1.1"/>
<polyline points="71.4,516.2 75.6,519.2" fill="none" stroke="#000" stroke-width="2"/>
<polyline points="71.9,519.6 76.1,517.1" fill="none" stroke="#000" stroke-width="1.4"/>
<polygon points="77.3,531.5 80.3,528.5 83.2,531.5 80.3,534.5" fill="#fff" stroke="#000" stroke-width="1.1"/>
<polyline points="71.4,529.8 75.6,532.8" fill="none" stroke="#000" stroke-width="2"/>
<polyline points="71.9,533.2 76.1,530.7" fill="none" stroke="#000" stroke-width="1.4"/>
<polygon points="77.3,550.4 80.3,547.4 83.2,550.4 80.3,553.4" fill="#fff" stroke="#000" stroke-width="1.1"/>
<polyline points="71.4,548.7 75.6,551.6" fill="none" stroke="#000" stroke-width="2"/>
<polyline points="71.9,552.1 76.1,549.5" fill="none" stroke="#000" stroke-width="1.4"/>
<polygon points="77.3,564 80.3,561 83.2,564 80.3,567" fill="#fff" stroke="#000" stroke-width="1.1"/>
<polyline points="71.4,562.3 75.6,565.3" fill="none" stroke="#000" stroke-width="2"/>
<polyline points="71.9,565.7 76.1,563.2" fill="none" stroke="#000" stroke-width="1.4"/>
<polygon points="77.3,579.7 80.3,576.7 83.2,579.7 80.3,582.7" fill="#fff" stroke="#000" stroke-width="1.1"/>
<polyline points="71.4,578.1 75.6,581" fill="none" stroke="#000" stroke-width="2"/>
<polyline points="71.9,581.4 76.1,578.9" fill="none" stroke="#000" stroke-width="1.4"/>
<polygon points="77.3,592.3 80.3,589.3 83.2,592.3 80.3,595.3" fill="#fff" stroke="#000" stroke-width="1.1"/>
<polyline points="71.4,590.6 75.6,593.6" fill="none" stroke="#000" stroke-width="2"/>
<polyline points="71.9,594 76.1,591.5" fill="none" stroke="#000" stroke-width="1.4"/>
<polygon points="77.3,603.8 80.3,600.8 83.2,603.8 80.3,606.8" fill="#fff" stroke="#000" stroke-width="1.1"/>
<polyline points="71.4,602.2 75.6,605.1" fill="none" stroke="#000" stroke-width="2"/>
<polyline points="71.9,605.5 76.1,603" fill="none" stroke="#000" stroke-width="1.4"/>
<polyline points="67.3,471.4 71.4,471.4" fill="none" stroke="#000" stroke-width="2"/>
<path d="M 69.8 463.4 Q 71.3 463.9 71.3 465.1 L 71.3 467.9 Q 71.3 469.2 69.8 469.7 Q 68.2 469.2 68.2 467.9 L 68.2 465.1 Q 68.2 463.9 69.8 463.4 Z" fill="#fff" stroke="#000" stroke-width="1.1"/>
<rect x="69.4" y="599.7" width="6.3" height="5.9" rx="0" fill="#fff" stroke="#000" stroke-width="1.2"/>
<rect x="67.3" y="575.5" width="7.3" height="5.2" rx="0" fill="#fff" stroke="#000" stroke-width="1.2"/>
<path d="M 85.1 472.8 Q 85.8 470.7 87.4 470.7 L 92.6 470.7 Q 94.2 470.7 94.9 472.8 Q 94.2 474.9 92.6 474.9 L 87.4 474.9 Q 85.8 474.9 85.1 472.8 Z" fill="#fff" stroke="#000" stroke-width="1.1"/>
<circle cx="97" cy="472.8" r="2.1" fill="#111" stroke="#000" stroke-width="1.1"/>
<path d="M 85.1 479.1 Q 85.8 477 87.4 477 L 92.6 477 Q 94.2 477 94.9 479.1 Q 94.2 481.2 92.6 481.2 L 87.4 481.2 Q 85.8 481.2 85.1 479.1 Z" fill="#fff" stroke="#000" stroke-width="1.1"/>
<circle cx="97" cy="479.1" r="2.1" fill="#111" stroke="#000" stroke-width="1.1"/>
<path d="M 85.1 485.4 Q 85.8 483.3 87.4 483.3 L 92.6 483.3 Q 94.2 483.3 94.9 485.4 Q 94.2 487.5 92.6 487.5 L 87.4 487.5 Q 85.8 487.5 85.1 485.4 Z" fill="#fff" stroke="#000" stroke-width="1.1"/>
<circle cx="97" cy="485.4" r="2.1" fill="#111" stroke="#000" stroke-width="1.1"/>
<path d="M 85.1 491.7 Q 85.8 489.6 87.4 489.6 L 92.6 489.6 Q 94.2 489.6 94.9 491.7 Q 94.2 493.8 92.6 493.8 L 87.4 493.8 Q 85.8 493.8 85.1 491.7 Z" fill="#fff" stroke="#000" stroke-width="1.1"/>
<circle cx="97" cy="491.7" r="2.1" fill="#111" stroke="#000" stroke-width="1.1"/>
<path d="M 85.1 585.4 Q 85.8 583.3 87.4 583.3 L 92.6 583.3 Q 94.2 583.3 94.9 585.4 Q 94.2 587.5 92.6 587.5 L 87.4 587.5 Q 85.8 587.5 85.1 585.4 Z" fill="#fff" stroke="#000" stroke-width="1.1"/>
<circle cx="97" cy="585.4" r="2.1" fill="#111" stroke="#000" stroke-width="1.1"/>
<path d="M 85.1 591.7 Q 85.8 589.6 87.4 589.6 L 92.6 589.6 Q 94.2 589.6 94.9 591.7 Q 94.2 593.8 92.6 593.8 L 87.4 593.8 Q 85.8 593.8 85.1 591.7 Z" fill="#fff" stroke="#000" stroke-width="1.1"/>
<circle cx="97" cy="591.7" r="2.1" fill="#111" stroke="#000" stroke-width="1.1"/>
<path d="M 85.1 598 Q 85.8 595.9 87.4 595.9 L 92.6 595.9 Q 94.2 595.9 94.9 598 Q 94.2 600.1 92.6 600.1 L 87.4 600.1 Q 85.8 600.1 85.1 598 Z" fill="#fff" stroke="#000" stroke-width="1.1"/>
<circle cx="97" cy="598" r="2.1" fill="#111" stroke="#000" stroke-width="1.1"/>
<path d="M 85.1 604.3 Q 85.8 602.2 87.4 602.2 L 92.6 602.2 Q 94.2 602.2 94.9 604.3 Q 94.2 606.4 92.6 606.4 L 87.4 606.4 Q 85.8 606.4 85.1 604.3 Z" fill="#fff" stroke="#000" stroke-width="1.1"/>
<circle cx="97" cy="604.3" r="2.1" fill="#111" stroke="#000" stroke-width="1.1"/>
<rect x="106.7" y="472.8" width="6.7" height="7.1" rx="0" fill="#111" stroke="#000" stroke-width="1.1"/>
<rect x="108.3" y="474.7" width="2.9" height="3.1" fill="#fff"/>
<polygon points="115.3,476.2 118,473.4 120.7,476.2 118,478.9" fill="#fff" stroke="#000" stroke-width="1.1"/>
<rect x="106.7" y="486.4" width="6.7" height="7.1" rx="0" fill="#111" stroke="#000" stroke-width="1.1"/>
<rect x="108.3" y="488.3" width="2.9" height="3.1" fill="#fff"/>
<polygon points="115.3,489.8 118,487.1 120.7,489.8 118,492.5" fill="#fff" stroke="#000" stroke-width="1.1"/>
<rect x="106.7" y="583.3" width="6.7" height="7.1" rx="0" fill="#111" stroke="#000" stroke-width="1.1"/>
<rect x="108.3" y="585.2" width="2.9" height="3.1" fill="#fff"/>
<polygon points="115.3,586.7 118,583.9 120.7,586.7 118,589.4" fill="#fff" stroke="#000" stroke-width="1.1"/>
<rect x="106.7" y="597.1" width="6.7" height="7.1" rx="0" fill="#111" stroke="#000" stroke-width="1.1"/>
<rect x="108.3" y="599" width="2.9" height="3.1" fill="#fff"/>
<polygon points="115.3,600.5 118,597.8 120.7,600.5 118,603.2" fill="#fff" stroke="#000" stroke-width="1.1"/>
<circle cx="59.9" cy="539.3" r="2.7" fill="#111" stroke="#000" stroke-width="1.1"/>
<path d="M 47.3 539.3 Q 48.1 536.9 49.9 536.9 L 53.8 536.9 Q 55.6 536.9 56.4 539.3 Q 55.6 541.6 53.8 541.6 L 49.9 541.6 Q 48.1 541.6 47.3 539.3 Z" fill="#fff" stroke="#000" stroke-width="1.1"/>
<path d="M 83 538.4 Q 83.7 536.3 85.3 536.3 L 105.2 536.3 Q 106.8 536.3 107.5 538.4 Q 106.8 540.5 105.2 540.5 L 85.3 540.5 Q 83.7 540.5 83 538.4 Z" fill="#fff" stroke="#000" stroke-width="1.1"/>
<ellipse cx="128.3" cy="538.2" rx="15.1" ry="2.3" fill="#fff" stroke="#000" stroke-width="1.1" transform="rotate(-2 128.3 538.2)"/>
<ellipse cx="101.8" cy="524" rx="16.6" ry="2.6" fill="#fff" stroke="#000" stroke-width="1.1" transform="rotate(60.3 101.8 524)"/>
<ellipse cx="101.8" cy="552.9" rx="16.6" ry="2.6" fill="#fff" stroke="#000" stroke-width="1.1" transform="rotate(-60.3 101.8 552.9)"/>
<polyline points="113.4,538.4 142.7,537.6" fill="none" stroke="#000" stroke-width="0.6"/>
<polyline points="109.2,537.2 94.9,512" fill="none" stroke="#000" stroke-width="0.6"/>
<polyline points="109.2,539.7 94.9,564.9" fill="none" stroke="#000" stroke-width="0.6"/>
<circle cx="110" cy="538.4" r="2.5" fill="#222" stroke="#000" stroke-width="1"/>
<circle cx="110" cy="538.4" r="1" fill="#fff" stroke="#000" stroke-width="0.5"/>
<ellipse cx="91.4" cy="524.6" rx="6.3" ry="2.3" fill="#fff" stroke="#000" stroke-width="1.1" transform="rotate(-25 91.4 524.6)"/>
<ellipse cx="107.5" cy="560.9" rx="5.9" ry="2.3" fill="#fff" stroke="#000" stroke-width="1.1" transform="rotate(32 107.5 560.9)"/>
<path d="M 130.6 517.9 Q 133.2 518.8 133.2 520.8 L 133.2 530.1 Q 133.2 532.1 130.6 533 Q 127.9 532.1 127.9 530.1 L 127.9 520.8 Q 127.9 518.8 130.6 517.9 Z" fill="#fff" stroke="#000" stroke-width="1.1"/>
<rect x="116.1" y="548.9" width="31.2" height="6.5" rx="0" fill="#333" stroke="#000" stroke-width="0.5"/>
<text x="118" y="554.2" font-size="6.2" text-anchor="start" fill="#fff" font-weight="bold" font-style="italic" font-family="'Liberation Serif',serif" textLength="26">Clear Prop</text>
<polygon points="121.1,504.3 123.9,501.5 126.6,504.3 123.9,507" fill="#fff" stroke="#000" stroke-width="1.1"/>
<polyline points="129.1,500.1 129.1,509.9" fill="none" stroke="#000" stroke-width="2.2"/>
<polyline points="126.4,503.6 131.8,503.6" fill="none" stroke="#000" stroke-width="1.6"/>
<polygon points="121.1,569.9 123.9,567.2 126.6,569.9 123.9,572.6" fill="#fff" stroke="#000" stroke-width="1.1"/>
<polyline points="129.7,564 129.7,578.7" fill="none" stroke="#000" stroke-width="2.4"/>
<polyline points="127,569.3 132.7,569.3" fill="none" stroke="#000" stroke-width="1.6"/>
<path d="M 148.8 473.6 A 13.3 11 0 0 0 148.8 495.6 L 148.8 493 A 10.7 8.4 0 0 1 148.8 476.2 Z" fill="#fff" stroke="#000" stroke-width="0.9"/>
<path d="M148.8 474.9 A12 9.7 0 0 0 148.8 494.3" fill="none" stroke="#111" stroke-width="1.1" stroke-dasharray="1.6 1.4"/>
<polygon points="147.1,474.9 148.8,473.2 150.5,474.9 148.8,476.6" fill="#fff" stroke="#000" stroke-width="1.1"/>
<polygon points="147.1,494.3 148.8,492.6 150.5,494.3 148.8,496" fill="#fff" stroke="#000" stroke-width="1.1"/>
<g transform="rotate(22.2 128.6 479.1)">
<path d="M 121.6 479.1 Q 122.2 477.3 123.6 477.3 L 126.2 477.3 Q 127.6 477.3 128.2 479.1 Q 127.6 480.9 126.2 480.9 L 123.6 480.9 Q 122.2 480.9 121.6 479.1 Z" fill="#fff" stroke="#000" stroke-width="1.1"/>
<path d="M 129 479.1 Q 129.5 477.7 130.6 477.7 L 134 477.7 Q 135.1 477.7 135.6 479.1 Q 135.1 480.5 134 480.5 L 130.6 480.5 Q 129.5 480.5 129 479.1 Z" fill="#fff" stroke="#000" stroke-width="1.1"/>
</g>
<path d="M 148.8 581.1 A 13.3 11 0 0 0 148.8 603.1 L 148.8 600.5 A 10.7 8.4 0 0 1 148.8 583.7 Z" fill="#fff" stroke="#000" stroke-width="0.9"/>
<path d="M148.8 582.4 A12 9.7 0 0 0 148.8 601.8" fill="none" stroke="#111" stroke-width="1.1" stroke-dasharray="1.6 1.4"/>
<polygon points="147.1,582.4 148.8,580.7 150.5,582.4 148.8,584.1" fill="#fff" stroke="#000" stroke-width="1.1"/>
<polygon points="147.1,601.8 148.8,600.1 150.5,601.8 148.8,603.5" fill="#fff" stroke="#000" stroke-width="1.1"/>
<g transform="rotate(-10.6 128.4 594.8)">
<path d="M 121.4 594.8 Q 122 593 123.4 593 L 126 593 Q 127.4 593 128 594.8 Q 127.4 596.6 126 596.6 L 123.4 596.6 Q 122 596.6 121.4 594.8 Z" fill="#fff" stroke="#000" stroke-width="1.1"/>
<path d="M 128.8 594.8 Q 129.3 593.4 130.4 593.4 L 133.8 593.4 Q 134.9 593.4 135.4 594.8 Q 134.9 596.2 133.8 596.2 L 130.4 596.2 Q 129.3 596.2 128.8 594.8 Z" fill="#fff" stroke="#000" stroke-width="1.1"/>
</g>
<rect x="139.4" y="505.3" width="9" height="10.5" rx="0" fill="#111" stroke="#000" stroke-width="1.1"/>
<rect x="141.7" y="507.4" width="5" height="6.3" rx="1.7" fill="#111" stroke="#fff" stroke-width="1"/>
<polyline points="159.4,474.9 159.4,500.1" fill="none" stroke="#000" stroke-width="1.8"/>
<polygon points="151.4,479.1 154.1,476.4 156.8,479.1 154.1,481.8" fill="#fff" stroke="#000" stroke-width="1.1"/>
<polygon points="151.4,486.4 154.1,483.7 156.8,486.4 154.1,489.2" fill="#fff" stroke="#000" stroke-width="1.1"/>
<polygon points="150.8,505.3 153.5,502.6 156.2,505.3 153.5,508" fill="#fff" stroke="#000" stroke-width="1.1"/>
<circle cx="169.8" cy="473" r="3.8" fill="#f4831f" stroke="#000" stroke-width="1.6"/>
<circle cx="169.8" cy="473" r="0.7" fill="#000"/>
<path d="M 168.2 488.1 C 170.9 483.9 177.2 483.9 180.3 485.4 L 180.3 491.1 C 177.2 492.3 170.9 492.3 168.2 488.1 Z" fill="#fff" stroke="#000" stroke-width="1.1"/>
<rect x="173" y="486" width="5.7" height="4.2" rx="0" fill="#fff" stroke="#000" stroke-width="0.9"/>
<polygon points="180.1,488.1 182.8,485.4 185.6,488.1 182.8,490.8" fill="#fff" stroke="#000" stroke-width="1.1"/>
<rect x="170.9" y="499" width="6.3" height="7.3" rx="0" fill="#fff" stroke="#000" stroke-width="1.4"/>
<path d="M 177.8 503.2 Q 178.5 501.1 180.1 501.1 L 183.9 501.1 Q 185.5 501.1 186.2 503.2 Q 185.5 505.3 183.9 505.3 L 180.1 505.3 Q 178.5 505.3 177.8 503.2 Z" fill="#fff" stroke="#000" stroke-width="1.1"/>
<polyline points="167.7,502.8 170.9,502.8" fill="none" stroke="#000" stroke-width="1.2"/>
<polyline points="159.4,501.5 161.9,505.3 159.4,506.6" fill="none" stroke="#000" stroke-width="2.2"/>
<rect x="158.9" y="503.6" width="4.2" height="2.1" fill="#111"/>
<polyline points="193.9,498 193.3,511.6 205.5,511.6" fill="none" stroke="#000" stroke-width="2"/>
<polyline points="195.4,500.1 196.7,509.1" fill="none" stroke="#000" stroke-width="1.2"/>
<polygon points="187,510.6 189.7,507.8 192.5,510.6 189.7,513.3" fill="#fff" stroke="#000" stroke-width="1.1"/>
<rect x="192.9" y="470.9" width="15.7" height="2.9" rx="0" fill="#111" stroke="#000" stroke-width="0.4"/>
<rect x="195" y="471.8" width="1" height="1.3" fill="#fff"/>
<rect x="197.5" y="471.8" width="1" height="1.3" fill="#fff"/>
<rect x="200" y="471.8" width="1" height="1.3" fill="#fff"/>
<rect x="202.5" y="471.8" width="1" height="1.3" fill="#fff"/>
<rect x="205.1" y="471.8" width="1" height="1.3" fill="#fff"/>
<path d="M 203 477.6 C 193.9 482.3 193.9 491.7 202.3 495.9" fill="none" stroke="#000" stroke-width="2.6"/>
<polygon points="188.1,480.2 190.8,477.4 193.5,480.2 190.8,482.9" fill="#fff" stroke="#000" stroke-width="1.1"/>
<polygon points="187,492.7 189.7,490 192.5,492.7 189.7,495.5" fill="#fff" stroke="#000" stroke-width="1.1"/>
<circle cx="230.7" cy="493.2" r="21.8" fill="none" stroke="#000" stroke-width="1.1"/>
<circle cx="230.7" cy="493.2" r="17.4" fill="none" stroke="#000" stroke-width="1.1"/>
<polyline points="231.1,489 231.8,481" fill="none" stroke="#000" stroke-width="3.6"/>
<polyline points="231.5,484.8 231.7,481.9" fill="none" stroke="#000" stroke-width="4.6"/>
<ellipse cx="237.2" cy="479.3" rx="1.9" ry="1.5" fill="#fff" stroke="#000" stroke-width="1.1" transform="rotate(-65 237.2 479.3)"/>
<polyline points="233.7,490.2 239.3,484.6" fill="none" stroke="#000" stroke-width="3.6"/>
<polyline points="236.7,487.2 238.7,485.2" fill="none" stroke="#000" stroke-width="4.6"/>
<ellipse cx="244.6" cy="486.7" rx="1.9" ry="1.5" fill="#fff" stroke="#000" stroke-width="1.1" transform="rotate(-25 244.6 486.7)"/>
<polyline points="234.9,492.8 242.8,492.1" fill="none" stroke="#000" stroke-width="3.6"/>
<polyline points="239.1,492.4 242,492.2" fill="none" stroke="#000" stroke-width="4.6"/>
<ellipse cx="245.5" cy="497.1" rx="1.9" ry="1.5" fill="#fff" stroke="#000" stroke-width="1.1" transform="rotate(15 245.5 497.1)"/>
<polyline points="234.2,495.6 240.7,500.1" fill="none" stroke="#000" stroke-width="3.6"/>
<polyline points="237.6,498 240,499.6" fill="none" stroke="#000" stroke-width="4.6"/>
<ellipse cx="239.5" cy="505.7" rx="1.9" ry="1.5" fill="#fff" stroke="#000" stroke-width="1.1" transform="rotate(55 239.5 505.7)"/>
<polyline points="231.8,497.2 233.9,504.9" fill="none" stroke="#000" stroke-width="3.6"/>
<polyline points="232.9,501.3 233.7,504.1" fill="none" stroke="#000" stroke-width="4.6"/>
<ellipse cx="229.4" cy="508.4" rx="1.9" ry="1.5" fill="#fff" stroke="#000" stroke-width="1.1" transform="rotate(95 229.4 508.4)"/>
<polyline points="229,497 225.6,504.2" fill="none" stroke="#000" stroke-width="3.6"/>
<polyline points="227.2,500.8 225.9,503.4" fill="none" stroke="#000" stroke-width="4.6"/>
<ellipse cx="219.9" cy="504" rx="1.9" ry="1.5" fill="#fff" stroke="#000" stroke-width="1.1" transform="rotate(135 219.9 504)"/>
<polyline points="226.9,494.9 219.7,498.3" fill="none" stroke="#000" stroke-width="3.6"/>
<polyline points="223.1,496.7 220.5,497.9" fill="none" stroke="#000" stroke-width="4.6"/>
<ellipse cx="215.5" cy="494.5" rx="1.9" ry="1.5" fill="#fff" stroke="#000" stroke-width="1.1" transform="rotate(175 215.5 494.5)"/>
<polyline points="226.7,492.1 219,490" fill="none" stroke="#000" stroke-width="3.6"/>
<polyline points="222.6,491 219.8,490.2" fill="none" stroke="#000" stroke-width="4.6"/>
<ellipse cx="218.2" cy="484.4" rx="1.9" ry="1.5" fill="#fff" stroke="#000" stroke-width="1.1" transform="rotate(215 218.2 484.4)"/>
<polyline points="228.3,489.7 223.7,483.2" fill="none" stroke="#000" stroke-width="3.6"/>
<polyline points="225.9,486.3 224.2,483.9" fill="none" stroke="#000" stroke-width="4.6"/>
<ellipse cx="226.8" cy="478.4" rx="1.9" ry="1.5" fill="#fff" stroke="#000" stroke-width="1.1" transform="rotate(255 226.8 478.4)"/>
<circle cx="230.7" cy="493.2" r="4.2" fill="#fff" stroke="#000" stroke-width="1.3"/>
<circle cx="230.7" cy="493.2" r="2.5" fill="#fff" stroke="#000" stroke-width="1.6"/>
<circle cx="230.7" cy="493.2" r="1.3" fill="#fff" stroke="#000" stroke-width="0.6"/>
<circle cx="230.7" cy="583.3" r="21.8" fill="none" stroke="#000" stroke-width="1.1"/>
<circle cx="230.7" cy="583.3" r="17.4" fill="none" stroke="#000" stroke-width="1.1"/>
<polyline points="231.1,579.1 231.8,571.2" fill="none" stroke="#000" stroke-width="3.6"/>
<polyline points="231.5,574.9 231.7,572" fill="none" stroke="#000" stroke-width="4.6"/>
<ellipse cx="237.2" cy="569.4" rx="1.9" ry="1.5" fill="#fff" stroke="#000" stroke-width="1.1" transform="rotate(-65 237.2 569.4)"/>
<polyline points="233.7,580.3 239.3,574.7" fill="none" stroke="#000" stroke-width="3.6"/>
<polyline points="236.7,577.4 238.7,575.3" fill="none" stroke="#000" stroke-width="4.6"/>
<ellipse cx="244.6" cy="576.8" rx="1.9" ry="1.5" fill="#fff" stroke="#000" stroke-width="1.1" transform="rotate(-25 244.6 576.8)"/>
<polyline points="234.9,582.9 242.8,582.2" fill="none" stroke="#000" stroke-width="3.6"/>
<polyline points="239.1,582.6 242,582.3" fill="none" stroke="#000" stroke-width="4.6"/>
<ellipse cx="245.5" cy="587.3" rx="1.9" ry="1.5" fill="#fff" stroke="#000" stroke-width="1.1" transform="rotate(15 245.5 587.3)"/>
<polyline points="234.2,585.7 240.7,590.3" fill="none" stroke="#000" stroke-width="3.6"/>
<polyline points="237.6,588.1 240,589.8" fill="none" stroke="#000" stroke-width="4.6"/>
<ellipse cx="239.5" cy="595.8" rx="1.9" ry="1.5" fill="#fff" stroke="#000" stroke-width="1.1" transform="rotate(55 239.5 595.8)"/>
<polyline points="231.8,587.4 233.9,595" fill="none" stroke="#000" stroke-width="3.6"/>
<polyline points="232.9,591.4 233.7,594.2" fill="none" stroke="#000" stroke-width="4.6"/>
<ellipse cx="229.4" cy="598.5" rx="1.9" ry="1.5" fill="#fff" stroke="#000" stroke-width="1.1" transform="rotate(95 229.4 598.5)"/>
<polyline points="229,587.1 225.6,594.3" fill="none" stroke="#000" stroke-width="3.6"/>
<polyline points="227.2,590.9 225.9,593.6" fill="none" stroke="#000" stroke-width="4.6"/>
<ellipse cx="219.9" cy="594.1" rx="1.9" ry="1.5" fill="#fff" stroke="#000" stroke-width="1.1" transform="rotate(135 219.9 594.1)"/>
<polyline points="226.9,585.1 219.7,588.4" fill="none" stroke="#000" stroke-width="3.6"/>
<polyline points="223.1,586.8 220.5,588.1" fill="none" stroke="#000" stroke-width="4.6"/>
<ellipse cx="215.5" cy="584.6" rx="1.9" ry="1.5" fill="#fff" stroke="#000" stroke-width="1.1" transform="rotate(175 215.5 584.6)"/>
<polyline points="226.7,582.2 219,580.2" fill="none" stroke="#000" stroke-width="3.6"/>
<polyline points="222.6,581.1 219.8,580.4" fill="none" stroke="#000" stroke-width="4.6"/>
<ellipse cx="218.2" cy="574.5" rx="1.9" ry="1.5" fill="#fff" stroke="#000" stroke-width="1.1" transform="rotate(215 218.2 574.5)"/>
<polyline points="228.3,579.9 223.7,573.3" fill="none" stroke="#000" stroke-width="3.6"/>
<polyline points="225.9,576.4 224.2,574" fill="none" stroke="#000" stroke-width="4.6"/>
<ellipse cx="226.8" cy="568.5" rx="1.9" ry="1.5" fill="#fff" stroke="#000" stroke-width="1.1" transform="rotate(255 226.8 568.5)"/>
<circle cx="230.7" cy="583.3" r="4.2" fill="#fff" stroke="#000" stroke-width="1.3"/>
<circle cx="230.7" cy="583.3" r="2.5" fill="#fff" stroke="#000" stroke-width="1.6"/>
<circle cx="230.7" cy="583.3" r="1.3" fill="#fff" stroke="#000" stroke-width="0.6"/>
<circle cx="230.7" cy="583.3" r="3.1" fill="#fff" stroke="#000" stroke-width="0.8"/>
<text x="230.7" y="585" font-size="4.6" text-anchor="middle" fill="#000" font-weight="bold">1</text>
<circle cx="231.4" cy="538.9" r="10.9" fill="#fff" stroke="#000" stroke-width="1.1"/>
<circle cx="231.4" cy="538.9" r="6.3" fill="#fff" stroke="#000" stroke-width="1.1"/>
<circle cx="231.4" cy="538.9" r="1.5" fill="#fff" stroke="#000" stroke-width="0.9"/>
<circle cx="231.4" cy="538.9" r="0.5" fill="#000"/>
<path d="M 231.4 520.4 Q 234 521.2 234 523.1 L 234 525.7 Q 234 527.6 231.4 528.4 Q 228.7 527.6 228.7 525.7 L 228.7 523.1 Q 228.7 521.2 231.4 520.4 Z" fill="#fff" stroke="#000" stroke-width="1.1"/>
<path d="M 231.4 549.3 Q 234 550 234 551.6 L 234 553.8 Q 234 555.4 231.4 556 Q 228.7 555.4 228.7 553.8 L 228.7 551.6 Q 228.7 550 231.4 549.3 Z" fill="#fff" stroke="#000" stroke-width="1.1"/>
<path d="M 241.8 538.9 Q 242.7 536.2 244.7 536.2 L 248.2 536.2 Q 250.2 536.2 251.1 538.9 Q 250.2 541.5 248.2 541.5 L 244.7 541.5 Q 242.7 541.5 241.8 538.9 Z" fill="#fff" stroke="#000" stroke-width="1.1"/>
<path d="M 212.8 538.9 Q 213.7 536.2 215.7 536.2 L 219.4 536.2 Q 221.4 536.2 222.2 538.9 Q 221.4 541.5 219.4 541.5 L 215.7 541.5 Q 213.7 541.5 212.8 538.9 Z" fill="#fff" stroke="#000" stroke-width="1.1"/>
<polygon points="158.3,532.1 166.1,532.1 166.1,534.2 167.7,534.2 167.7,542.6 166.1,542.6 166.1,545.1 158.3,545.1 156.8,542 156.8,535.7" fill="#fff" stroke="#000" stroke-width="1.2"/>
<polyline points="157.7,535.1 166.9,535.1" fill="none" stroke="#000" stroke-width="1.2"/>
<polyline points="157.7,538 166.9,538" fill="none" stroke="#000" stroke-width="1.2"/>
<polyline points="157.7,541 166.9,541" fill="none" stroke="#000" stroke-width="1.2"/>
<polygon points="151.7,535.7 154.1,533.3 156.6,535.7 154.1,538.2" fill="#fff" stroke="#000" stroke-width="1.1"/>
<polygon points="151.7,541.4 154.1,538.9 156.6,541.4 154.1,543.8" fill="#fff" stroke="#000" stroke-width="1.1"/>
<rect x="169.8" y="532.1" width="9.4" height="11.9" rx="0" fill="#fff" stroke="#000" stroke-width="1.6"/>
<polyline points="173,532.1 173,544.1" fill="none" stroke="#000" stroke-width="1.4"/>
<polyline points="176.1,532.1 176.1,544.1" fill="none" stroke="#000" stroke-width="1.4"/>
<path d="M 174.4 521.7 Q 176.8 522.4 176.8 524.3 L 176.8 528.9 Q 176.8 530.7 174.4 531.5 Q 172.1 530.7 172.1 528.9 L 172.1 524.3 Q 172.1 522.4 174.4 521.7 Z" fill="#fff" stroke="#000" stroke-width="1.1"/>
<path d="M 174.4 544.7 Q 176.8 545.5 176.8 547.3 L 176.8 553 Q 176.8 554.9 174.4 555.6 Q 172.1 554.9 172.1 553 L 172.1 547.3 Q 172.1 545.5 174.4 544.7 Z" fill="#fff" stroke="#000" stroke-width="1.1"/>
<path d="M 186.2 533 L 196 533 C 196 530.5 197.5 528.8 199.2 528.4 C 197.5 533.6 197.5 537.8 199.2 542.6 L 186.2 542.6 Z" fill="#fff" stroke="#000" stroke-width="1.3"/>
<path d="M 187.7 521.7 Q 190 522.4 190 524.3 L 190 530 Q 190 531.8 187.7 532.6 Q 185.3 531.8 185.3 530 L 185.3 524.3 Q 185.3 522.4 187.7 521.7 Z" fill="#fff" stroke="#000" stroke-width="1.1"/>
<path d="M 192.5 543.1 Q 194.8 543.8 194.8 545.6 L 194.8 550.9 Q 194.8 552.8 192.5 553.5 Q 190.1 552.8 190.1 550.9 L 190.1 545.6 Q 190.1 543.8 192.5 543.1 Z" fill="#fff" stroke="#000" stroke-width="1.1"/>
<polyline points="161.9,568.2 161.9,579.1" fill="none" stroke="#000" stroke-width="2"/>
<circle cx="161.9" cy="580.4" r="1.5" fill="#fff" stroke="#000" stroke-width="1.4"/>
<polyline points="159.4,568.2 164.6,568.2" fill="none" stroke="#000" stroke-width="1.6"/>
<path d="M 151 568.2 Q 151.7 566.1 153.3 566.1 L 156.6 566.1 Q 158.2 566.1 158.9 568.2 Q 158.2 570.3 156.6 570.3 L 153.3 570.3 Q 151.7 570.3 151 568.2 Z" fill="#fff" stroke="#000" stroke-width="1.1"/>
<rect x="170.9" y="580.8" width="8.4" height="8.8" rx="0" fill="#111" stroke="#000" stroke-width="1.1"/>
<rect x="172.8" y="582" width="1" height="6.3" fill="#fff"/>
<rect x="175.3" y="582" width="1" height="6.3" fill="#fff"/>
<path d="M 179.9 585.4 Q 180.5 583.6 181.9 583.6 L 184.6 583.6 Q 186 583.6 186.6 585.4 Q 186 587.2 184.6 587.2 L 181.9 587.2 Q 180.5 587.2 179.9 585.4 Z" fill="#fff" stroke="#000" stroke-width="1.1"/>
<polygon points="158.2,586 161.4,582.8 164.7,586 161.4,589.3" fill="#fff" stroke="#000" stroke-width="1.1"/>
<polygon points="160.3,591.3 163.5,588 166.8,591.3 163.5,594.5" fill="#fff" stroke="#000" stroke-width="1.1"/>
<polygon points="154.1,589.2 156.8,586.4 159.6,589.2 156.8,591.9" fill="#fff" stroke="#000" stroke-width="1.1"/>
<rect x="159.4" y="597.6" width="8.4" height="9.4" rx="0.8" fill="#fff" stroke="#000" stroke-width="1.2"/>
<path d="M 163.1 607.6 Q 164.7 608.1 164.7 609.4 L 164.7 611.6 Q 164.7 612.8 163.1 613.3 Q 161.6 612.8 161.6 611.6 L 161.6 609.4 Q 161.6 608.1 163.1 607.6 Z" fill="#fff" stroke="#000" stroke-width="1.1"/>
<rect x="193.9" y="569.9" width="8.8" height="9.2" rx="0" fill="#fff" stroke="#000" stroke-width="2"/>
<rect x="196.2" y="572" width="4.6" height="5" rx="0" fill="#fff" stroke="#000" stroke-width="0.8"/>
<circle cx="199.2" cy="574.5" r="0.6" fill="#000"/>
<path d="M 187.7 576.2 Q 188.3 574.3 189.7 574.3 L 191.9 574.3 Q 193.3 574.3 193.9 576.2 Q 193.3 578 191.9 578 L 189.7 578 Q 188.3 578 187.7 576.2 Z" fill="#fff" stroke="#000" stroke-width="1.1"/>
<path d="M 203.4 576.2 Q 204.1 574.1 205.7 574.1 L 209.9 574.1 Q 211.5 574.1 212.2 576.2 Q 211.5 578.3 209.9 578.3 L 205.7 578.3 Q 204.1 578.3 203.4 576.2 Z" fill="#fff" stroke="#000" stroke-width="1.1"/>
<rect x="196" y="595" width="8.4" height="7.8" rx="0" fill="#fff" stroke="#000" stroke-width="1.2"/>
<path d="M 184.9 599.2 Q 185.6 597.1 187.2 597.1 L 190.2 597.1 Q 191.8 597.1 192.5 599.2 Q 191.8 601.3 190.2 601.3 L 187.2 601.3 Q 185.6 601.3 184.9 599.2 Z" fill="#fff" stroke="#000" stroke-width="1.1"/>
<circle cx="178.6" cy="599.7" r="2.5" fill="#111" stroke="#000" stroke-width="1.1"/>
<circle cx="178.6" cy="599.7" r="1" fill="#111" stroke="#fff" stroke-width="0.8"/>
<path d="M 265.3 473.4 L 265.3 483.5 L 260.1 483.5 C 256.9 480.6 256.9 476.4 260.1 473.4 Z" fill="#fff" stroke="#000" stroke-width="1.1"/>
<path d="M 265.3 498.6 L 265.3 508.7 L 260.1 508.7 C 256.9 505.7 256.9 501.5 260.1 498.6 Z" fill="#fff" stroke="#000" stroke-width="1.1"/>
<polygon points="251.1,478.5 253.8,475.8 256.5,478.5 253.8,481.2" fill="#fff" stroke="#000" stroke-width="1.1"/>
<polygon points="251.1,503.6 253.8,500.9 256.5,503.6 253.8,506.4" fill="#fff" stroke="#000" stroke-width="1.1"/>
<rect x="276.8" y="474.9" width="6.3" height="6.3" rx="0" fill="#111" stroke="#000" stroke-width="1.1"/>
<path d="M 280 463.4 Q 282.1 464.1 282.1 465.7 L 282.1 472 Q 282.1 473.6 280 474.3 Q 277.9 473.6 277.9 472 L 277.9 465.7 Q 277.9 464.1 280 463.4 Z" fill="#fff" stroke="#000" stroke-width="1.1"/>
<polyline points="288.4,472.8 288.8,478.1" fill="none" stroke="#000" stroke-width="2.2"/>
<polyline points="285.2,494.8 288,490.2 290.9,486.4" fill="none" stroke="#000" stroke-width="2"/>
<polyline points="288,490.2 290.9,493.2" fill="none" stroke="#000" stroke-width="1.8"/>
<polyline points="288.4,502.2 288.8,507.4" fill="none" stroke="#000" stroke-width="2.2"/>
<rect x="277.9" y="504.1" width="4.6" height="2.1" rx="0" fill="#111" stroke="#000" stroke-width="0.3"/>
<path d="M 290.9 476 Q 291.6 473.9 293.2 473.9 L 297.6 473.9 Q 299.2 473.9 299.9 476 Q 299.2 478.1 297.6 478.1 L 293.2 478.1 Q 291.6 478.1 290.9 476 Z" fill="#fff" stroke="#000" stroke-width="1.1"/>
<path d="M 290.9 493.8 Q 291.6 491.7 293.2 491.7 L 297.6 491.7 Q 299.2 491.7 299.9 493.8 Q 299.2 495.9 297.6 495.9 L 293.2 495.9 Q 291.6 495.9 290.9 493.8 Z" fill="#fff" stroke="#000" stroke-width="1.1"/>
<path d="M 290.9 506.4 Q 291.6 504.3 293.2 504.3 L 297.6 504.3 Q 299.2 504.3 299.9 506.4 Q 299.2 508.5 297.6 508.5 L 293.2 508.5 Q 291.6 508.5 290.9 506.4 Z" fill="#fff" stroke="#000" stroke-width="1.1"/>
<polyline points="258.6,528.8 266.4,528.8" fill="none" stroke="#000" stroke-width="2.4"/>
<polyline points="260.3,526.7 260.3,530.9" fill="none" stroke="#000" stroke-width="2"/>
<circle cx="263.6" cy="528.8" r="1" fill="#f4831f" stroke="#000" stroke-width="1.4"/>
<polyline points="258.6,546.8 266.4,546.8" fill="none" stroke="#000" stroke-width="2.4"/>
<polyline points="260.3,544.7 260.3,548.9" fill="none" stroke="#000" stroke-width="2"/>
<circle cx="263.6" cy="546.8" r="1" fill="#f4831f" stroke="#000" stroke-width="1.4"/>
<path d="M 262.8 520.4 Q 264.6 521 264.6 522.4 L 264.6 524.3 Q 264.6 525.7 262.8 526.3 Q 261 525.7 261 524.3 L 261 522.4 Q 261 521 262.8 520.4 Z" fill="#fff" stroke="#000" stroke-width="1.1"/>
<path d="M 262.8 550.4 Q 264.6 551 264.6 552.4 L 264.6 555.7 Q 264.6 557.1 262.8 557.7 Q 261 557.1 261 555.7 L 261 552.4 Q 261 551 262.8 550.4 Z" fill="#fff" stroke="#000" stroke-width="1.1"/>
<rect x="273.7" y="530.5" width="4.6" height="2.5" rx="0" fill="#fff" stroke="#000" stroke-width="1.6"/>
<rect x="273.7" y="544.1" width="4.6" height="2.5" rx="0" fill="#fff" stroke="#000" stroke-width="1.6"/>
<path d="M 275.8 521.7 Q 277.4 522.2 277.4 523.4 L 277.4 528.3 Q 277.4 529.5 275.8 530.1 Q 274.2 529.5 274.2 528.3 L 274.2 523.4 Q 274.2 522.2 275.8 521.7 Z" fill="#fff" stroke="#000" stroke-width="1.1"/>
<path d="M 275.8 547.2 Q 277.4 547.8 277.4 549 L 277.4 553.5 Q 277.4 554.7 275.8 555.2 Q 274.2 554.7 274.2 553.5 L 274.2 549 Q 274.2 547.8 275.8 547.2 Z" fill="#fff" stroke="#000" stroke-width="1.1"/>
<rect x="287.3" y="533" width="8.4" height="2.5" rx="0" fill="#111" stroke="#000" stroke-width="0.3"/>
<polyline points="288.8,528.4 288.8,533.4" fill="none" stroke="#000" stroke-width="2"/>
<polyline points="291.7,528.4 291.7,533.4" fill="none" stroke="#000" stroke-width="2"/>
<polyline points="294.7,528.4 294.7,533.4" fill="none" stroke="#000" stroke-width="2"/>
<polygon points="296.1,532.1 298.9,529.4 301.6,532.1 298.9,534.9" fill="#fff" stroke="#000" stroke-width="1.1"/>
<rect x="287.3" y="545.6" width="8.4" height="2.5" rx="0" fill="#111" stroke="#000" stroke-width="0.3"/>
<polyline points="288.8,541 288.8,546" fill="none" stroke="#000" stroke-width="2"/>
<polyline points="291.7,541 291.7,546" fill="none" stroke="#000" stroke-width="2"/>
<polyline points="294.7,541 294.7,546" fill="none" stroke="#000" stroke-width="2"/>
<polygon points="296.1,544.7 298.9,542 301.6,544.7 298.9,547.5" fill="#fff" stroke="#000" stroke-width="1.1"/>
<rect x="255.9" y="566.9" width="9.4" height="2.9" rx="0.6" fill="#fff" stroke="#000" stroke-width="1.3"/>
<rect x="254.2" y="567.6" width="2.5" height="1.7" fill="#111"/>
<path d="M 260.5 560.2 Q 262.6 560.9 262.6 562.3 L 262.6 564.4 Q 262.6 565.9 260.5 566.5 Q 258.4 565.9 258.4 564.4 L 258.4 562.3 Q 258.4 560.9 260.5 560.2 Z" fill="#fff" stroke="#000" stroke-width="1.1"/>
<rect x="272.7" y="566.9" width="9.4" height="2.9" rx="0.6" fill="#fff" stroke="#000" stroke-width="1.3"/>
<rect x="271" y="567.6" width="2.5" height="1.7" fill="#111"/>
<path d="M 277.3 560.2 Q 279.4 560.9 279.4 562.3 L 279.4 564.4 Q 279.4 565.9 277.3 566.5 Q 275.2 565.9 275.2 564.4 L 275.2 562.3 Q 275.2 560.9 277.3 560.2 Z" fill="#fff" stroke="#000" stroke-width="1.1"/>
<polyline points="263.6,583.3 269.1,589.2" fill="none" stroke="#000" stroke-width="1.6"/>
<circle cx="267.4" cy="581.8" r="1.7" fill="#fff" stroke="#000" stroke-width="1.2"/>
<polyline points="264.9,586 269.9,584.6" fill="none" stroke="#000" stroke-width="1.4"/>
<rect x="258" y="596.7" width="8.4" height="3.4" rx="0" fill="#111" stroke="#000" stroke-width="0.3"/>
<rect x="260.1" y="595" width="2.7" height="6.7" rx="0" fill="#fff" stroke="#000" stroke-width="1.2"/>
<path d="M 259 601.8 Q 260.9 602.4 260.9 603.8 L 260.9 609.2 Q 260.9 610.6 259 611.2 Q 257.2 610.6 257.2 609.2 L 257.2 603.8 Q 257.2 602.4 259 601.8 Z" fill="#fff" stroke="#000" stroke-width="1.1"/>
<rect x="276.2" y="599" width="21" height="1.7" rx="0" fill="#fff" stroke="#000" stroke-width="0.9"/>
<circle cx="295.7" cy="599.9" r="1.3" fill="#111" stroke="#000" stroke-width="1.1"/>
<circle cx="287.3" cy="571.6" r="1" fill="#000"/>
<polyline points="286.3,571.6 290.9,571.6" fill="none" stroke="#000" stroke-width="1.6"/>
<path d="M 285.2 579.7 L 285.2 583.9 L 289.4 583.9 L 289.4 579.7" fill="none" stroke="#000" stroke-width="2.4"/>
<circle cx="287.3" cy="591.7" r="1" fill="#000"/>
<polyline points="286.3,591.7 290.9,591.7" fill="none" stroke="#000" stroke-width="1.6"/>
<path d="M 290.9 569.3 Q 291.6 567.2 293.2 567.2 L 297.6 567.2 Q 299.2 567.2 299.9 569.3 Q 299.2 571.4 297.6 571.4 L 293.2 571.4 Q 291.6 571.4 290.9 569.3 Z" fill="#fff" stroke="#000" stroke-width="1.1"/>
<path d="M 290.9 580.8 Q 291.6 578.7 293.2 578.7 L 297.6 578.7 Q 299.2 578.7 299.9 580.8 Q 299.2 582.9 297.6 582.9 L 293.2 582.9 Q 291.6 582.9 290.9 580.8 Z" fill="#fff" stroke="#000" stroke-width="1.1"/>
<path d="M 290.9 592.3 Q 291.6 590.2 293.2 590.2 L 297.6 590.2 Q 299.2 590.2 299.9 592.3 Q 299.2 594.4 297.6 594.4 L 293.2 594.4 Q 291.6 594.4 290.9 592.3 Z" fill="#fff" stroke="#000" stroke-width="1.1"/>
<rect x="54.1" y="465.1" width="8.6" height="5.8" rx="1.7" fill="#fff" stroke="#111" stroke-width="0.9"/>
<text x="58.4" y="469.9" font-size="5.4" text-anchor="middle" fill="#444" font-weight="bold">1</text>
<rect x="73.4" y="465.1" width="8.6" height="5.8" rx="1.7" fill="#fff" stroke="#111" stroke-width="0.9"/>
<text x="77.7" y="469.9" font-size="5.4" text-anchor="middle" fill="#444" font-weight="bold">2</text>
<rect x="73.9" y="478.9" width="8.6" height="5.8" rx="1.7" fill="#fff" stroke="#111" stroke-width="0.9"/>
<text x="78.2" y="483.8" font-size="5.4" text-anchor="middle" fill="#444" font-weight="bold">3</text>
<rect x="85.7" y="478.9" width="9.2" height="5.8" rx="1.7" fill="#fff" stroke="#111" stroke-width="0.9"/>
<text x="90.3" y="483.8" font-size="5.4" text-anchor="middle" fill="#444" font-weight="bold">17</text>
<rect x="75.1" y="490.9" width="8.6" height="5.8" rx="1.7" fill="#fff" stroke="#111" stroke-width="0.9"/>
<text x="79.4" y="495.7" font-size="5.4" text-anchor="middle" fill="#444" font-weight="bold">4</text>
<rect x="48.7" y="496.5" width="8.6" height="5.8" rx="1.7" fill="#fff" stroke="#111" stroke-width="0.9"/>
<text x="53" y="501.4" font-size="5.4" text-anchor="middle" fill="#444" font-weight="bold">5</text>
<rect x="48.7" y="502.4" width="8.6" height="5.8" rx="1.7" fill="#fff" stroke="#111" stroke-width="0.9"/>
<text x="53" y="507.3" font-size="5.4" text-anchor="middle" fill="#444" font-weight="bold">6</text>
<rect x="73" y="507" width="8.6" height="5.8" rx="1.7" fill="#fff" stroke="#111" stroke-width="0.9"/>
<text x="77.3" y="511.9" font-size="5.4" text-anchor="middle" fill="#444" font-weight="bold">7</text>
<rect x="73" y="520.9" width="8.6" height="5.8" rx="1.7" fill="#fff" stroke="#111" stroke-width="0.9"/>
<text x="77.3" y="525.7" font-size="5.4" text-anchor="middle" fill="#444" font-weight="bold">8</text>
<rect x="48.4" y="531.3" width="9.2" height="5.8" rx="1.7" fill="#fff" stroke="#111" stroke-width="0.9"/>
<text x="53" y="536.2" font-size="5.4" text-anchor="middle" fill="#444" font-weight="bold">10</text>
<rect x="73" y="538.5" width="8.6" height="5.8" rx="1.7" fill="#fff" stroke="#111" stroke-width="0.9"/>
<text x="77.3" y="543.3" font-size="5.4" text-anchor="middle" fill="#444" font-weight="bold">9</text>
<rect x="72.7" y="553.8" width="9.2" height="5.8" rx="1.7" fill="#fff" stroke="#111" stroke-width="0.9"/>
<text x="77.3" y="558.6" font-size="5.4" text-anchor="middle" fill="#444" font-weight="bold">11</text>
<rect x="72.7" y="567.8" width="9.2" height="5.8" rx="1.7" fill="#fff" stroke="#111" stroke-width="0.9"/>
<text x="77.3" y="572.7" font-size="5.4" text-anchor="middle" fill="#444" font-weight="bold">12</text>
<rect x="48.4" y="568.5" width="9.2" height="5.8" rx="1.7" fill="#fff" stroke="#111" stroke-width="0.9"/>
<text x="53" y="573.3" font-size="5.4" text-anchor="middle" fill="#444" font-weight="bold">13</text>
<rect x="48.4" y="574.7" width="9.2" height="5.8" rx="1.7" fill="#fff" stroke="#111" stroke-width="0.9"/>
<text x="53" y="579.6" font-size="5.4" text-anchor="middle" fill="#444" font-weight="bold">14</text>
<rect x="72.7" y="583.1" width="9.2" height="5.8" rx="1.7" fill="#fff" stroke="#111" stroke-width="0.9"/>
<text x="77.3" y="588" font-size="5.4" text-anchor="middle" fill="#444" font-weight="bold">15</text>
<rect x="84.7" y="592.1" width="9.2" height="5.8" rx="1.7" fill="#fff" stroke="#111" stroke-width="0.9"/>
<text x="89.3" y="597" font-size="5.4" text-anchor="middle" fill="#444" font-weight="bold">21</text>
<rect x="55.3" y="606.2" width="9.2" height="5.8" rx="1.7" fill="#fff" stroke="#111" stroke-width="0.9"/>
<text x="59.9" y="611" font-size="5.4" text-anchor="middle" fill="#444" font-weight="bold">16</text>
<rect x="109.8" y="465.1" width="9.2" height="5.8" rx="1.7" fill="#fff" stroke="#111" stroke-width="0.9"/>
<text x="114.4" y="469.9" font-size="5.4" text-anchor="middle" fill="#444" font-weight="bold">18</text>
<rect x="123" y="465.1" width="9.2" height="5.8" rx="1.7" fill="#fff" stroke="#111" stroke-width="0.9"/>
<text x="127.6" y="469.9" font-size="5.4" text-anchor="middle" fill="#444" font-weight="bold">22</text>
<rect x="123" y="490.9" width="9.2" height="5.8" rx="1.7" fill="#fff" stroke="#111" stroke-width="0.9"/>
<text x="127.6" y="495.7" font-size="5.4" text-anchor="middle" fill="#444" font-weight="bold">23</text>
<rect x="109.2" y="496.1" width="9.2" height="5.8" rx="1.7" fill="#fff" stroke="#111" stroke-width="0.9"/>
<text x="113.8" y="501" font-size="5.4" text-anchor="middle" fill="#444" font-weight="bold">19</text>
<rect x="109.2" y="575.4" width="9.2" height="5.8" rx="1.7" fill="#fff" stroke="#111" stroke-width="0.9"/>
<text x="113.8" y="580.2" font-size="5.4" text-anchor="middle" fill="#444" font-weight="bold">19</text>
<rect x="109.8" y="606.2" width="9.2" height="5.8" rx="1.7" fill="#fff" stroke="#111" stroke-width="0.9"/>
<text x="114.4" y="611" font-size="5.4" text-anchor="middle" fill="#444" font-weight="bold">18</text>
<rect x="122.4" y="606.2" width="9.2" height="5.8" rx="1.7" fill="#fff" stroke="#111" stroke-width="0.9"/>
<text x="127" y="611" font-size="5.4" text-anchor="middle" fill="#444" font-weight="bold">25</text>
<rect x="139" y="520.2" width="9.2" height="5.8" rx="1.7" fill="#fff" stroke="#111" stroke-width="0.9"/>
<text x="143.6" y="525.1" font-size="5.4" text-anchor="middle" fill="#444" font-weight="bold">20</text>
<rect x="152.2" y="465.1" width="9.2" height="5.8" rx="1.7" fill="#fff" stroke="#111" stroke-width="0.9"/>
<text x="156.8" y="469.9" font-size="5.4" text-anchor="middle" fill="#444" font-weight="bold">26</text>
<rect x="175.7" y="465.1" width="9.2" height="5.8" rx="1.7" fill="#fff" stroke="#111" stroke-width="0.9"/>
<text x="180.3" y="469.9" font-size="5.4" text-anchor="middle" fill="#444" font-weight="bold">27</text>
<rect x="175.7" y="474.7" width="9.2" height="5.8" rx="1.7" fill="#fff" stroke="#111" stroke-width="0.9"/>
<text x="180.3" y="479.6" font-size="5.4" text-anchor="middle" fill="#444" font-weight="bold">28</text>
<rect x="152.2" y="509.8" width="9.2" height="5.8" rx="1.7" fill="#fff" stroke="#111" stroke-width="0.9"/>
<text x="156.8" y="514.6" font-size="5.4" text-anchor="middle" fill="#444" font-weight="bold">29</text>
<rect x="175.3" y="509.8" width="9.2" height="5.8" rx="1.7" fill="#fff" stroke="#111" stroke-width="0.9"/>
<text x="179.9" y="514.6" font-size="5.4" text-anchor="middle" fill="#444" font-weight="bold">30</text>
<rect x="152.2" y="520.2" width="9.2" height="5.8" rx="1.7" fill="#fff" stroke="#111" stroke-width="0.9"/>
<text x="156.8" y="525.1" font-size="5.4" text-anchor="middle" fill="#444" font-weight="bold">31</text>
<rect x="173.6" y="520.2" width="9.2" height="5.8" rx="1.7" fill="#fff" stroke="#111" stroke-width="0.9"/>
<text x="178.2" y="525.1" font-size="5.4" text-anchor="middle" fill="#444" font-weight="bold">32</text>
<rect x="194.6" y="550.2" width="9.2" height="5.8" rx="1.7" fill="#fff" stroke="#111" stroke-width="0.9"/>
<text x="199.2" y="555.1" font-size="5.4" text-anchor="middle" fill="#444" font-weight="bold">33</text>
<rect x="140.1" y="560.1" width="9.2" height="5.8" rx="1.7" fill="#fff" stroke="#111" stroke-width="0.9"/>
<text x="144.7" y="564.9" font-size="5.4" text-anchor="middle" fill="#444" font-weight="bold">24</text>
<rect x="167.3" y="560.1" width="9.2" height="5.8" rx="1.7" fill="#fff" stroke="#111" stroke-width="0.9"/>
<text x="171.9" y="564.9" font-size="5.4" text-anchor="middle" fill="#444" font-weight="bold">34</text>
<rect x="175.3" y="569.5" width="9.2" height="5.8" rx="1.7" fill="#fff" stroke="#111" stroke-width="0.9"/>
<text x="179.9" y="574.3" font-size="5.4" text-anchor="middle" fill="#444" font-weight="bold">35</text>
<rect x="151" y="589.4" width="9.2" height="5.8" rx="1.7" fill="#fff" stroke="#111" stroke-width="0.9"/>
<text x="155.6" y="594.3" font-size="5.4" text-anchor="middle" fill="#444" font-weight="bold">36</text>
<rect x="187.2" y="582.1" width="9.2" height="5.8" rx="1.7" fill="#fff" stroke="#111" stroke-width="0.9"/>
<text x="191.8" y="586.9" font-size="5.4" text-anchor="middle" fill="#444" font-weight="bold">41</text>
<rect x="175.3" y="606.2" width="9.2" height="5.8" rx="1.7" fill="#fff" stroke="#111" stroke-width="0.9"/>
<text x="179.9" y="611" font-size="5.4" text-anchor="middle" fill="#444" font-weight="bold">37</text>
<rect x="210.3" y="465.1" width="9.2" height="5.8" rx="1.7" fill="#fff" stroke="#111" stroke-width="0.9"/>
<text x="214.9" y="469.9" font-size="5.4" text-anchor="middle" fill="#444" font-weight="bold">38</text>
<rect x="201.9" y="483.5" width="9.2" height="5.8" rx="1.7" fill="#fff" stroke="#111" stroke-width="0.9"/>
<text x="206.5" y="488.4" font-size="5.4" text-anchor="middle" fill="#444" font-weight="bold">39</text>
<rect x="204.6" y="509.8" width="9.2" height="5.8" rx="1.7" fill="#fff" stroke="#111" stroke-width="0.9"/>
<text x="209.2" y="514.6" font-size="5.4" text-anchor="middle" fill="#444" font-weight="bold">40</text>
<rect x="206.1" y="606.2" width="9.2" height="5.8" rx="1.7" fill="#fff" stroke="#111" stroke-width="0.9"/>
<text x="210.7" y="611" font-size="5.4" text-anchor="middle" fill="#444" font-weight="bold">42</text>
<rect x="245" y="465.1" width="9.2" height="5.8" rx="1.7" fill="#fff" stroke="#111" stroke-width="0.9"/>
<text x="249.6" y="469.9" font-size="5.4" text-anchor="middle" fill="#444" font-weight="bold">45</text>
<rect x="269.1" y="465.1" width="9.2" height="5.8" rx="1.7" fill="#fff" stroke="#111" stroke-width="0.9"/>
<text x="273.7" y="469.9" font-size="5.4" text-anchor="middle" fill="#444" font-weight="bold">46</text>
<rect x="291.1" y="477.3" width="9.2" height="5.8" rx="1.7" fill="#fff" stroke="#111" stroke-width="0.9"/>
<text x="295.7" y="482.1" font-size="5.4" text-anchor="middle" fill="#444" font-weight="bold">47</text>
<rect x="291.1" y="492.4" width="9.2" height="5.8" rx="1.7" fill="#fff" stroke="#111" stroke-width="0.9"/>
<text x="295.7" y="497.2" font-size="5.4" text-anchor="middle" fill="#444" font-weight="bold">48</text>
<rect x="291.1" y="507.7" width="9.2" height="5.8" rx="1.7" fill="#fff" stroke="#111" stroke-width="0.9"/>
<text x="295.7" y="512.5" font-size="5.4" text-anchor="middle" fill="#444" font-weight="bold">51</text>
<rect x="235.6" y="510.4" width="9.2" height="5.8" rx="1.7" fill="#fff" stroke="#111" stroke-width="0.9"/>
<text x="240.2" y="515.2" font-size="5.4" text-anchor="middle" fill="#444" font-weight="bold">43</text>
<rect x="247.1" y="510.4" width="9.2" height="5.8" rx="1.7" fill="#fff" stroke="#111" stroke-width="0.9"/>
<text x="251.7" y="515.2" font-size="5.4" text-anchor="middle" fill="#444" font-weight="bold">49</text>
<rect x="268.1" y="510.4" width="9.2" height="5.8" rx="1.7" fill="#fff" stroke="#111" stroke-width="0.9"/>
<text x="272.7" y="515.2" font-size="5.4" text-anchor="middle" fill="#444" font-weight="bold">50</text>
<rect x="266" y="519.6" width="9.2" height="5.8" rx="1.7" fill="#fff" stroke="#111" stroke-width="0.9"/>
<text x="270.6" y="524.4" font-size="5.4" text-anchor="middle" fill="#444" font-weight="bold">52</text>
<rect x="280.6" y="520.2" width="9.2" height="5.8" rx="1.7" fill="#fff" stroke="#111" stroke-width="0.9"/>
<text x="285.2" y="525.1" font-size="5.4" text-anchor="middle" fill="#444" font-weight="bold">53</text>
<rect x="254.4" y="535.3" width="9.2" height="5.8" rx="1.7" fill="#fff" stroke="#111" stroke-width="0.9"/>
<text x="259" y="540.2" font-size="5.4" text-anchor="middle" fill="#444" font-weight="bold">54</text>
<rect x="266" y="550.2" width="9.2" height="5.8" rx="1.7" fill="#fff" stroke="#111" stroke-width="0.9"/>
<text x="270.6" y="555.1" font-size="5.4" text-anchor="middle" fill="#444" font-weight="bold">55</text>
<rect x="280.6" y="550.2" width="9.2" height="5.8" rx="1.7" fill="#fff" stroke="#111" stroke-width="0.9"/>
<text x="285.2" y="555.1" font-size="5.4" text-anchor="middle" fill="#444" font-weight="bold">56</text>
<rect x="235.1" y="560.1" width="9.2" height="5.8" rx="1.7" fill="#fff" stroke="#111" stroke-width="0.9"/>
<text x="239.7" y="564.9" font-size="5.4" text-anchor="middle" fill="#444" font-weight="bold">44</text>
<rect x="248.1" y="560.1" width="9.2" height="5.8" rx="1.7" fill="#fff" stroke="#111" stroke-width="0.9"/>
<text x="252.7" y="564.9" font-size="5.4" text-anchor="middle" fill="#444" font-weight="bold">57</text>
<rect x="291.1" y="565.3" width="9.2" height="5.8" rx="1.7" fill="#fff" stroke="#111" stroke-width="0.9"/>
<text x="295.7" y="570.2" font-size="5.4" text-anchor="middle" fill="#444" font-weight="bold">58</text>
<rect x="291.1" y="574.7" width="9.2" height="5.8" rx="1.7" fill="#fff" stroke="#111" stroke-width="0.9"/>
<text x="295.7" y="579.6" font-size="5.4" text-anchor="middle" fill="#444" font-weight="bold">59</text>
<rect x="291.1" y="583.8" width="9.2" height="5.8" rx="1.7" fill="#fff" stroke="#111" stroke-width="0.9"/>
<text x="295.7" y="588.6" font-size="5.4" text-anchor="middle" fill="#444" font-weight="bold">60</text>
<rect x="252.7" y="576.2" width="9.2" height="5.8" rx="1.7" fill="#fff" stroke="#111" stroke-width="0.9"/>
<text x="257.3" y="581.1" font-size="5.4" text-anchor="middle" fill="#444" font-weight="bold">61</text>
<rect x="248.1" y="606.2" width="9.2" height="5.8" rx="1.7" fill="#fff" stroke="#111" stroke-width="0.9"/>
<text x="252.7" y="611" font-size="5.4" text-anchor="middle" fill="#444" font-weight="bold">62</text>
<rect x="269.1" y="606.2" width="9.2" height="5.8" rx="1.7" fill="#fff" stroke="#111" stroke-width="0.9"/>
<text x="273.7" y="611" font-size="5.4" text-anchor="middle" fill="#444" font-weight="bold">63</text>
</g>
<g id="sprueD">
<rect x="325" y="528.8" width="16.7" height="18.9" fill="#f4831f"/>
<rect x="319.4" y="460" width="74.9" height="157" rx="6" fill="none" stroke="#000" stroke-width="1.1"/>
<rect x="322.8" y="463.8" width="68.3" height="149.4" rx="3" fill="none" stroke="#000" stroke-width="1.1"/>
<polyline points="322.8,521.5 391.1,521.5" fill="none" stroke="#000" stroke-width="1.1"/>
<polyline points="322.8,525 391.1,525" fill="none" stroke="#000" stroke-width="1.1"/>
<polyline points="322.8,551 391.1,551" fill="none" stroke="#000" stroke-width="1.1"/>
<polyline points="322.8,554.4 391.1,554.4" fill="none" stroke="#000" stroke-width="1.1"/>
<path d="M 342.7 467.8 Q 344.3 468.3 344.3 469.5 L 344.3 475.4 Q 344.3 476.6 342.7 477.1 Q 341.2 476.6 341.2 475.4 L 341.2 469.5 Q 341.2 468.3 342.7 467.8 Z" fill="#fff" stroke="#000" stroke-width="1.1"/>
<path d="M 370.5 467.8 Q 372.1 468.3 372.1 469.5 L 372.1 475.4 Q 372.1 476.6 370.5 477.1 Q 368.9 476.6 368.9 475.4 L 368.9 469.5 Q 368.9 468.3 370.5 467.8 Z" fill="#fff" stroke="#000" stroke-width="1.1"/>
<path d="M 335.6 477.1 Q 342.7 479.3 349.4 477.1 L 349.4 489.5 Q 342.7 487.7 335.6 489.5 Z" fill="#fff" stroke="#000" stroke-width="1.6"/>
<polyline points="339.6,478.2 339.6,488.6" fill="none" stroke="#000" stroke-width="1.2"/>
<polyline points="345.4,478.2 345.4,488.6" fill="none" stroke="#000" stroke-width="1.2"/>
<path d="M 362.7 477.1 Q 370.5 479.3 378.3 477.1 L 378.3 489.5 Q 370.5 487.7 362.7 489.5 Z" fill="#fff" stroke="#000" stroke-width="1.6"/>
<polyline points="367.8,478.2 367.8,488.6" fill="none" stroke="#000" stroke-width="1.2"/>
<polyline points="373.2,478.2 373.2,488.6" fill="none" stroke="#000" stroke-width="1.2"/>
<polyline points="362.7,483.3 378.3,483.3" fill="none" stroke="#000" stroke-width="1.2"/>
<circle cx="327.2" cy="497.7" r="0.9" fill="#000"/>
<polyline points="324.5,497.7 327.2,497.7" fill="none" stroke="#000" stroke-width="1.2"/>
<polygon points="325.4,514.4 327.2,510.8 329.4,514.4" fill="#111" stroke="#000" stroke-width="0.4"/>
<polyline points="323.7,513.1 326.3,513.1" fill="none" stroke="#000" stroke-width="1.2"/>
<polygon points="385.4,494.4 387.6,495.5 385.4,496.8" fill="#111" stroke="#000" stroke-width="0.4"/>
<polyline points="387.1,495.5 390.3,495.5" fill="none" stroke="#000" stroke-width="1.2"/>
<polygon points="385.4,502.6 387.6,503.7 385.4,505.1" fill="#111" stroke="#000" stroke-width="0.4"/>
<polyline points="387.1,503.7 390.3,503.7" fill="none" stroke="#000" stroke-width="1.2"/>
<polygon points="384,514.4 386.3,510.8 388,514.4" fill="#fff" stroke="#000" stroke-width="1.3"/>
<polyline points="387.6,513.1 390.3,513.1" fill="none" stroke="#000" stroke-width="1.2"/>
<path d="M 369.8 521.5 L 369.8 512.2 L 379.2 512.2 L 379.2 521.5" fill="#fff" stroke="#000" stroke-width="1.5"/>
<path d="M 372.9 520.6 L 372.9 514.4 L 377.4 514.4 M 372.9 517.3 L 376.5 517.3" fill="none" stroke="#000" stroke-width="2.2"/>
<circle cx="356.5" cy="513.5" r="1.3" fill="#fff" stroke="#000" stroke-width="1.6"/>
<path d="M 356.5 515.1 Q 357.8 515.5 357.8 516.5 L 357.8 520 Q 357.8 521.1 356.5 521.5 Q 355.2 521.1 355.2 520 L 355.2 516.5 Q 355.2 515.5 356.5 515.1 Z" fill="#fff" stroke="#000" stroke-width="1.1"/>
<rect x="327.2" y="530.4" width="13.3" height="15.5" rx="0" fill="#f4831f" stroke="#000" stroke-width="2"/>
<rect x="332.1" y="535.5" width="4.7" height="5.6" rx="0" fill="#f4831f" stroke="#000" stroke-width="1.3"/>
<polyline points="323.7,538.1 327.2,538.1" fill="none" stroke="#000" stroke-width="1.2"/>
<path d="M 356.5 520.6 Q 359 521.4 359 523.3 L 359 527.7 Q 359 529.6 356.5 530.4 Q 354.1 529.6 354.1 527.7 L 354.1 523.3 Q 354.1 521.4 356.5 520.6 Z" fill="#fff" stroke="#000" stroke-width="1.1"/>
<path d="M 356.5 545.9 Q 358.1 546.4 358.1 547.6 L 358.1 552.2 Q 358.1 553.4 356.5 553.9 Q 355 553.4 355 552.2 L 355 547.6 Q 355 546.4 356.5 545.9 Z" fill="#fff" stroke="#000" stroke-width="1.1"/>
<circle cx="356.5" cy="538.1" r="8.4" fill="#fff" stroke="#000" stroke-width="1.1"/>
<circle cx="356.5" cy="538.1" r="4.9" fill="#fff" stroke="#000" stroke-width="1.1"/>
<circle cx="356.5" cy="538.1" r="0.9" fill="#fff" stroke="#000" stroke-width="0.8"/>
<rect x="374.3" y="529.9" width="12.4" height="16.7" rx="0" fill="#fff" stroke="#000" stroke-width="1.6"/>
<rect x="376.5" y="533.9" width="8" height="8.2" rx="0" fill="#fff" stroke="#000" stroke-width="1.2"/>
<polyline points="386.7,538.1 390.3,538.1" fill="none" stroke="#000" stroke-width="1.2"/>
<polyline points="329.9,558.3 329.9,565.5" fill="none" stroke="#000" stroke-width="2.6"/>
<polyline points="323.7,561.7 329.9,561.7" fill="none" stroke="#000" stroke-width="1.2"/>
<polyline points="383.2,558.3 383.2,565.5" fill="none" stroke="#000" stroke-width="2.6"/>
<polyline points="383.2,561.7 390.3,561.7" fill="none" stroke="#000" stroke-width="1.2"/>
<rect x="329.4" y="574.3" width="5.6" height="5.8" rx="0" fill="#fff" stroke="#000" stroke-width="1.4"/>
<polyline points="328.5,574.3 335.6,574.3" fill="none" stroke="#000" stroke-width="2"/>
<polyline points="323.7,577 329.4,577" fill="none" stroke="#000" stroke-width="1.2"/>
<rect x="379.4" y="574.3" width="5.6" height="5.8" rx="0" fill="#fff" stroke="#000" stroke-width="1.4"/>
<polyline points="378.7,574.3 385.8,574.3" fill="none" stroke="#000" stroke-width="2"/>
<polyline points="384.9,577 390.3,577" fill="none" stroke="#000" stroke-width="1.2"/>
<path d="M 348.3 601 L 348.3 574.3 C 349 567.7 352.7 565 355.6 565 C 358.7 565 362.7 567.7 363.2 574.3 L 363.2 601 Z" fill="#fff" stroke="#000" stroke-width="1.8"/>
<polyline points="353.2,565.5 353.2,601" fill="none" stroke="#000" stroke-width="1.1"/>
<polyline points="358.3,565.5 358.3,601" fill="none" stroke="#000" stroke-width="1.1"/>
<polyline points="348.3,571.7 363.2,571.7" fill="none" stroke="#000" stroke-width="1.1"/>
<polyline points="348.3,579.2 363.2,579.2" fill="none" stroke="#000" stroke-width="1.1"/>
<polyline points="348.3,586.5 363.2,586.5" fill="none" stroke="#000" stroke-width="1.1"/>
<polyline points="348.3,589.4 363.2,589.4" fill="none" stroke="#000" stroke-width="1.1"/>
<polyline points="348.3,595.4 363.2,595.4" fill="none" stroke="#000" stroke-width="1.1"/>
<path d="M 355.4 601.4 Q 356.7 601.9 356.7 602.9 L 356.7 608.8 Q 356.7 609.9 355.4 610.3 Q 354.1 609.9 354.1 608.8 L 354.1 602.9 Q 354.1 601.9 355.4 601.4 Z" fill="#fff" stroke="#000" stroke-width="1.1"/>
<path d="M 326.8 598.3 C 327.2 592.1 338.3 592.1 339.4 598.3 L 336.1 601.4 L 329.9 601.4 Z" fill="#fff" stroke="#000" stroke-width="1.6"/>
<polyline points="330.8,593.9 330.8,601.4" fill="none" stroke="#000" stroke-width="1"/>
<polyline points="335.6,593.9 335.6,601.4" fill="none" stroke="#000" stroke-width="1"/>
<path d="M 333 601.9 Q 334.3 602.3 334.3 603.3 L 334.3 608.8 Q 334.3 609.9 333 610.3 Q 331.6 609.9 331.6 608.8 L 331.6 603.3 Q 331.6 602.3 333 601.9 Z" fill="#fff" stroke="#000" stroke-width="1.1"/>
<path d="M 372.1 598.3 L 377.2 592.1 L 381.6 592.1 L 386.7 598.3 L 383.2 601.4 L 375.6 601.4 Z" fill="#fff" stroke="#000" stroke-width="1.6"/>
<polyline points="377.2,592.1 375.6,601.4" fill="none" stroke="#000" stroke-width="1.2"/>
<polyline points="381.6,592.1 383.2,601.4" fill="none" stroke="#000" stroke-width="1.2"/>
<polyline points="374.3,596.5 384.5,596.5" fill="none" stroke="#000" stroke-width="1"/>
<path d="M 379.2 601.9 Q 380.5 602.3 380.5 603.3 L 380.5 608.8 Q 380.5 609.9 379.2 610.3 Q 377.8 609.9 377.8 608.8 L 377.8 603.3 Q 377.8 602.3 379.2 601.9 Z" fill="#fff" stroke="#000" stroke-width="1.1"/>
<rect x="338.4" y="462.2" width="8.6" height="5.8" rx="1.7" fill="#fff" stroke="#111" stroke-width="0.9"/>
<text x="342.7" y="467" font-size="5.4" text-anchor="middle" fill="#444" font-weight="bold">4</text>
<rect x="366.2" y="462.2" width="8.6" height="5.8" rx="1.7" fill="#fff" stroke="#111" stroke-width="0.9"/>
<text x="370.5" y="467" font-size="5.4" text-anchor="middle" fill="#444" font-weight="bold">3</text>
<rect x="314.2" y="494.8" width="9.2" height="5.8" rx="1.7" fill="#fff" stroke="#111" stroke-width="0.9"/>
<text x="318.8" y="499.7" font-size="5.4" text-anchor="middle" fill="#444" font-weight="bold">12</text>
<rect x="314.2" y="509.9" width="9.2" height="5.8" rx="1.7" fill="#fff" stroke="#111" stroke-width="0.9"/>
<text x="318.8" y="514.8" font-size="5.4" text-anchor="middle" fill="#444" font-weight="bold">17</text>
<rect x="390.6" y="492.6" width="8.6" height="5.8" rx="1.7" fill="#fff" stroke="#111" stroke-width="0.9"/>
<text x="394.9" y="497.5" font-size="5.4" text-anchor="middle" fill="#444" font-weight="bold">8</text>
<rect x="390.3" y="500.8" width="9.2" height="5.8" rx="1.7" fill="#fff" stroke="#111" stroke-width="0.9"/>
<text x="394.9" y="505.7" font-size="5.4" text-anchor="middle" fill="#444" font-weight="bold">13</text>
<rect x="390.3" y="509.9" width="9.2" height="5.8" rx="1.7" fill="#fff" stroke="#111" stroke-width="0.9"/>
<text x="394.9" y="514.8" font-size="5.4" text-anchor="middle" fill="#444" font-weight="bold">16</text>
<rect x="351.9" y="519.3" width="9.2" height="5.8" rx="1.7" fill="#fff" stroke="#111" stroke-width="0.9"/>
<text x="356.5" y="524.1" font-size="5.4" text-anchor="middle" fill="#444" font-weight="bold">11</text>
<rect x="314.5" y="535.2" width="8.6" height="5.8" rx="1.7" fill="#fff" stroke="#111" stroke-width="0.9"/>
<text x="318.8" y="540.1" font-size="5.4" text-anchor="middle" fill="#444" font-weight="bold">9</text>
<rect x="390.3" y="535.2" width="9.2" height="5.8" rx="1.7" fill="#fff" stroke="#111" stroke-width="0.9"/>
<text x="394.9" y="540.1" font-size="5.4" text-anchor="middle" fill="#444" font-weight="bold">10</text>
<rect x="314.5" y="558.8" width="8.6" height="5.8" rx="1.7" fill="#fff" stroke="#111" stroke-width="0.9"/>
<text x="318.8" y="563.6" font-size="5.4" text-anchor="middle" fill="#444" font-weight="bold">6</text>
<rect x="390.6" y="558.8" width="8.6" height="5.8" rx="1.7" fill="#fff" stroke="#111" stroke-width="0.9"/>
<text x="394.9" y="563.6" font-size="5.4" text-anchor="middle" fill="#444" font-weight="bold">7</text>
<rect x="314.2" y="574.1" width="9.2" height="5.8" rx="1.7" fill="#fff" stroke="#111" stroke-width="0.9"/>
<text x="318.8" y="578.9" font-size="5.4" text-anchor="middle" fill="#444" font-weight="bold">14</text>
<rect x="390.3" y="574.1" width="9.2" height="5.8" rx="1.7" fill="#fff" stroke="#111" stroke-width="0.9"/>
<text x="394.9" y="578.9" font-size="5.4" text-anchor="middle" fill="#444" font-weight="bold">15</text>
<rect x="328.5" y="609.6" width="8.6" height="5.8" rx="1.7" fill="#fff" stroke="#111" stroke-width="0.9"/>
<text x="332.8" y="614.5" font-size="5.4" text-anchor="middle" fill="#444" font-weight="bold">5</text>
<rect x="350.7" y="609.6" width="8.6" height="5.8" rx="1.7" fill="#fff" stroke="#111" stroke-width="0.9"/>
<text x="355" y="614.5" font-size="5.4" text-anchor="middle" fill="#444" font-weight="bold">2</text>
<rect x="374" y="609.6" width="8.6" height="5.8" rx="1.7" fill="#fff" stroke="#111" stroke-width="0.9"/>
<text x="378.3" y="614.5" font-size="5.4" text-anchor="middle" fill="#444" font-weight="bold">1</text>
</g>
<g id="sprueE">
<rect x="446.3" y="407.9" width="133.8" height="237.9" rx="10" fill="none" stroke="#000" stroke-width="1.1"/>
<rect x="451.3" y="412.4" width="123.9" height="229.1" rx="5" fill="none" stroke="#000" stroke-width="1.1"/>
<polyline points="493.5,412.3 493.5,520.3" fill="none" stroke="#000" stroke-width="1.1"/>
<polyline points="498.9,412.3 498.9,517.8" fill="none" stroke="#000" stroke-width="1.1"/>
<polyline points="527.2,412.3 527.2,517.8" fill="none" stroke="#000" stroke-width="1.1"/>
<polyline points="532.8,412.3 532.8,520.3" fill="none" stroke="#000" stroke-width="1.1"/>
<polyline points="451.3,577.3 575.2,577.3" fill="none" stroke="#000" stroke-width="1.1"/>
<polyline points="451.3,581.2 510.7,581.2" fill="none" stroke="#000" stroke-width="1.1"/>
<polyline points="515.3,581.2 575.2,581.2" fill="none" stroke="#000" stroke-width="1.1"/>
<polyline points="451.3,615.4 510.7,615.4" fill="none" stroke="#000" stroke-width="1.1"/>
<polyline points="515.3,615.4 575.2,615.4" fill="none" stroke="#000" stroke-width="1.1"/>
<polyline points="451.3,619.6 575.2,619.6" fill="none" stroke="#000" stroke-width="1.1"/>
<polyline points="510.7,545 510.7,615.4" fill="none" stroke="#000" stroke-width="1.1"/>
<polyline points="515.3,545 515.3,615.4" fill="none" stroke="#000" stroke-width="1.1"/>
<polyline points="484.3,518.3 494,518.3" fill="none" stroke="#000" stroke-width="1.1"/>
<polyline points="498.3,518.3 530.7,518.3" fill="none" stroke="#000" stroke-width="1.1"/>
<polyline points="499.4,522.6 529,522.6" fill="none" stroke="#000" stroke-width="1.1"/>
<path d="M 462.7 430.4 L 478.4 430.4 L 478.9 504.7 L 468.1 504.7 C 461.6 491.3 459.9 476.2 461.2 458.9 C 461.6 445.9 462 437.3 462.7 430.4 Z" fill="#fff" stroke="#000" stroke-width="1.1"/>
<path d="M 463.3 431.2 C 469.2 443.8 470.2 463.2 468.5 484.8 L 468.1 504.2" fill="none" stroke="#000" stroke-width="0.7"/>
<path d="M 464.2 433 C 466.3 445.9 466.3 463.2 464.2 482.6" fill="none" stroke="#000" stroke-width="0.6"/>
<circle cx="463.8" cy="481.6" r="0.4" fill="#000"/>
<circle cx="469.8" cy="481.6" r="0.4" fill="#000"/>
<polygon points="462.7,506.4 468.1,504.9 478.9,504.9 483.2,508.1 484.3,521.5 480.6,571.2 472.4,573.8" fill="#fff" stroke="#000" stroke-width="1.1"/>
<polyline points="478.9,505.3 474.6,571.2" fill="none" stroke="#000" stroke-width="0.7"/>
<rect x="468.7" y="497.8" width="6.9" height="16.4" rx="0" fill="#fff" stroke="#000" stroke-width="0.9"/>
<polyline points="472.2,497.8 472.2,514.2" fill="none" stroke="#000" stroke-width="0.6"/>
<polyline points="468.7,506.4 475.6,506.4" fill="none" stroke="#000" stroke-width="0.6"/>
<ellipse cx="473.5" cy="552.2" rx="2.6" ry="13" fill="#444" stroke="#000" stroke-width="0.6"/>
<circle cx="472.4" cy="530.6" r="0.4" fill="#000"/>
<polygon points="484.3,541.4 505.9,553.5 505.9,560.4 480.6,560.4" fill="#fff" stroke="#000" stroke-width="0.9"/>
<path d="M 448.6 436.2 Q 449.4 433.8 451.3 433.8 L 459 433.8 Q 460.8 433.8 461.6 436.2 Q 460.8 438.6 459 438.6 L 451.3 438.6 Q 449.4 438.6 448.6 436.2 Z" fill="#fff" stroke="#000" stroke-width="1.1"/>
<path d="M 479.3 460.6 Q 480.2 458 482.2 458 L 492.2 458 Q 494.2 458 495.1 460.6 Q 494.2 463.2 492.2 463.2 L 482.2 463.2 Q 480.2 463.2 479.3 460.6 Z" fill="#fff" stroke="#000" stroke-width="1.1"/>
<path d="M 484.3 520.4 Q 485 518.3 486.7 518.3 L 494.2 518.3 Q 495.9 518.3 496.6 520.4 Q 495.9 522.6 494.2 522.6 L 486.7 522.6 Q 485 522.6 484.3 520.4 Z" fill="#fff" stroke="#000" stroke-width="1.1"/>
<path d="M 454 543.5 Q 454.8 541.4 456.4 541.4 L 463.1 541.4 Q 464.8 541.4 465.5 543.5 Q 464.8 545.7 463.1 545.7 L 456.4 545.7 Q 454.8 545.7 454 543.5 Z" fill="#fff" stroke="#000" stroke-width="1.1"/>
<path d="M 493.6 522.6 C 494.4 532.3 504.8 537.7 510.2 544.8" fill="none" stroke="#000" stroke-width="1.1"/>
<path d="M 498.7 522.6 C 499.4 529.1 508 534.5 512.4 539.9" fill="none" stroke="#000" stroke-width="1.1"/>
<rect x="497.9" y="466.9" width="4.3" height="6.5" rx="1.7" fill="#fff" stroke="#000" stroke-width="0.9"/>
<polyline points="499,471 501.1,471" fill="none" stroke="#000" stroke-width="0.8"/>
<rect x="450.8" y="536" width="4.3" height="6.5" rx="1.7" fill="#fff" stroke="#000" stroke-width="0.9"/>
<polyline points="451.9,540.1 454,540.1" fill="none" stroke="#000" stroke-width="0.8"/>
<path d="M 505.9 435.1 L 508.7 443.3 L 508.7 460.6 L 505.9 466.2 L 503.1 460.6 L 503.1 443.3 Z" fill="#fff" stroke="#000" stroke-width="1"/>
<polygon points="505.9,434.7 507.6,441.6 504.1,441.6" fill="#111" stroke="#000" stroke-width="0.5"/>
<polygon points="496.2,445.9 498.7,443.4 501.3,445.9 498.7,448.4" fill="#fff" stroke="#000" stroke-width="1.1"/>
<polygon points="496.2,457.8 498.7,455.3 501.3,457.8 498.7,460.3" fill="#fff" stroke="#000" stroke-width="1.1"/>
<path d="M 563.5 430.4 L 547.8 430.4 L 547.3 504.7 L 558.1 504.7 C 564.6 491.3 566.3 476.2 565 458.9 C 564.6 445.9 564.2 437.3 563.5 430.4 Z" fill="#fff" stroke="#000" stroke-width="1.1"/>
<path d="M 562.9 431.2 C 557 443.8 556 463.2 557.7 484.8 L 558.1 504.2" fill="none" stroke="#000" stroke-width="0.7"/>
<path d="M 562 433 C 559.9 445.9 559.9 463.2 562 482.6" fill="none" stroke="#000" stroke-width="0.6"/>
<circle cx="562.4" cy="481.6" r="0.4" fill="#000"/>
<circle cx="556.4" cy="481.6" r="0.4" fill="#000"/>
<polygon points="563.5,506.4 558.1,504.9 547.3,504.9 543,508.1 541.9,521.5 545.6,571.2 553.8,573.8" fill="#fff" stroke="#000" stroke-width="1.1"/>
<polyline points="547.3,505.3 551.6,571.2" fill="none" stroke="#000" stroke-width="0.7"/>
<rect x="550.6" y="497.8" width="6.9" height="16.4" rx="0" fill="#fff" stroke="#000" stroke-width="0.9"/>
<polyline points="554,497.8 554,514.2" fill="none" stroke="#000" stroke-width="0.6"/>
<polyline points="557.5,506.4 550.6,506.4" fill="none" stroke="#000" stroke-width="0.6"/>
<ellipse cx="552.7" cy="552.2" rx="2.6" ry="13" fill="#444" stroke="#000" stroke-width="0.6"/>
<circle cx="553.8" cy="530.6" r="0.4" fill="#000"/>
<polygon points="541.9,541.4 520.3,553.5 520.3,560.4 545.6,560.4" fill="#fff" stroke="#000" stroke-width="0.9"/>
<path d="M 577.6 436.2 Q 576.8 433.8 574.9 433.8 L 567.2 433.8 Q 565.4 433.8 564.6 436.2 Q 565.4 438.6 567.2 438.6 L 574.9 438.6 Q 576.8 438.6 577.6 436.2 Z" fill="#fff" stroke="#000" stroke-width="1.1"/>
<path d="M 546.9 460.6 Q 546 458 544 458 L 534 458 Q 532 458 531.1 460.6 Q 532 463.2 534 463.2 L 544 463.2 Q 546 463.2 546.9 460.6 Z" fill="#fff" stroke="#000" stroke-width="1.1"/>
<path d="M 541.9 520.4 Q 541.2 518.3 539.5 518.3 L 532 518.3 Q 530.3 518.3 529.6 520.4 Q 530.3 522.6 532 522.6 L 539.5 522.6 Q 541.2 522.6 541.9 520.4 Z" fill="#fff" stroke="#000" stroke-width="1.1"/>
<path d="M 572.2 543.5 Q 571.4 541.4 569.8 541.4 L 563.1 541.4 Q 561.4 541.4 560.7 543.5 Q 561.4 545.7 563.1 545.7 L 569.8 545.7 Q 571.4 545.7 572.2 543.5 Z" fill="#fff" stroke="#000" stroke-width="1.1"/>
<path d="M 532.6 522.6 C 531.8 532.3 521.4 537.7 516 544.8" fill="none" stroke="#000" stroke-width="1.1"/>
<path d="M 527.5 522.6 C 526.8 529.1 518.2 534.5 513.8 539.9" fill="none" stroke="#000" stroke-width="1.1"/>
<rect x="524" y="466.9" width="4.3" height="6.5" rx="1.7" fill="#fff" stroke="#000" stroke-width="0.9"/>
<polyline points="527.2,471 525.1,471" fill="none" stroke="#000" stroke-width="0.8"/>
<rect x="571.1" y="536" width="4.3" height="6.5" rx="1.7" fill="#fff" stroke="#000" stroke-width="0.9"/>
<polyline points="574.3,540.1 572.2,540.1" fill="none" stroke="#000" stroke-width="0.8"/>
<path d="M 520.3 435.1 L 517.5 443.3 L 517.5 460.6 L 520.3 466.2 L 523.1 460.6 L 523.1 443.3 Z" fill="#fff" stroke="#000" stroke-width="1"/>
<polygon points="520.3,434.7 518.6,441.6 522.1,441.6" fill="#111" stroke="#000" stroke-width="0.5"/>
<polygon points="530,445.9 527.5,443.4 524.9,445.9 527.5,448.4" fill="#fff" stroke="#000" stroke-width="1.1"/>
<polygon points="530,457.8 527.5,455.3 524.9,457.8 527.5,460.3" fill="#fff" stroke="#000" stroke-width="1.1"/>
<path d="M 508.7 410.3 Q 510.7 411 510.7 412.5 L 510.7 419.4 Q 510.7 421 508.7 421.6 Q 506.8 421 506.8 419.4 L 506.8 412.5 Q 506.8 411 508.7 410.3 Z" fill="#fff" stroke="#000" stroke-width="1.1"/>
<path d="M 517.3 410.3 Q 519.3 411 519.3 412.5 L 519.3 419.4 Q 519.3 421 517.3 421.6 Q 515.4 421 515.4 419.4 L 515.4 412.5 Q 515.4 411 517.3 410.3 Z" fill="#fff" stroke="#000" stroke-width="1.1"/>
<rect x="523.5" y="409.8" width="4.9" height="7.4" rx="2" fill="#fff" stroke="#000" stroke-width="0.9"/>
<polyline points="503.8,424.1 521.5,424.1" fill="none" stroke="#000" stroke-width="2"/>
<polygon points="510,423.6 512.9,420.6 515.9,423.6" fill="#fff" stroke="#000" stroke-width="1"/>
<polygon points="502.7,424.1 504.3,422.5 505.9,424.1 504.3,425.7" fill="#fff" stroke="#000" stroke-width="1.1"/>
<polygon points="519.9,424.1 521.5,422.5 523.1,424.1 521.5,425.7" fill="#fff" stroke="#000" stroke-width="1.1"/>
<path d="M 496 487.2 Q 496.7 484.9 498.4 484.9 L 502.6 484.9 Q 504.3 484.9 505.1 487.2 Q 504.3 489.4 502.6 489.4 L 498.4 489.4 Q 496.7 489.4 496 487.2 Z" fill="#fff" stroke="#000" stroke-width="1.1"/>
<path d="M 521.5 487.2 Q 522.2 484.9 523.9 484.9 L 527.9 484.9 Q 529.6 484.9 530.4 487.2 Q 529.6 489.4 527.9 489.4 L 523.9 489.4 Q 522.2 489.4 521.5 487.2 Z" fill="#fff" stroke="#000" stroke-width="1.1"/>
<circle cx="513.2" cy="487.2" r="9.3" fill="#fff" stroke="#000" stroke-width="1.1"/>
<circle cx="513.2" cy="487.2" r="5.4" fill="#fff" stroke="#000" stroke-width="1.1"/>
<circle cx="513.2" cy="487.2" r="1.2" fill="#fff" stroke="#000" stroke-width="0.8"/>
<rect x="519.8" y="511.7" width="8.1" height="7.6" rx="0" fill="#111" stroke="#000" stroke-width="0.5"/>
<path d="M 522 513.4 L 522 517.4 L 525.9 517.4" fill="none" stroke="#fff" stroke-width="1"/>
<ellipse cx="513" cy="530.2" rx="4.8" ry="3" fill="#222" stroke="#000" stroke-width="1.1"/>
<polyline points="508.7,529.1 517.3,529.1" fill="none" stroke="#fff" stroke-width="0.7"/>
<polyline points="508.7,531 517.3,531" fill="none" stroke="#fff" stroke-width="0.7"/>
<circle cx="513" cy="523.7" r="1.3" fill="#fff" stroke="#000" stroke-width="1"/>
<path d="M 513 534 Q 514.9 534.7 514.9 536.2 L 514.9 538.8 Q 514.9 540.3 513 541 Q 511.1 540.3 511.1 538.8 L 511.1 536.2 Q 511.1 534.7 513 534 Z" fill="#fff" stroke="#000" stroke-width="1.1"/>
<rect x="524.2" y="521.1" width="4.3" height="6.5" rx="1.7" fill="#fff" stroke="#000" stroke-width="0.9"/>
<rect x="450.1" y="579.1" width="5.4" height="7.4" rx="2" fill="#eee" stroke="#000" stroke-width="0.9"/>
<polyline points="451.3,582.3 454.2,582.3" fill="none" stroke="#000" stroke-width="0.7"/>
<polyline points="451.3,584 454.2,584" fill="none" stroke="#000" stroke-width="0.7"/>
<rect x="478.5" y="579.1" width="5.4" height="7.4" rx="2" fill="#eee" stroke="#000" stroke-width="0.9"/>
<polyline points="479.8,582.3 482.7,582.3" fill="none" stroke="#000" stroke-width="0.7"/>
<polyline points="479.8,584 482.7,584" fill="none" stroke="#000" stroke-width="0.7"/>
<rect x="507.3" y="579.1" width="5.4" height="7.4" rx="2" fill="#eee" stroke="#000" stroke-width="0.9"/>
<polyline points="508.5,582.3 511.4,582.3" fill="none" stroke="#000" stroke-width="0.7"/>
<polyline points="508.5,584 511.4,584" fill="none" stroke="#000" stroke-width="0.7"/>
<rect x="513.9" y="579.1" width="5.4" height="7.4" rx="2" fill="#eee" stroke="#000" stroke-width="0.9"/>
<polyline points="515.1,582.3 518.1,582.3" fill="none" stroke="#000" stroke-width="0.7"/>
<polyline points="515.1,584 518.1,584" fill="none" stroke="#000" stroke-width="0.7"/>
<rect x="571.1" y="579.1" width="5.4" height="7.4" rx="2" fill="#eee" stroke="#000" stroke-width="0.9"/>
<polyline points="572.3,582.3 575.3,582.3" fill="none" stroke="#000" stroke-width="0.7"/>
<polyline points="572.3,584 575.3,584" fill="none" stroke="#000" stroke-width="0.7"/>
<rect x="450.1" y="609.3" width="5.4" height="7.4" rx="2" fill="#eee" stroke="#000" stroke-width="0.9"/>
<polyline points="451.3,612.5 454.2,612.5" fill="none" stroke="#000" stroke-width="0.7"/>
<polyline points="451.3,614.2 454.2,614.2" fill="none" stroke="#000" stroke-width="0.7"/>
<rect x="478.5" y="609.3" width="5.4" height="7.4" rx="2" fill="#eee" stroke="#000" stroke-width="0.9"/>
<polyline points="479.8,612.5 482.7,612.5" fill="none" stroke="#000" stroke-width="0.7"/>
<polyline points="479.8,614.2 482.7,614.2" fill="none" stroke="#000" stroke-width="0.7"/>
<rect x="507.3" y="609.3" width="5.4" height="7.4" rx="2" fill="#eee" stroke="#000" stroke-width="0.9"/>
<polyline points="508.5,612.5 511.4,612.5" fill="none" stroke="#000" stroke-width="0.7"/>
<polyline points="508.5,614.2 511.4,614.2" fill="none" stroke="#000" stroke-width="0.7"/>
<rect x="513.9" y="609.3" width="5.4" height="7.4" rx="2" fill="#eee" stroke="#000" stroke-width="0.9"/>
<polyline points="515.1,612.5 518.1,612.5" fill="none" stroke="#000" stroke-width="0.7"/>
<polyline points="515.1,614.2 518.1,614.2" fill="none" stroke="#000" stroke-width="0.7"/>
<rect x="571.1" y="608.1" width="5.4" height="7.4" rx="2" fill="#eee" stroke="#000" stroke-width="0.9"/>
<polyline points="572.3,611.2 575.3,611.2" fill="none" stroke="#000" stroke-width="0.7"/>
<polyline points="572.3,613 575.3,613" fill="none" stroke="#000" stroke-width="0.7"/>
<rect x="458.9" y="618.4" width="5.4" height="7.4" rx="2" fill="#eee" stroke="#000" stroke-width="0.9"/>
<polyline points="460.1,621.6 463.1,621.6" fill="none" stroke="#000" stroke-width="0.7"/>
<polyline points="460.1,623.3 463.1,623.3" fill="none" stroke="#000" stroke-width="0.7"/>
<rect x="472.2" y="618.4" width="5.4" height="7.4" rx="2" fill="#eee" stroke="#000" stroke-width="0.9"/>
<polyline points="473.4,621.6 476.3,621.6" fill="none" stroke="#000" stroke-width="0.7"/>
<polyline points="473.4,623.3 476.3,623.3" fill="none" stroke="#000" stroke-width="0.7"/>
<rect x="486.4" y="618.4" width="5.4" height="7.4" rx="2" fill="#eee" stroke="#000" stroke-width="0.9"/>
<polyline points="487.6,621.6 490.6,621.6" fill="none" stroke="#000" stroke-width="0.7"/>
<polyline points="487.6,623.3 490.6,623.3" fill="none" stroke="#000" stroke-width="0.7"/>
<rect x="535.5" y="618.4" width="5.4" height="7.4" rx="2" fill="#eee" stroke="#000" stroke-width="0.9"/>
<polyline points="536.7,621.6 539.7,621.6" fill="none" stroke="#000" stroke-width="0.7"/>
<polyline points="536.7,623.3 539.7,623.3" fill="none" stroke="#000" stroke-width="0.7"/>
<rect x="549" y="618.4" width="5.4" height="7.4" rx="2" fill="#eee" stroke="#000" stroke-width="0.9"/>
<polyline points="550.2,621.6 553.2,621.6" fill="none" stroke="#000" stroke-width="0.7"/>
<polyline points="550.2,623.3 553.2,623.3" fill="none" stroke="#000" stroke-width="0.7"/>
<rect x="562.5" y="618.4" width="5.4" height="7.4" rx="2" fill="#eee" stroke="#000" stroke-width="0.9"/>
<polyline points="563.7,621.6 566.7,621.6" fill="none" stroke="#000" stroke-width="0.7"/>
<polyline points="563.7,623.3 566.7,623.3" fill="none" stroke="#000" stroke-width="0.7"/>
<rect x="497.5" y="635.1" width="5.4" height="7.4" rx="2" fill="#eee" stroke="#000" stroke-width="0.9"/>
<polyline points="498.7,638.3 501.6,638.3" fill="none" stroke="#000" stroke-width="0.7"/>
<polyline points="498.7,640 501.6,640" fill="none" stroke="#000" stroke-width="0.7"/>
<path d="M 465.8 578.8 Q 467.7 579.5 467.7 581 L 467.7 584 Q 467.7 585.6 465.8 586.2 Q 463.8 585.6 463.8 584 L 463.8 581 Q 463.8 579.5 465.8 578.8 Z" fill="#fff" stroke="#000" stroke-width="1.1"/>
<path d="M 465.8 609.8 Q 467.7 610.4 467.7 611.9 L 467.7 615 Q 467.7 616.5 465.8 617.1 Q 463.8 616.5 463.8 615 L 463.8 611.9 Q 463.8 610.4 465.8 609.8 Z" fill="#fff" stroke="#000" stroke-width="1.1"/>
<path d="M 500.2 578.8 Q 502.1 579.5 502.1 581 L 502.1 584 Q 502.1 585.6 500.2 586.2 Q 498.2 585.6 498.2 584 L 498.2 581 Q 498.2 579.5 500.2 578.8 Z" fill="#fff" stroke="#000" stroke-width="1.1"/>
<path d="M 500.2 609.8 Q 502.1 610.4 502.1 611.9 L 502.1 615 Q 502.1 616.5 500.2 617.1 Q 498.2 616.5 498.2 615 L 498.2 611.9 Q 498.2 610.4 500.2 609.8 Z" fill="#fff" stroke="#000" stroke-width="1.1"/>
<path d="M 532.8 578.8 Q 534.8 579.5 534.8 581 L 534.8 584 Q 534.8 585.6 532.8 586.2 Q 530.8 585.6 530.8 584 L 530.8 581 Q 530.8 579.5 532.8 578.8 Z" fill="#fff" stroke="#000" stroke-width="1.1"/>
<path d="M 532.8 609.8 Q 534.8 610.4 534.8 611.9 L 534.8 615 Q 534.8 616.5 532.8 617.1 Q 530.8 616.5 530.8 615 L 530.8 611.9 Q 530.8 610.4 532.8 609.8 Z" fill="#fff" stroke="#000" stroke-width="1.1"/>
<path d="M 561.5 578.8 Q 563.5 579.5 563.5 581 L 563.5 584 Q 563.5 585.6 561.5 586.2 Q 559.6 585.6 559.6 584 L 559.6 581 Q 559.6 579.5 561.5 578.8 Z" fill="#fff" stroke="#000" stroke-width="1.1"/>
<path d="M 561.5 609.8 Q 563.5 610.4 563.5 611.9 L 563.5 615 Q 563.5 616.5 561.5 617.1 Q 559.6 616.5 559.6 615 L 559.6 611.9 Q 559.6 610.4 561.5 609.8 Z" fill="#fff" stroke="#000" stroke-width="1.1"/>
<polygon points="448.5,590.6 451,588.1 453.6,590.6 451,593.2" fill="#fff" stroke="#000" stroke-width="1.1"/>
<polyline points="453.5,590.6 462.1,590.6" fill="none" stroke="#000" stroke-width="2"/>
<polyline points="462.1,590.6 465,587.7 473.1,588.2" fill="none" stroke="#000" stroke-width="1.6"/>
<polyline points="470.7,586.2 470.7,590.1" fill="none" stroke="#000" stroke-width="1.2"/>
<polygon points="448.5,607.3 451,604.8 453.6,607.3 451,609.9" fill="#fff" stroke="#000" stroke-width="1.1"/>
<polyline points="453.5,607.3 462.1,607.3" fill="none" stroke="#000" stroke-width="2"/>
<polyline points="462.1,607.3 465,604.4 473.1,604.9" fill="none" stroke="#000" stroke-width="1.6"/>
<polyline points="470.7,602.9 470.7,606.8" fill="none" stroke="#000" stroke-width="1.2"/>
<rect x="482.2" y="589.2" width="4.4" height="3.4" rx="0" fill="#fff" stroke="#000" stroke-width="1.5"/>
<circle cx="500.2" cy="589.6" r="2" fill="#111" stroke="#000" stroke-width="1.1"/>
<rect x="482.2" y="604.9" width="4.4" height="3.9" rx="0" fill="#111" stroke="#000" stroke-width="1.1"/>
<circle cx="500.2" cy="607.8" r="2" fill="#fff" stroke="#000" stroke-width="1.5"/>
<polyline points="497.9,606.8 502.4,606.8" fill="none" stroke="#000" stroke-width="1.8"/>
<polygon points="527.2,588.4 538.2,589.6 537,596.8 528.4,595.8" fill="#fff" stroke="#000" stroke-width="1.8"/>
<polyline points="527.4,590.6 538,591.6" fill="none" stroke="#000" stroke-width="1.4"/>
<polygon points="527.2,601.9 538.2,603.1 537,610.3 528.4,609.3" fill="#fff" stroke="#000" stroke-width="1.8"/>
<polyline points="527.4,604.1 538,605.1" fill="none" stroke="#000" stroke-width="1.4"/>
<polygon points="555.9,588.4 566.9,589.6 565.7,596.8 557.1,595.8" fill="#fff" stroke="#000" stroke-width="1.8"/>
<polyline points="556.1,590.6 566.7,591.6" fill="none" stroke="#000" stroke-width="1.4"/>
<polygon points="555.9,601.9 566.9,603.1 565.7,610.3 557.1,609.3" fill="#fff" stroke="#000" stroke-width="1.8"/>
<polyline points="556.1,604.1 566.7,605.1" fill="none" stroke="#000" stroke-width="1.4"/>
<polyline points="513.2,630.2 505.8,621.8" fill="none" stroke="#000" stroke-width="3"/>
<ellipse cx="504.8" cy="620.8" rx="2.9" ry="2" fill="#fff" stroke="#000" stroke-width="1.1" transform="rotate(45 504.8 620.8)"/>
<polyline points="513.2,630.2 520.5,621.8" fill="none" stroke="#000" stroke-width="3"/>
<ellipse cx="521.5" cy="620.8" rx="2.9" ry="2" fill="#fff" stroke="#000" stroke-width="1.1" transform="rotate(-45 521.5 620.8)"/>
<polyline points="513.2,630.2 505.8,638.5" fill="none" stroke="#000" stroke-width="3"/>
<ellipse cx="504.8" cy="639.5" rx="2.9" ry="2" fill="#fff" stroke="#000" stroke-width="1.1" transform="rotate(-45 504.8 639.5)"/>
<polyline points="513.2,630.2 520.5,638.5" fill="none" stroke="#000" stroke-width="3"/>
<ellipse cx="521.5" cy="639.5" rx="2.9" ry="2" fill="#fff" stroke="#000" stroke-width="1.1" transform="rotate(45 521.5 639.5)"/>
<circle cx="513.2" cy="630.2" r="3.7" fill="#fff" stroke="#000" stroke-width="2"/>
<polygon points="458,641.7 460.9,638.8 463.7,641.7 460.9,644.6" fill="#fff" stroke="#000" stroke-width="1.1"/>
<rect x="459.2" y="632.6" width="3.4" height="4.2" rx="0" fill="#111" stroke="#000" stroke-width="1.1"/>
<polygon points="471.5,641.7 474.4,638.8 477.2,641.7 474.4,644.6" fill="#fff" stroke="#000" stroke-width="1.1"/>
<polyline points="471.4,635.8 477.3,635.8" fill="none" stroke="#000" stroke-width="2"/>
<polyline points="474.4,633.3 474.4,639.2" fill="none" stroke="#000" stroke-width="2"/>
<polygon points="485.7,641.7 488.6,638.8 491.5,641.7 488.6,644.6" fill="#fff" stroke="#000" stroke-width="1.1"/>
<polyline points="487.9,632.6 487.9,639.2" fill="none" stroke="#000" stroke-width="2"/>
<polyline points="487.9,633.1 490.1,633.1" fill="none" stroke="#000" stroke-width="1.5"/>
<polyline points="487.9,635.8 490.1,635.8" fill="none" stroke="#000" stroke-width="1.5"/>
<polygon points="535.3,641.7 538.2,638.8 541.1,641.7 538.2,644.6" fill="#fff" stroke="#000" stroke-width="1.1"/>
<polyline points="538.2,632.6 538.2,639.2" fill="none" stroke="#000" stroke-width="2.2"/>
<polygon points="548.8,641.7 551.7,638.8 554.6,641.7 551.7,644.6" fill="#fff" stroke="#000" stroke-width="1.1"/>
<polyline points="548.8,635.8 554.7,635.8" fill="none" stroke="#000" stroke-width="2"/>
<polyline points="551.7,633.3 551.7,639.2" fill="none" stroke="#000" stroke-width="2"/>
<polygon points="562.3,641.7 565.2,638.8 568.1,641.7 565.2,644.6" fill="#fff" stroke="#000" stroke-width="1.1"/>
<rect x="563.5" y="632.6" width="3.4" height="4.2" rx="0" fill="#111" stroke="#000" stroke-width="1.1"/>
<rect x="568.6" y="545" width="6" height="32" rx="0" fill="#fff" stroke="#000" stroke-width="0.7"/>
<rect x="569.6" y="546.4" width="4" height="29.2" rx="0" fill="#555" stroke="#000" stroke-width="0"/>
<text x="571.6" y="561" font-size="3.6" fill="#fff" font-style="italic" font-weight="bold" text-anchor="middle" transform="rotate(-90 571.6 561)" font-family="'Liberation Serif',serif" dy="1.2">Clear Prop</text>
</g>
<g id="sprueF">
<polyline points="485.4,113.6 485.4,382.7" fill="none" stroke="#000" stroke-width="1.1"/>
<polyline points="489.1,111.7 489.1,384.6" fill="none" stroke="#000" stroke-width="1.1"/>
<path d="M 489.1 111.7 C 488.4 105.2 484.1 101.5 479.5 101.5 L 451.6 101.5 C 443.2 103.4 438.6 112.7 437.7 128.1 C 437.3 133.1 441.9 134.4 447.9 133.1" fill="none" stroke="#000" stroke-width="1.1"/>
<path d="M 485.4 113.6 C 484.7 108 482.3 105.2 478.6 105.2 L 455.3 105.2 C 447.9 108 443.8 115.4 442.7 128.8 C 442.7 130.3 445.1 130.7 447.9 129.9" fill="none" stroke="#000" stroke-width="1.1"/>
<path d="M 489.2 110.2 L 534.4 110.2 C 540 111 542.4 113.6 544.2 118.2 L 551.7 138.7 C 552.8 143 550.2 144.8 547.4 145.7 L 538.1 148.9" fill="none" stroke="#000" stroke-width="1.1"/>
<path d="M 489.2 113.6 L 533.1 113.6 C 537.2 114 539.4 116.4 540.5 120.1 L 547.4 138.1 C 548 140.4 546.8 141.1 545.5 141.5 L 536.2 144.8" fill="none" stroke="#000" stroke-width="1.1"/>
<polygon points="453.5,110.2 470.2,108.9 470.6,113.6 474.3,114 474.8,120.1 475.8,121 479.1,180.5 477.2,180.9 477.6,186.1 479.9,186.4 481,198.2 482.3,228.8 425.2,221.4 430.2,185.1 438.6,184.6 447.9,132.2" fill="#fff" stroke="#000" stroke-width="1.1"/>
<polyline points="471.3,121 473.9,121" fill="none" stroke="#000" stroke-width="1"/>
<polyline points="471.3,123.3 473.9,123.3" fill="none" stroke="#000" stroke-width="1"/>
<polyline points="471.3,125.5 473.9,125.5" fill="none" stroke="#000" stroke-width="1"/>
<polyline points="471.3,127.7 473.9,127.7" fill="none" stroke="#000" stroke-width="1"/>
<polyline points="471.3,129.9 473.9,129.9" fill="none" stroke="#000" stroke-width="1"/>
<polyline points="473.9,120.7 473.9,130.3" fill="none" stroke="#000" stroke-width="1"/>
<ellipse cx="449.4" cy="151.9" rx="2.2" ry="0.9" fill="#fff" stroke="#000" stroke-width="0.8" transform="rotate(-20 449.4 151.9)"/>
<rect x="435.8" y="205.6" width="34.4" height="2.2" rx="0" fill="#fff" stroke="#000" stroke-width="0.7"/>
<rect x="470.2" y="205.6" width="10.4" height="6.5" rx="0" fill="#fff" stroke="#000" stroke-width="0.7"/>
<path d="M 476.7 150 Q 477.3 148.3 478.6 148.3 L 485 148.3 Q 486.3 148.3 486.9 150 Q 486.3 151.8 485 151.8 L 478.6 151.8 Q 477.3 151.8 476.7 150 Z" fill="#fff" stroke="#000" stroke-width="1.1"/>
<polygon points="481.8,199.5 484.5,196.8 487.2,199.5 484.5,202.1" fill="#fff" stroke="#000" stroke-width="1.1"/>
<path d="M 487.3 157.3 Q 488.2 154.5 490.4 154.5 L 504.3 154.5 Q 506.4 154.5 507.4 157.3 Q 506.4 160.1 504.3 160.1 L 490.4 160.1 Q 488.2 160.1 487.3 157.3 Z" fill="#fff" stroke="#000" stroke-width="1.1"/>
<path d="M 487.3 230.7 Q 488.2 227.9 490.4 227.9 L 499.6 227.9 Q 501.8 227.9 502.7 230.7 Q 501.8 233.5 499.6 233.5 L 490.4 233.5 Q 488.2 233.5 487.3 230.7 Z" fill="#fff" stroke="#000" stroke-width="1.1"/>
<polyline points="503.3,248.2 503.3,214 505.2,193 513.4,192.6 513.4,186.4 505.6,186.1 507.4,138.7 510.2,137.8 509.3,128.5 508.4,124.4 512.6,123.8 513,120.1 518.6,118.8 527.9,121 534.4,127.5 530.7,129.4 531.6,130.3 544.6,191.7 552.4,192 559.1,215.8 559.1,226.2" fill="none" stroke="#000" stroke-width="1.1"/>
<path d="M 559.1 226.2 Q 562.3 237.8 581.8 241.3 L 585.7 241.8 L 585.7 248.5" fill="none" stroke="#000" stroke-width="1.1"/>
<circle cx="512.6" cy="156.3" r="0.4" fill="#000"/>
<circle cx="512.6" cy="158.6" r="0.4" fill="#000"/>
<circle cx="514.9" cy="156.3" r="0.4" fill="#000"/>
<circle cx="514.9" cy="158.6" r="0.4" fill="#000"/>
<circle cx="523.8" cy="156.3" r="0.4" fill="#000"/>
<circle cx="523.8" cy="158.6" r="0.4" fill="#000"/>
<circle cx="526" cy="156.3" r="0.4" fill="#000"/>
<circle cx="526" cy="158.6" r="0.4" fill="#000"/>
<polyline points="518.6,200 518.6,213" fill="none" stroke="#000" stroke-width="1.4"/>
<polyline points="528.8,200 528.8,213" fill="none" stroke="#000" stroke-width="1.4"/>
<circle cx="523.8" cy="203.7" r="0.7" fill="#000"/>
<circle cx="523.8" cy="208.4" r="0.7" fill="#000"/>
<rect x="503.3" y="213.2" width="34.8" height="2.2" rx="0" fill="#fff" stroke="#000" stroke-width="0.7"/>
<rect x="538.1" y="213.6" width="10.6" height="5" rx="0" fill="#fff" stroke="#000" stroke-width="0.7"/>
<rect x="532" y="213.6" width="6.1" height="3.2" rx="0" fill="#fff" stroke="#000" stroke-width="0.7"/>
<ellipse cx="512.6" cy="218" rx="6.7" ry="2.8" fill="#fff" stroke="#000" stroke-width="1.1"/>
<polyline points="507.4,218 518.2,218" fill="none" stroke="#000" stroke-width="0.6"/>
<polyline points="565.4,238.1 569.1,237" fill="none" stroke="#000" stroke-width="1.4"/>
<polyline points="569.1,248.2 571.6,245.9 585.1,243" fill="none" stroke="#000" stroke-width="0.8"/>
<rect x="503.3" y="237.8" width="10" height="4.1" rx="0" fill="#fff" stroke="#000" stroke-width="0.7"/>
<rect x="503.3" y="245.9" width="5" height="3.3" rx="0" fill="#fff" stroke="#000" stroke-width="0.7"/>
<polygon points="499.3,230.7 501.5,228.5 503.7,230.7 501.5,232.9" fill="#fff" stroke="#000" stroke-width="1.1"/>
<path d="M 467.4 229.2 Q 470 230 470 232 L 470 235.7 Q 470 237.7 467.4 238.5 Q 464.8 237.7 464.8 235.7 L 464.8 232 Q 464.8 230 467.4 229.2 Z" fill="#fff" stroke="#000" stroke-width="1.1"/>
<rect x="465.5" y="233.5" width="3.7" height="8.4" rx="0" fill="#fff" stroke="#000" stroke-width="0.7"/>
<path d="M 425.2 232.9 L 449.7 233.5 C 454.4 234.4 457.2 239.1 460 242.8" fill="none" stroke="#000" stroke-width="1.1"/>
<path d="M 425.2 237.8 L 447.9 238.1 C 451.6 239.1 454.4 242.8 457.2 246.5" fill="none" stroke="#000" stroke-width="1.1"/>
<path d="M 425.2 232.9 C 423.3 233.5 423.3 237.2 425.2 237.8" fill="none" stroke="#000" stroke-width="1.1"/>
<path d="M 445.1 226 Q 447.4 226.8 447.4 228.6 L 447.4 232.8 Q 447.4 234.6 445.1 235.3 Q 442.8 234.6 442.8 232.8 L 442.8 228.6 Q 442.8 226.8 445.1 226 Z" fill="#fff" stroke="#000" stroke-width="1.1"/>
<path d="M 489.1 384.7 C 488.4 391.2 484.1 394.9 479.5 394.9 L 451.6 394.9 C 443.2 393 438.6 383.7 437.7 368.3 C 437.3 363.3 441.9 362 447.9 363.3" fill="none" stroke="#000" stroke-width="1.1"/>
<path d="M 485.4 382.8 C 484.7 388.4 482.3 391.2 478.6 391.2 L 455.3 391.2 C 447.9 388.4 443.8 381 442.7 367.6 C 442.7 366.1 445.1 365.7 447.9 366.5" fill="none" stroke="#000" stroke-width="1.1"/>
<path d="M 489.2 386.2 L 534.4 386.2 C 540 385.4 542.4 382.8 544.2 378.2 L 551.7 357.7 C 552.8 353.4 550.2 351.6 547.4 350.7 L 538.1 347.5" fill="none" stroke="#000" stroke-width="1.1"/>
<path d="M 489.2 382.8 L 533.1 382.8 C 537.2 382.4 539.4 380 540.5 376.3 L 547.4 358.3 C 548 356 546.8 355.3 545.5 354.9 L 536.2 351.6" fill="none" stroke="#000" stroke-width="1.1"/>
<polygon points="453.5,386.2 470.2,387.5 470.6,382.8 474.3,382.4 474.8,376.3 475.8,375.4 479.1,315.9 477.2,315.5 477.6,310.3 479.9,310 481,298.2 482.3,267.6 425.2,275 430.2,311.3 438.6,311.8 447.9,364.2" fill="#fff" stroke="#000" stroke-width="1.1"/>
<polyline points="471.3,375.4 473.9,375.4" fill="none" stroke="#000" stroke-width="1"/>
<polyline points="471.3,373.1 473.9,373.1" fill="none" stroke="#000" stroke-width="1"/>
<polyline points="471.3,370.9 473.9,370.9" fill="none" stroke="#000" stroke-width="1"/>
<polyline points="471.3,368.7 473.9,368.7" fill="none" stroke="#000" stroke-width="1"/>
<polyline points="471.3,366.5 473.9,366.5" fill="none" stroke="#000" stroke-width="1"/>
<polyline points="473.9,375.7 473.9,366.1" fill="none" stroke="#000" stroke-width="1"/>
<ellipse cx="449.4" cy="344.5" rx="2.2" ry="0.9" fill="#fff" stroke="#000" stroke-width="0.8" transform="rotate(-20 449.4 344.5)"/>
<rect x="435.8" y="288.6" width="34.4" height="2.2" rx="0" fill="#fff" stroke="#000" stroke-width="0.7"/>
<rect x="470.2" y="284.3" width="10.4" height="6.5" rx="0" fill="#fff" stroke="#000" stroke-width="0.7"/>
<path d="M 476.7 346.4 Q 477.3 348.1 478.6 348.1 L 485 348.1 Q 486.3 348.1 486.9 346.4 Q 486.3 344.6 485 344.6 L 478.6 344.6 Q 477.3 344.6 476.7 346.4 Z" fill="#fff" stroke="#000" stroke-width="1.1"/>
<polygon points="481.8,296.9 484.5,299.6 487.2,296.9 484.5,294.3" fill="#fff" stroke="#000" stroke-width="1.1"/>
<path d="M 487.3 339.1 Q 488.2 341.9 490.4 341.9 L 504.3 341.9 Q 506.4 341.9 507.4 339.1 Q 506.4 336.3 504.3 336.3 L 490.4 336.3 Q 488.2 336.3 487.3 339.1 Z" fill="#fff" stroke="#000" stroke-width="1.1"/>
<path d="M 487.3 265.7 Q 488.2 268.5 490.4 268.5 L 499.6 268.5 Q 501.8 268.5 502.7 265.7 Q 501.8 262.9 499.6 262.9 L 490.4 262.9 Q 488.2 262.9 487.3 265.7 Z" fill="#fff" stroke="#000" stroke-width="1.1"/>
<polyline points="503.3,248.2 503.3,282.4 505.2,303.4 513.4,303.8 513.4,310 505.6,310.3 507.4,357.7 510.2,358.6 509.3,367.9 508.4,372 512.6,372.6 513,376.3 518.6,377.6 527.9,375.4 534.4,368.9 530.7,367 531.6,366.1 544.6,304.7 552.4,304.4 559.1,280.6 559.1,270.2" fill="none" stroke="#000" stroke-width="1.1"/>
<path d="M 559.1 270.2 Q 562.3 258.6 581.8 255.1 L 585.7 254.6 L 585.7 247.9" fill="none" stroke="#000" stroke-width="1.1"/>
<circle cx="512.6" cy="340.1" r="0.4" fill="#000"/>
<circle cx="512.6" cy="337.8" r="0.4" fill="#000"/>
<circle cx="514.9" cy="340.1" r="0.4" fill="#000"/>
<circle cx="514.9" cy="337.8" r="0.4" fill="#000"/>
<circle cx="523.8" cy="340.1" r="0.4" fill="#000"/>
<circle cx="523.8" cy="337.8" r="0.4" fill="#000"/>
<circle cx="526" cy="340.1" r="0.4" fill="#000"/>
<circle cx="526" cy="337.8" r="0.4" fill="#000"/>
<polyline points="518.6,296.4 518.6,283.4" fill="none" stroke="#000" stroke-width="1.4"/>
<polyline points="528.8,296.4 528.8,283.4" fill="none" stroke="#000" stroke-width="1.4"/>
<circle cx="523.8" cy="292.7" r="0.7" fill="#000"/>
<circle cx="523.8" cy="288" r="0.7" fill="#000"/>
<rect x="503.3" y="281" width="34.8" height="2.2" rx="0" fill="#fff" stroke="#000" stroke-width="0.7"/>
<rect x="538.1" y="277.8" width="10.6" height="5" rx="0" fill="#fff" stroke="#000" stroke-width="0.7"/>
<rect x="532" y="279.7" width="6.1" height="3.2" rx="0" fill="#fff" stroke="#000" stroke-width="0.7"/>
<ellipse cx="512.6" cy="278.4" rx="6.7" ry="2.8" fill="#fff" stroke="#000" stroke-width="1.1"/>
<polyline points="507.4,278.4 518.2,278.4" fill="none" stroke="#000" stroke-width="0.6"/>
<polyline points="565.4,258.3 569.1,259.4" fill="none" stroke="#000" stroke-width="1.4"/>
<polyline points="569.1,248.2 571.6,250.5 585.1,253.4" fill="none" stroke="#000" stroke-width="0.8"/>
<rect x="503.3" y="254.6" width="10" height="4.1" rx="0" fill="#fff" stroke="#000" stroke-width="0.7"/>
<rect x="503.3" y="247.1" width="5" height="3.3" rx="0" fill="#fff" stroke="#000" stroke-width="0.7"/>
<polygon points="499.3,265.7 501.5,267.9 503.7,265.7 501.5,263.5" fill="#fff" stroke="#000" stroke-width="1.1"/>
<path d="M 467.4 267.2 Q 470 266.4 470 264.4 L 470 260.7 Q 470 258.7 467.4 257.9 Q 464.8 258.7 464.8 260.7 L 464.8 264.4 Q 464.8 266.4 467.4 267.2 Z" fill="#fff" stroke="#000" stroke-width="1.1"/>
<rect x="465.5" y="254.6" width="3.7" height="8.4" rx="0" fill="#fff" stroke="#000" stroke-width="0.7"/>
<path d="M 425.2 263.5 L 449.7 262.9 C 454.4 262 457.2 257.3 460 253.6" fill="none" stroke="#000" stroke-width="1.1"/>
<path d="M 425.2 258.6 L 447.9 258.3 C 451.6 257.3 454.4 253.6 457.2 249.9" fill="none" stroke="#000" stroke-width="1.1"/>
<path d="M 425.2 263.5 C 423.3 262.9 423.3 259.2 425.2 258.6" fill="none" stroke="#000" stroke-width="1.1"/>
<path d="M 445.1 270.4 Q 447.4 269.6 447.4 267.8 L 447.4 263.6 Q 447.4 261.8 445.1 261.1 Q 442.8 261.8 442.8 263.6 L 442.8 267.8 Q 442.8 269.6 445.1 270.4 Z" fill="#fff" stroke="#000" stroke-width="1.1"/>
<rect x="475.8" y="246.3" width="9.7" height="3.7" rx="0" fill="#fff" stroke="#000" stroke-width="0.7"/>
<circle cx="467.4" cy="248.2" r="9.3" fill="#fff" stroke="#000" stroke-width="1.1"/>
<circle cx="467.4" cy="248.2" r="5.4" fill="#fff" stroke="#000" stroke-width="1.1"/>
<circle cx="467.4" cy="248.2" r="1.3" fill="#fff" stroke="#000" stroke-width="0.8"/>
<circle cx="481.3" cy="248.2" r="0.6" fill="#000"/>
<rect x="427.8" y="227.2" width="8.6" height="5.8" rx="1.7" fill="#fff" stroke="#111" stroke-width="0.9"/>
<text x="432.1" y="232.1" font-size="5.4" text-anchor="middle" fill="#444" font-weight="bold">2</text>
<rect x="427.8" y="264" width="8.6" height="5.8" rx="1.7" fill="#fff" stroke="#111" stroke-width="0.9"/>
<text x="432.1" y="268.9" font-size="5.4" text-anchor="middle" fill="#444" font-weight="bold">3</text>
<ellipse cx="580.3" cy="247.4" rx="1.7" ry="1.1" fill="#000" stroke="#000" stroke-width="1.1" transform="rotate(-15 580.3 247.4)"/>
<polygon points="566.6,248.2 568,246.7 569.5,248.2 568,249.6" fill="#fff" stroke="#000" stroke-width="1.1"/>
<rect x="531.2" y="237.2" width="16.7" height="21.9" rx="0" fill="#fff" stroke="#000" stroke-width="1.1"/>
<rect x="490.3" y="115.1" width="8.9" height="7.8" rx="0.7" fill="#fff" stroke="#000" stroke-width="0.8"/>
<rect x="491.4" y="116.9" width="6.7" height="4.8" rx="0" fill="#222" stroke="#000" stroke-width="0"/>
<rect x="490.3" y="348.5" width="8.9" height="32.3" rx="0.7" fill="#fff" stroke="#000" stroke-width="0.8"/>
<rect x="491.6" y="350" width="6.3" height="29.4" rx="0" fill="#333" stroke="#000" stroke-width="0"/>
<text x="494.7" y="366.2" font-size="4.6" fill="#fff" font-style="italic" font-weight="bold" text-anchor="middle" transform="rotate(-90 494.7 364.7)" font-family="'Liberation Serif',serif">Clear Prop</text>
</g>
</g>
</svg>
</body></html>
